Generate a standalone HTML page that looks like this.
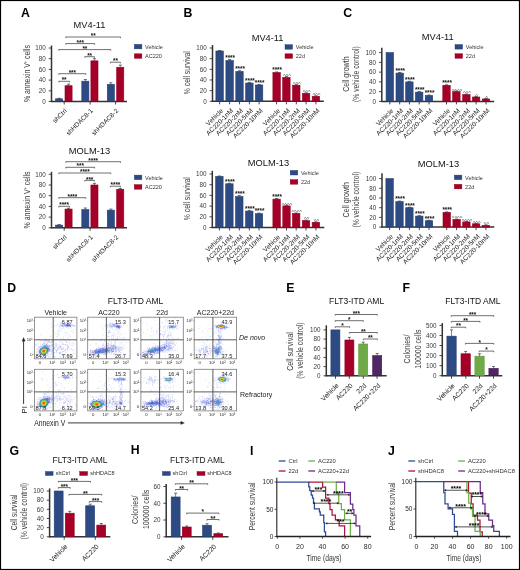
<!DOCTYPE html>
<html><head><meta charset="utf-8"><style>
html,body{margin:0;padding:0;background:#fff;}
svg{display:block;will-change:transform;font-family:"Liberation Sans",sans-serif;}
</style></head><body>
<svg width="520" height="570" viewBox="0 0 520 570">
<rect x="0" y="0" width="520" height="570" fill="#fff"/>
<text x="21" y="16.8" font-size="12.3" font-weight="bold" fill="#000">A</text>
<text x="183.6" y="17" font-size="12.3" font-weight="bold" fill="#000">B</text>
<text x="343.2" y="16.8" font-size="12.3" font-weight="bold" fill="#000">C</text>
<text x="89.5" y="27.7" font-size="9.3" text-anchor="middle" fill="#111">MV4-11</text>
<line x1="51.5" y1="45.5" x2="51.5" y2="102" stroke="#333" stroke-width="1.5"/>
<line x1="48.7" y1="101.5" x2="51.5" y2="101.5" stroke="#333" stroke-width="0.9"/>
<text x="45.7" y="103.77" font-size="6.3" text-anchor="end" fill="#3a3a3a">0</text>
<line x1="48.7" y1="90.8" x2="51.5" y2="90.8" stroke="#333" stroke-width="0.9"/>
<text x="45.7" y="93.07" font-size="6.3" text-anchor="end" fill="#3a3a3a">20</text>
<line x1="48.7" y1="80.1" x2="51.5" y2="80.1" stroke="#333" stroke-width="0.9"/>
<text x="45.7" y="82.37" font-size="6.3" text-anchor="end" fill="#3a3a3a">40</text>
<line x1="48.7" y1="69.4" x2="51.5" y2="69.4" stroke="#333" stroke-width="0.9"/>
<text x="45.7" y="71.67" font-size="6.3" text-anchor="end" fill="#3a3a3a">60</text>
<line x1="48.7" y1="58.7" x2="51.5" y2="58.7" stroke="#333" stroke-width="0.9"/>
<text x="45.7" y="60.97" font-size="6.3" text-anchor="end" fill="#3a3a3a">80</text>
<line x1="48.7" y1="48" x2="51.5" y2="48" stroke="#333" stroke-width="0.9"/>
<text x="45.7" y="50.27" font-size="6.3" text-anchor="end" fill="#3a3a3a">100</text>
<line x1="50.8" y1="101.5" x2="127" y2="101.5" stroke="#333" stroke-width="1.5"/>
<line x1="64.2" y1="101.5" x2="64.2" y2="104.5" stroke="#333" stroke-width="0.9"/>
<line x1="90.1" y1="101.5" x2="90.1" y2="104.5" stroke="#333" stroke-width="0.9"/>
<line x1="115.6" y1="101.5" x2="115.6" y2="104.5" stroke="#333" stroke-width="0.9"/>
<rect x="55.6" y="98.83" width="7.1" height="2.67" fill="#2d4b82" stroke="#213d73" stroke-width="0.6"/>
<line x1="59.15" y1="98.83" x2="59.15" y2="98.29" stroke="#333" stroke-width="0.6"/>
<line x1="57.55" y1="98.29" x2="60.75" y2="98.29" stroke="#333" stroke-width="0.7"/>
<rect x="65" y="85.72" width="7.1" height="15.78" fill="#a60029" stroke="#8e0020" stroke-width="0.6"/>
<line x1="68.55" y1="85.72" x2="68.55" y2="84.11" stroke="#333" stroke-width="0.6"/>
<line x1="66.95" y1="84.11" x2="70.15" y2="84.11" stroke="#333" stroke-width="0.7"/>
<rect x="81.8" y="81.17" width="7.1" height="20.33" fill="#2d4b82" stroke="#213d73" stroke-width="0.6"/>
<line x1="85.35" y1="81.17" x2="85.35" y2="79.56" stroke="#333" stroke-width="0.6"/>
<line x1="83.75" y1="79.56" x2="86.95" y2="79.56" stroke="#333" stroke-width="0.7"/>
<rect x="90.9" y="60.84" width="7.1" height="40.66" fill="#a60029" stroke="#8e0020" stroke-width="0.6"/>
<line x1="94.45" y1="60.84" x2="94.45" y2="58.7" stroke="#333" stroke-width="0.6"/>
<line x1="92.85" y1="58.7" x2="96.05" y2="58.7" stroke="#333" stroke-width="0.7"/>
<rect x="107.3" y="84.38" width="7.1" height="17.12" fill="#2d4b82" stroke="#213d73" stroke-width="0.6"/>
<line x1="110.85" y1="84.38" x2="110.85" y2="82.77" stroke="#333" stroke-width="0.6"/>
<line x1="109.25" y1="82.77" x2="112.45" y2="82.77" stroke="#333" stroke-width="0.7"/>
<rect x="116.7" y="67.26" width="7.1" height="34.24" fill="#a60029" stroke="#8e0020" stroke-width="0.6"/>
<line x1="120.25" y1="67.26" x2="120.25" y2="65.12" stroke="#333" stroke-width="0.6"/>
<line x1="118.65" y1="65.12" x2="121.85" y2="65.12" stroke="#333" stroke-width="0.7"/>
<line x1="65.8" y1="37" x2="120.5" y2="37" stroke="#333" stroke-width="0.7"/>
<line x1="65.8" y1="36.8" x2="65.8" y2="38.2" stroke="#333" stroke-width="0.6"/>
<line x1="120.5" y1="36.8" x2="120.5" y2="38.2" stroke="#333" stroke-width="0.6"/>
<text x="93.15" y="38.1" font-size="6.4" text-anchor="middle" font-weight="bold" fill="#111" letter-spacing="-0.1">**</text>
<line x1="65.8" y1="43.6" x2="94.6" y2="43.6" stroke="#333" stroke-width="0.7"/>
<line x1="65.8" y1="43.4" x2="65.8" y2="44.8" stroke="#333" stroke-width="0.6"/>
<line x1="94.6" y1="43.4" x2="94.6" y2="44.8" stroke="#333" stroke-width="0.6"/>
<text x="80.2" y="44.7" font-size="6.4" text-anchor="middle" font-weight="bold" fill="#111" letter-spacing="-0.1">***</text>
<line x1="58.8" y1="49.6" x2="110.8" y2="49.6" stroke="#333" stroke-width="0.7"/>
<line x1="58.8" y1="49.4" x2="58.8" y2="50.8" stroke="#333" stroke-width="0.6"/>
<line x1="110.8" y1="49.4" x2="110.8" y2="50.8" stroke="#333" stroke-width="0.6"/>
<text x="84.8" y="50.7" font-size="6.4" text-anchor="middle" font-weight="bold" fill="#111" letter-spacing="-0.1">**</text>
<line x1="84.8" y1="56.7" x2="94.4" y2="56.7" stroke="#333" stroke-width="0.7"/>
<line x1="84.8" y1="56.5" x2="84.8" y2="57.9" stroke="#333" stroke-width="0.6"/>
<line x1="94.4" y1="56.5" x2="94.4" y2="57.9" stroke="#333" stroke-width="0.6"/>
<text x="89.6" y="57.8" font-size="6.4" text-anchor="middle" font-weight="bold" fill="#111" letter-spacing="-0.1">**</text>
<line x1="110.4" y1="62.2" x2="120.4" y2="62.2" stroke="#333" stroke-width="0.7"/>
<line x1="110.4" y1="62" x2="110.4" y2="63.4" stroke="#333" stroke-width="0.6"/>
<line x1="120.4" y1="62" x2="120.4" y2="63.4" stroke="#333" stroke-width="0.6"/>
<text x="115.4" y="63.3" font-size="6.4" text-anchor="middle" font-weight="bold" fill="#111" letter-spacing="-0.1">**</text>
<line x1="58.8" y1="73.7" x2="85.8" y2="73.7" stroke="#333" stroke-width="0.7"/>
<line x1="58.8" y1="73.5" x2="58.8" y2="74.9" stroke="#333" stroke-width="0.6"/>
<line x1="85.8" y1="73.5" x2="85.8" y2="74.9" stroke="#333" stroke-width="0.6"/>
<text x="72.3" y="74.8" font-size="6.4" text-anchor="middle" font-weight="bold" fill="#111" letter-spacing="-0.1">***</text>
<line x1="58.8" y1="81.3" x2="69.4" y2="81.3" stroke="#333" stroke-width="0.7"/>
<line x1="58.8" y1="81.1" x2="58.8" y2="82.5" stroke="#333" stroke-width="0.6"/>
<line x1="69.4" y1="81.1" x2="69.4" y2="82.5" stroke="#333" stroke-width="0.6"/>
<text x="64.1" y="82.4" font-size="6.4" text-anchor="middle" font-weight="bold" fill="#111" letter-spacing="-0.1">**</text>
<text transform="translate(67.2 111.3) rotate(-45)" font-size="6.5" text-anchor="end" fill="#222">shCtrl</text>
<text transform="translate(93.2 111.3) rotate(-45)" font-size="6.5" text-anchor="end" fill="#222">shHDAC8-1</text>
<text transform="translate(118.7 111.3) rotate(-45)" font-size="6.5" text-anchor="end" fill="#222">shHDAC8-2</text>
<rect x="134.3" y="44.3" width="7.6" height="4.6" fill="#2d4b82" stroke="#213d73" stroke-width="0.4"/>
<text x="145.1" y="48.7" font-size="5.5" fill="#333">Vehicle</text>
<rect x="134.3" y="53.8" width="7.6" height="4.6" fill="#a60029" stroke="#8e0020" stroke-width="0.4"/>
<text x="145.1" y="58.2" font-size="5.5" fill="#333">AC220</text>
<text x="89.5" y="154" font-size="9.3" text-anchor="middle" fill="#111">MOLM-13</text>
<line x1="51.5" y1="171.8" x2="51.5" y2="228.3" stroke="#333" stroke-width="1.5"/>
<line x1="48.7" y1="227.8" x2="51.5" y2="227.8" stroke="#333" stroke-width="0.9"/>
<text x="45.7" y="230.07" font-size="6.3" text-anchor="end" fill="#3a3a3a">0</text>
<line x1="48.7" y1="217.1" x2="51.5" y2="217.1" stroke="#333" stroke-width="0.9"/>
<text x="45.7" y="219.37" font-size="6.3" text-anchor="end" fill="#3a3a3a">20</text>
<line x1="48.7" y1="206.4" x2="51.5" y2="206.4" stroke="#333" stroke-width="0.9"/>
<text x="45.7" y="208.67" font-size="6.3" text-anchor="end" fill="#3a3a3a">40</text>
<line x1="48.7" y1="195.7" x2="51.5" y2="195.7" stroke="#333" stroke-width="0.9"/>
<text x="45.7" y="197.97" font-size="6.3" text-anchor="end" fill="#3a3a3a">60</text>
<line x1="48.7" y1="185" x2="51.5" y2="185" stroke="#333" stroke-width="0.9"/>
<text x="45.7" y="187.27" font-size="6.3" text-anchor="end" fill="#3a3a3a">80</text>
<line x1="48.7" y1="174.3" x2="51.5" y2="174.3" stroke="#333" stroke-width="0.9"/>
<text x="45.7" y="176.57" font-size="6.3" text-anchor="end" fill="#3a3a3a">100</text>
<line x1="50.8" y1="227.8" x2="127" y2="227.8" stroke="#333" stroke-width="1.5"/>
<line x1="64.2" y1="227.8" x2="64.2" y2="230.8" stroke="#333" stroke-width="0.9"/>
<line x1="90.1" y1="227.8" x2="90.1" y2="230.8" stroke="#333" stroke-width="0.9"/>
<line x1="115.6" y1="227.8" x2="115.6" y2="230.8" stroke="#333" stroke-width="0.9"/>
<rect x="55.6" y="225.12" width="7.1" height="2.68" fill="#2d4b82" stroke="#213d73" stroke-width="0.6"/>
<line x1="59.15" y1="225.12" x2="59.15" y2="224.59" stroke="#333" stroke-width="0.6"/>
<line x1="57.55" y1="224.59" x2="60.75" y2="224.59" stroke="#333" stroke-width="0.7"/>
<rect x="65" y="209.08" width="7.1" height="18.72" fill="#a60029" stroke="#8e0020" stroke-width="0.6"/>
<line x1="68.55" y1="209.08" x2="68.55" y2="208.27" stroke="#333" stroke-width="0.6"/>
<line x1="66.95" y1="208.27" x2="70.15" y2="208.27" stroke="#333" stroke-width="0.7"/>
<rect x="81.8" y="209.61" width="7.1" height="18.19" fill="#2d4b82" stroke="#213d73" stroke-width="0.6"/>
<line x1="85.35" y1="209.61" x2="85.35" y2="208.01" stroke="#333" stroke-width="0.6"/>
<line x1="83.75" y1="208.01" x2="86.95" y2="208.01" stroke="#333" stroke-width="0.7"/>
<rect x="90.9" y="185" width="7.1" height="42.8" fill="#a60029" stroke="#8e0020" stroke-width="0.6"/>
<line x1="94.45" y1="185" x2="94.45" y2="183.4" stroke="#333" stroke-width="0.6"/>
<line x1="92.85" y1="183.4" x2="96.05" y2="183.4" stroke="#333" stroke-width="0.7"/>
<rect x="107.3" y="210.15" width="7.1" height="17.66" fill="#2d4b82" stroke="#213d73" stroke-width="0.6"/>
<line x1="110.85" y1="210.15" x2="110.85" y2="209.08" stroke="#333" stroke-width="0.6"/>
<line x1="109.25" y1="209.08" x2="112.45" y2="209.08" stroke="#333" stroke-width="0.7"/>
<rect x="116.7" y="189.28" width="7.1" height="38.52" fill="#a60029" stroke="#8e0020" stroke-width="0.6"/>
<line x1="120.25" y1="189.28" x2="120.25" y2="188.48" stroke="#333" stroke-width="0.6"/>
<line x1="118.65" y1="188.48" x2="121.85" y2="188.48" stroke="#333" stroke-width="0.7"/>
<line x1="65.8" y1="161.7" x2="120.5" y2="161.7" stroke="#333" stroke-width="0.7"/>
<line x1="65.8" y1="161.5" x2="65.8" y2="162.9" stroke="#333" stroke-width="0.6"/>
<line x1="120.5" y1="161.5" x2="120.5" y2="162.9" stroke="#333" stroke-width="0.6"/>
<text x="93.15" y="162.8" font-size="6.4" text-anchor="middle" font-weight="bold" fill="#111" letter-spacing="-0.1">****</text>
<line x1="65.8" y1="167.3" x2="94.6" y2="167.3" stroke="#333" stroke-width="0.7"/>
<line x1="65.8" y1="167.1" x2="65.8" y2="168.5" stroke="#333" stroke-width="0.6"/>
<line x1="94.6" y1="167.1" x2="94.6" y2="168.5" stroke="#333" stroke-width="0.6"/>
<text x="80.2" y="168.4" font-size="6.4" text-anchor="middle" font-weight="bold" fill="#111" letter-spacing="-0.1">***</text>
<line x1="58.8" y1="173" x2="110.8" y2="173" stroke="#333" stroke-width="0.7"/>
<line x1="58.8" y1="172.8" x2="58.8" y2="174.2" stroke="#333" stroke-width="0.6"/>
<line x1="110.8" y1="172.8" x2="110.8" y2="174.2" stroke="#333" stroke-width="0.6"/>
<text x="84.8" y="174.1" font-size="6.4" text-anchor="middle" font-weight="bold" fill="#111" letter-spacing="-0.1">****</text>
<line x1="84.8" y1="180.4" x2="94.4" y2="180.4" stroke="#333" stroke-width="0.7"/>
<line x1="84.8" y1="180.2" x2="84.8" y2="181.6" stroke="#333" stroke-width="0.6"/>
<line x1="94.4" y1="180.2" x2="94.4" y2="181.6" stroke="#333" stroke-width="0.6"/>
<text x="89.6" y="181.5" font-size="6.4" text-anchor="middle" font-weight="bold" fill="#111" letter-spacing="-0.1">***</text>
<line x1="110.4" y1="186.2" x2="120.4" y2="186.2" stroke="#333" stroke-width="0.7"/>
<line x1="110.4" y1="186" x2="110.4" y2="187.4" stroke="#333" stroke-width="0.6"/>
<line x1="120.4" y1="186" x2="120.4" y2="187.4" stroke="#333" stroke-width="0.6"/>
<text x="115.4" y="187.3" font-size="6.4" text-anchor="middle" font-weight="bold" fill="#111" letter-spacing="-0.1">****</text>
<line x1="58.8" y1="197.7" x2="85.8" y2="197.7" stroke="#333" stroke-width="0.7"/>
<line x1="58.8" y1="197.5" x2="58.8" y2="198.9" stroke="#333" stroke-width="0.6"/>
<line x1="85.8" y1="197.5" x2="85.8" y2="198.9" stroke="#333" stroke-width="0.6"/>
<text x="72.3" y="198.8" font-size="6.4" text-anchor="middle" font-weight="bold" fill="#111" letter-spacing="-0.1">****</text>
<line x1="58.8" y1="206.3" x2="69.4" y2="206.3" stroke="#333" stroke-width="0.7"/>
<line x1="58.8" y1="206.1" x2="58.8" y2="207.5" stroke="#333" stroke-width="0.6"/>
<line x1="69.4" y1="206.1" x2="69.4" y2="207.5" stroke="#333" stroke-width="0.6"/>
<text x="64.1" y="207.4" font-size="6.4" text-anchor="middle" font-weight="bold" fill="#111" letter-spacing="-0.1">****</text>
<text transform="translate(67.2 237.6) rotate(-45)" font-size="6.5" text-anchor="end" fill="#222">shCtrl</text>
<text transform="translate(93.2 237.6) rotate(-45)" font-size="6.5" text-anchor="end" fill="#222">shHDAC8-1</text>
<text transform="translate(118.7 237.6) rotate(-45)" font-size="6.5" text-anchor="end" fill="#222">shHDAC8-2</text>
<rect x="134.3" y="175.1" width="7.6" height="4.6" fill="#2d4b82" stroke="#213d73" stroke-width="0.4"/>
<text x="145.1" y="179.5" font-size="5.5" fill="#333">Vehicle</text>
<rect x="134.3" y="184.6" width="7.6" height="4.6" fill="#a60029" stroke="#8e0020" stroke-width="0.4"/>
<text x="145.1" y="189" font-size="5.5" fill="#333">AC220</text>
<text transform="translate(29.8 73.6) rotate(-90)" font-size="8.3" text-anchor="middle" fill="#333" textLength="57" lengthAdjust="spacingAndGlyphs">% annexin V<tspan font-size="4.5" dy="-2.5">+</tspan><tspan dy="2.5"> cells</tspan></text>
<text transform="translate(29.8 199.9) rotate(-90)" font-size="8.3" text-anchor="middle" fill="#333" textLength="57" lengthAdjust="spacingAndGlyphs">% annexin V<tspan font-size="4.5" dy="-2.5">+</tspan><tspan dy="2.5"> cells</tspan></text>
<text x="267.6" y="40.5" font-size="9.3" text-anchor="middle" fill="#111">MV4-11</text>
<line x1="212.5" y1="45" x2="212.5" y2="101.8" stroke="#333" stroke-width="1.5"/>
<line x1="209.7" y1="101.3" x2="212.5" y2="101.3" stroke="#333" stroke-width="0.9"/>
<text x="206.7" y="103.57" font-size="6.3" text-anchor="end" fill="#3a3a3a">0</text>
<line x1="209.7" y1="90.64" x2="212.5" y2="90.64" stroke="#333" stroke-width="0.9"/>
<text x="206.7" y="92.91" font-size="6.3" text-anchor="end" fill="#3a3a3a">20</text>
<line x1="209.7" y1="79.98" x2="212.5" y2="79.98" stroke="#333" stroke-width="0.9"/>
<text x="206.7" y="82.25" font-size="6.3" text-anchor="end" fill="#3a3a3a">40</text>
<line x1="209.7" y1="69.32" x2="212.5" y2="69.32" stroke="#333" stroke-width="0.9"/>
<text x="206.7" y="71.59" font-size="6.3" text-anchor="end" fill="#3a3a3a">60</text>
<line x1="209.7" y1="58.66" x2="212.5" y2="58.66" stroke="#333" stroke-width="0.9"/>
<text x="206.7" y="60.93" font-size="6.3" text-anchor="end" fill="#3a3a3a">80</text>
<line x1="209.7" y1="48" x2="212.5" y2="48" stroke="#333" stroke-width="0.9"/>
<text x="206.7" y="50.27" font-size="6.3" text-anchor="end" fill="#3a3a3a">100</text>
<line x1="211.8" y1="101.3" x2="323.8" y2="101.3" stroke="#333" stroke-width="1.5"/>
<line x1="219.6" y1="101.3" x2="219.6" y2="104.3" stroke="#333" stroke-width="0.9"/>
<line x1="229.6" y1="101.3" x2="229.6" y2="104.3" stroke="#333" stroke-width="0.9"/>
<line x1="239.5" y1="101.3" x2="239.5" y2="104.3" stroke="#333" stroke-width="0.9"/>
<line x1="249.4" y1="101.3" x2="249.4" y2="104.3" stroke="#333" stroke-width="0.9"/>
<line x1="259.1" y1="101.3" x2="259.1" y2="104.3" stroke="#333" stroke-width="0.9"/>
<line x1="276.6" y1="101.3" x2="276.6" y2="104.3" stroke="#333" stroke-width="0.9"/>
<line x1="286.4" y1="101.3" x2="286.4" y2="104.3" stroke="#333" stroke-width="0.9"/>
<line x1="296.3" y1="101.3" x2="296.3" y2="104.3" stroke="#333" stroke-width="0.9"/>
<line x1="306.1" y1="101.3" x2="306.1" y2="104.3" stroke="#333" stroke-width="0.9"/>
<line x1="315.9" y1="101.3" x2="315.9" y2="104.3" stroke="#333" stroke-width="0.9"/>
<rect x="215.9" y="50.98" width="7.4" height="50.32" fill="#2d4b82" stroke="#213d73" stroke-width="0.6"/>
<line x1="219.6" y1="50.98" x2="219.6" y2="50.56" stroke="#333" stroke-width="0.6"/>
<line x1="218" y1="50.56" x2="221.2" y2="50.56" stroke="#333" stroke-width="0.7"/>
<rect x="225.9" y="60.53" width="7.4" height="40.77" fill="#2d4b82" stroke="#213d73" stroke-width="0.6"/>
<line x1="229.6" y1="60.53" x2="229.6" y2="59.46" stroke="#333" stroke-width="0.6"/>
<line x1="228" y1="59.46" x2="231.2" y2="59.46" stroke="#333" stroke-width="0.7"/>
<rect x="235.8" y="71.51" width="7.4" height="29.79" fill="#2d4b82" stroke="#213d73" stroke-width="0.6"/>
<line x1="239.5" y1="71.51" x2="239.5" y2="70.71" stroke="#333" stroke-width="0.6"/>
<line x1="237.9" y1="70.71" x2="241.1" y2="70.71" stroke="#333" stroke-width="0.7"/>
<rect x="245.7" y="83.02" width="7.4" height="18.28" fill="#2d4b82" stroke="#213d73" stroke-width="0.6"/>
<line x1="249.4" y1="83.02" x2="249.4" y2="82.38" stroke="#333" stroke-width="0.6"/>
<line x1="247.8" y1="82.38" x2="251" y2="82.38" stroke="#333" stroke-width="0.7"/>
<rect x="255.4" y="84.99" width="7.4" height="16.31" fill="#2d4b82" stroke="#213d73" stroke-width="0.6"/>
<line x1="259.1" y1="84.99" x2="259.1" y2="84.46" stroke="#333" stroke-width="0.6"/>
<line x1="257.5" y1="84.46" x2="260.7" y2="84.46" stroke="#333" stroke-width="0.7"/>
<rect x="272.9" y="72.52" width="7.4" height="28.78" fill="#a60029" stroke="#8e0020" stroke-width="0.6"/>
<line x1="276.6" y1="72.52" x2="276.6" y2="71.98" stroke="#333" stroke-width="0.6"/>
<line x1="275" y1="71.98" x2="278.2" y2="71.98" stroke="#333" stroke-width="0.7"/>
<rect x="282.7" y="77.42" width="7.4" height="23.88" fill="#a60029" stroke="#8e0020" stroke-width="0.6"/>
<line x1="286.4" y1="77.42" x2="286.4" y2="76.62" stroke="#333" stroke-width="0.6"/>
<line x1="284.8" y1="76.62" x2="288" y2="76.62" stroke="#333" stroke-width="0.7"/>
<rect x="292.6" y="85.2" width="7.4" height="16.1" fill="#a60029" stroke="#8e0020" stroke-width="0.6"/>
<line x1="296.3" y1="85.2" x2="296.3" y2="84.67" stroke="#333" stroke-width="0.6"/>
<line x1="294.7" y1="84.67" x2="297.9" y2="84.67" stroke="#333" stroke-width="0.7"/>
<rect x="302.4" y="93.41" width="7.4" height="7.89" fill="#a60029" stroke="#8e0020" stroke-width="0.6"/>
<line x1="306.1" y1="93.41" x2="306.1" y2="92.77" stroke="#333" stroke-width="0.6"/>
<line x1="304.5" y1="92.77" x2="307.7" y2="92.77" stroke="#333" stroke-width="0.7"/>
<rect x="312.2" y="96.29" width="7.4" height="5.01" fill="#a60029" stroke="#8e0020" stroke-width="0.6"/>
<line x1="315.9" y1="96.29" x2="315.9" y2="95.76" stroke="#333" stroke-width="0.6"/>
<line x1="314.3" y1="95.76" x2="317.5" y2="95.76" stroke="#333" stroke-width="0.7"/>
<text x="230.1" y="59.76" font-size="6.4" text-anchor="middle" font-weight="bold" fill="#111" letter-spacing="-0.1">****</text>
<text x="240" y="71.01" font-size="6.4" text-anchor="middle" font-weight="bold" fill="#111" letter-spacing="-0.1">****</text>
<text x="249.9" y="82.68" font-size="6.4" text-anchor="middle" font-weight="bold" fill="#111" letter-spacing="-0.1">****</text>
<text x="259.6" y="84.76" font-size="6.4" text-anchor="middle" font-weight="bold" fill="#111" letter-spacing="-0.1">****</text>
<text x="277.1" y="72.28" font-size="6.4" text-anchor="middle" font-weight="bold" fill="#111" letter-spacing="-0.1">****</text>
<text x="286.9" y="78.02" font-size="5.8" text-anchor="middle" fill="#555" letter-spacing="-0.1">^^^</text>
<text x="296.8" y="86.07" font-size="5.8" text-anchor="middle" fill="#555" letter-spacing="-0.1">^^^</text>
<text x="306.6" y="94.17" font-size="5.8" text-anchor="middle" fill="#555" letter-spacing="-0.1">^^^</text>
<text x="316.4" y="97.16" font-size="5.8" text-anchor="middle" fill="#555" letter-spacing="-0.1">^^^</text>
<rect x="285" y="44.6" width="7.6" height="4.6" fill="#2d4b82" stroke="#213d73" stroke-width="0.4"/>
<text x="295.8" y="49" font-size="5.5" fill="#333">Vehicle</text>
<rect x="285" y="53.8" width="7.6" height="4.6" fill="#a60029" stroke="#8e0020" stroke-width="0.4"/>
<text x="295.8" y="58.2" font-size="5.5" fill="#333">22d</text>
<text transform="translate(223.6 111.1) rotate(-45)" font-size="6.6" text-anchor="end" fill="#222">Vehicle</text>
<text transform="translate(233.6 111.1) rotate(-45)" font-size="6.6" text-anchor="end" fill="#222">AC220-1nM</text>
<text transform="translate(243.5 111.1) rotate(-45)" font-size="6.6" text-anchor="end" fill="#222">AC220-2nM</text>
<text transform="translate(253.4 111.1) rotate(-45)" font-size="6.6" text-anchor="end" fill="#222">AC220-5nM</text>
<text transform="translate(263.1 111.1) rotate(-45)" font-size="6.6" text-anchor="end" fill="#222">AC220-10nM</text>
<text transform="translate(280.6 111.1) rotate(-45)" font-size="6.6" text-anchor="end" fill="#222">Vehicle</text>
<text transform="translate(290.4 111.1) rotate(-45)" font-size="6.6" text-anchor="end" fill="#222">AC220-1nM</text>
<text transform="translate(300.3 111.1) rotate(-45)" font-size="6.6" text-anchor="end" fill="#222">AC220-2nM</text>
<text transform="translate(310.1 111.1) rotate(-45)" font-size="6.6" text-anchor="end" fill="#222">AC220-5nM</text>
<text transform="translate(319.9 111.1) rotate(-45)" font-size="6.6" text-anchor="end" fill="#222">AC220-10nM</text>
<text transform="translate(190.3 72.65) rotate(-90)" font-size="8.3" text-anchor="middle" fill="#3c3c3c" textLength="43" lengthAdjust="spacingAndGlyphs">% cell survival</text>
<text x="268.4" y="165.9" font-size="9.3" text-anchor="middle" fill="#111">MOLM-13</text>
<line x1="212.3" y1="170.8" x2="212.3" y2="228" stroke="#333" stroke-width="1.5"/>
<line x1="209.5" y1="227.5" x2="212.3" y2="227.5" stroke="#333" stroke-width="0.9"/>
<text x="206.5" y="229.77" font-size="6.3" text-anchor="end" fill="#3a3a3a">0</text>
<line x1="209.5" y1="216.8" x2="212.3" y2="216.8" stroke="#333" stroke-width="0.9"/>
<text x="206.5" y="219.07" font-size="6.3" text-anchor="end" fill="#3a3a3a">20</text>
<line x1="209.5" y1="206.1" x2="212.3" y2="206.1" stroke="#333" stroke-width="0.9"/>
<text x="206.5" y="208.37" font-size="6.3" text-anchor="end" fill="#3a3a3a">40</text>
<line x1="209.5" y1="195.4" x2="212.3" y2="195.4" stroke="#333" stroke-width="0.9"/>
<text x="206.5" y="197.67" font-size="6.3" text-anchor="end" fill="#3a3a3a">60</text>
<line x1="209.5" y1="184.7" x2="212.3" y2="184.7" stroke="#333" stroke-width="0.9"/>
<text x="206.5" y="186.97" font-size="6.3" text-anchor="end" fill="#3a3a3a">80</text>
<line x1="209.5" y1="174" x2="212.3" y2="174" stroke="#333" stroke-width="0.9"/>
<text x="206.5" y="176.27" font-size="6.3" text-anchor="end" fill="#3a3a3a">100</text>
<line x1="211.6" y1="227.5" x2="324.3" y2="227.5" stroke="#333" stroke-width="1.5"/>
<line x1="219.4" y1="227.5" x2="219.4" y2="230.5" stroke="#333" stroke-width="0.9"/>
<line x1="229.4" y1="227.5" x2="229.4" y2="230.5" stroke="#333" stroke-width="0.9"/>
<line x1="239.3" y1="227.5" x2="239.3" y2="230.5" stroke="#333" stroke-width="0.9"/>
<line x1="249.3" y1="227.5" x2="249.3" y2="230.5" stroke="#333" stroke-width="0.9"/>
<line x1="259" y1="227.5" x2="259" y2="230.5" stroke="#333" stroke-width="0.9"/>
<line x1="276.6" y1="227.5" x2="276.6" y2="230.5" stroke="#333" stroke-width="0.9"/>
<line x1="286.5" y1="227.5" x2="286.5" y2="230.5" stroke="#333" stroke-width="0.9"/>
<line x1="296.2" y1="227.5" x2="296.2" y2="230.5" stroke="#333" stroke-width="0.9"/>
<line x1="306" y1="227.5" x2="306" y2="230.5" stroke="#333" stroke-width="0.9"/>
<line x1="315.9" y1="227.5" x2="315.9" y2="230.5" stroke="#333" stroke-width="0.9"/>
<rect x="215.7" y="176.41" width="7.4" height="51.09" fill="#2d4b82" stroke="#213d73" stroke-width="0.6"/>
<line x1="219.4" y1="176.41" x2="219.4" y2="175.98" stroke="#333" stroke-width="0.6"/>
<line x1="217.8" y1="175.98" x2="221" y2="175.98" stroke="#333" stroke-width="0.7"/>
<rect x="225.7" y="183.79" width="7.4" height="43.71" fill="#2d4b82" stroke="#213d73" stroke-width="0.6"/>
<line x1="229.4" y1="183.79" x2="229.4" y2="183.26" stroke="#333" stroke-width="0.6"/>
<line x1="227.8" y1="183.26" x2="231" y2="183.26" stroke="#333" stroke-width="0.7"/>
<rect x="235.6" y="196.58" width="7.4" height="30.92" fill="#2d4b82" stroke="#213d73" stroke-width="0.6"/>
<line x1="239.3" y1="196.58" x2="239.3" y2="195.51" stroke="#333" stroke-width="0.6"/>
<line x1="237.7" y1="195.51" x2="240.9" y2="195.51" stroke="#333" stroke-width="0.7"/>
<rect x="245.6" y="211.08" width="7.4" height="16.42" fill="#2d4b82" stroke="#213d73" stroke-width="0.6"/>
<line x1="249.3" y1="211.08" x2="249.3" y2="210.43" stroke="#333" stroke-width="0.6"/>
<line x1="247.7" y1="210.43" x2="250.9" y2="210.43" stroke="#333" stroke-width="0.7"/>
<rect x="255.3" y="213.7" width="7.4" height="13.8" fill="#2d4b82" stroke="#213d73" stroke-width="0.6"/>
<line x1="259" y1="213.7" x2="259" y2="213.16" stroke="#333" stroke-width="0.6"/>
<line x1="257.4" y1="213.16" x2="260.6" y2="213.16" stroke="#333" stroke-width="0.7"/>
<rect x="272.9" y="199.15" width="7.4" height="28.35" fill="#a60029" stroke="#8e0020" stroke-width="0.6"/>
<line x1="276.6" y1="199.15" x2="276.6" y2="198.5" stroke="#333" stroke-width="0.6"/>
<line x1="275" y1="198.5" x2="278.2" y2="198.5" stroke="#333" stroke-width="0.7"/>
<rect x="282.8" y="205.89" width="7.4" height="21.61" fill="#a60029" stroke="#8e0020" stroke-width="0.6"/>
<line x1="286.5" y1="205.89" x2="286.5" y2="205.35" stroke="#333" stroke-width="0.6"/>
<line x1="284.9" y1="205.35" x2="288.1" y2="205.35" stroke="#333" stroke-width="0.7"/>
<rect x="292.5" y="213.48" width="7.4" height="14.02" fill="#a60029" stroke="#8e0020" stroke-width="0.6"/>
<line x1="296.2" y1="213.48" x2="296.2" y2="212.95" stroke="#333" stroke-width="0.6"/>
<line x1="294.6" y1="212.95" x2="297.8" y2="212.95" stroke="#333" stroke-width="0.7"/>
<rect x="302.3" y="220.6" width="7.4" height="6.9" fill="#a60029" stroke="#8e0020" stroke-width="0.6"/>
<line x1="306" y1="220.6" x2="306" y2="220.06" stroke="#333" stroke-width="0.6"/>
<line x1="304.4" y1="220.06" x2="307.6" y2="220.06" stroke="#333" stroke-width="0.7"/>
<rect x="312.2" y="222.31" width="7.4" height="5.19" fill="#a60029" stroke="#8e0020" stroke-width="0.6"/>
<line x1="315.9" y1="222.31" x2="315.9" y2="221.78" stroke="#333" stroke-width="0.6"/>
<line x1="314.3" y1="221.78" x2="317.5" y2="221.78" stroke="#333" stroke-width="0.7"/>
<text x="229.9" y="183.56" font-size="6.4" text-anchor="middle" font-weight="bold" fill="#111" letter-spacing="-0.1">****</text>
<text x="239.8" y="195.81" font-size="6.4" text-anchor="middle" font-weight="bold" fill="#111" letter-spacing="-0.1">****</text>
<text x="249.8" y="210.73" font-size="6.4" text-anchor="middle" font-weight="bold" fill="#111" letter-spacing="-0.1">****</text>
<text x="259.5" y="213.46" font-size="6.4" text-anchor="middle" font-weight="bold" fill="#111" letter-spacing="-0.1">****</text>
<text x="277.1" y="198.8" font-size="6.4" text-anchor="middle" font-weight="bold" fill="#111" letter-spacing="-0.1">****</text>
<text x="287" y="206.75" font-size="5.8" text-anchor="middle" fill="#555" letter-spacing="-0.1">^^^^</text>
<text x="296.7" y="214.35" font-size="5.8" text-anchor="middle" fill="#555" letter-spacing="-0.1">^^^^</text>
<text x="306.5" y="221.46" font-size="5.8" text-anchor="middle" fill="#555" letter-spacing="-0.1">^^</text>
<text x="316.4" y="223.18" font-size="5.8" text-anchor="middle" fill="#555" letter-spacing="-0.1">^^</text>
<rect x="290.2" y="170.4" width="7.6" height="4.6" fill="#2d4b82" stroke="#213d73" stroke-width="0.4"/>
<text x="301" y="174.8" font-size="5.5" fill="#333">Vehicle</text>
<rect x="290.2" y="179.6" width="7.6" height="4.6" fill="#a60029" stroke="#8e0020" stroke-width="0.4"/>
<text x="301" y="184" font-size="5.5" fill="#333">22d</text>
<text transform="translate(223.4 237.3) rotate(-45)" font-size="6.6" text-anchor="end" fill="#222">Vehicle</text>
<text transform="translate(233.4 237.3) rotate(-45)" font-size="6.6" text-anchor="end" fill="#222">AC220-1nM</text>
<text transform="translate(243.3 237.3) rotate(-45)" font-size="6.6" text-anchor="end" fill="#222">AC220-2nM</text>
<text transform="translate(253.3 237.3) rotate(-45)" font-size="6.6" text-anchor="end" fill="#222">AC220-5nM</text>
<text transform="translate(263 237.3) rotate(-45)" font-size="6.6" text-anchor="end" fill="#222">AC220-10nM</text>
<text transform="translate(280.6 237.3) rotate(-45)" font-size="6.6" text-anchor="end" fill="#222">Vehicle</text>
<text transform="translate(290.5 237.3) rotate(-45)" font-size="6.6" text-anchor="end" fill="#222">AC220-1nM</text>
<text transform="translate(300.2 237.3) rotate(-45)" font-size="6.6" text-anchor="end" fill="#222">AC220-2nM</text>
<text transform="translate(310 237.3) rotate(-45)" font-size="6.6" text-anchor="end" fill="#222">AC220-5nM</text>
<text transform="translate(319.9 237.3) rotate(-45)" font-size="6.6" text-anchor="end" fill="#222">AC220-10nM</text>
<text transform="translate(190.1 198.65) rotate(-90)" font-size="8.3" text-anchor="middle" fill="#3c3c3c" textLength="43" lengthAdjust="spacingAndGlyphs">% cell survival</text>
<text x="437.8" y="40.2" font-size="9.3" text-anchor="middle" fill="#111">MV4-11</text>
<line x1="381.8" y1="47.8" x2="381.8" y2="101.9" stroke="#333" stroke-width="1.5"/>
<line x1="379" y1="101.4" x2="381.8" y2="101.4" stroke="#333" stroke-width="0.9"/>
<text x="376" y="103.67" font-size="6.3" text-anchor="end" fill="#3a3a3a">0</text>
<line x1="379" y1="91.64" x2="381.8" y2="91.64" stroke="#333" stroke-width="0.9"/>
<text x="376" y="93.91" font-size="6.3" text-anchor="end" fill="#3a3a3a">20</text>
<line x1="379" y1="81.88" x2="381.8" y2="81.88" stroke="#333" stroke-width="0.9"/>
<text x="376" y="84.15" font-size="6.3" text-anchor="end" fill="#3a3a3a">40</text>
<line x1="379" y1="72.12" x2="381.8" y2="72.12" stroke="#333" stroke-width="0.9"/>
<text x="376" y="74.39" font-size="6.3" text-anchor="end" fill="#3a3a3a">60</text>
<line x1="379" y1="62.36" x2="381.8" y2="62.36" stroke="#333" stroke-width="0.9"/>
<text x="376" y="64.63" font-size="6.3" text-anchor="end" fill="#3a3a3a">80</text>
<line x1="379" y1="52.6" x2="381.8" y2="52.6" stroke="#333" stroke-width="0.9"/>
<text x="376" y="54.87" font-size="6.3" text-anchor="end" fill="#3a3a3a">100</text>
<line x1="381.1" y1="101.4" x2="494.2" y2="101.4" stroke="#333" stroke-width="1.5"/>
<line x1="389.8" y1="101.4" x2="389.8" y2="104.4" stroke="#333" stroke-width="0.9"/>
<line x1="399.7" y1="101.4" x2="399.7" y2="104.4" stroke="#333" stroke-width="0.9"/>
<line x1="409.4" y1="101.4" x2="409.4" y2="104.4" stroke="#333" stroke-width="0.9"/>
<line x1="419.2" y1="101.4" x2="419.2" y2="104.4" stroke="#333" stroke-width="0.9"/>
<line x1="429" y1="101.4" x2="429" y2="104.4" stroke="#333" stroke-width="0.9"/>
<line x1="446.5" y1="101.4" x2="446.5" y2="104.4" stroke="#333" stroke-width="0.9"/>
<line x1="456.4" y1="101.4" x2="456.4" y2="104.4" stroke="#333" stroke-width="0.9"/>
<line x1="466.4" y1="101.4" x2="466.4" y2="104.4" stroke="#333" stroke-width="0.9"/>
<line x1="476.1" y1="101.4" x2="476.1" y2="104.4" stroke="#333" stroke-width="0.9"/>
<line x1="486" y1="101.4" x2="486" y2="104.4" stroke="#333" stroke-width="0.9"/>
<rect x="386.1" y="52.6" width="7.4" height="48.8" fill="#2d4b82" stroke="#213d73" stroke-width="0.6"/>
<rect x="396" y="73.1" width="7.4" height="28.3" fill="#2d4b82" stroke="#213d73" stroke-width="0.6"/>
<line x1="399.7" y1="73.1" x2="399.7" y2="72.51" stroke="#333" stroke-width="0.6"/>
<line x1="398.1" y1="72.51" x2="401.3" y2="72.51" stroke="#333" stroke-width="0.7"/>
<rect x="405.7" y="81.88" width="7.4" height="19.52" fill="#2d4b82" stroke="#213d73" stroke-width="0.6"/>
<line x1="409.4" y1="81.88" x2="409.4" y2="81.29" stroke="#333" stroke-width="0.6"/>
<line x1="407.8" y1="81.29" x2="411" y2="81.29" stroke="#333" stroke-width="0.7"/>
<rect x="415.5" y="92.13" width="7.4" height="9.27" fill="#2d4b82" stroke="#213d73" stroke-width="0.6"/>
<line x1="419.2" y1="92.13" x2="419.2" y2="91.54" stroke="#333" stroke-width="0.6"/>
<line x1="417.6" y1="91.54" x2="420.8" y2="91.54" stroke="#333" stroke-width="0.7"/>
<rect x="425.3" y="95.54" width="7.4" height="5.86" fill="#2d4b82" stroke="#213d73" stroke-width="0.6"/>
<line x1="429" y1="95.54" x2="429" y2="94.96" stroke="#333" stroke-width="0.6"/>
<line x1="427.4" y1="94.96" x2="430.6" y2="94.96" stroke="#333" stroke-width="0.7"/>
<rect x="442.8" y="85.3" width="7.4" height="16.1" fill="#a60029" stroke="#8e0020" stroke-width="0.6"/>
<line x1="446.5" y1="85.3" x2="446.5" y2="84.81" stroke="#333" stroke-width="0.6"/>
<line x1="444.9" y1="84.81" x2="448.1" y2="84.81" stroke="#333" stroke-width="0.7"/>
<rect x="452.7" y="91.64" width="7.4" height="9.76" fill="#a60029" stroke="#8e0020" stroke-width="0.6"/>
<line x1="456.4" y1="91.64" x2="456.4" y2="91.15" stroke="#333" stroke-width="0.6"/>
<line x1="454.8" y1="91.15" x2="458" y2="91.15" stroke="#333" stroke-width="0.7"/>
<rect x="462.7" y="94.57" width="7.4" height="6.83" fill="#a60029" stroke="#8e0020" stroke-width="0.6"/>
<line x1="466.4" y1="94.57" x2="466.4" y2="93.98" stroke="#333" stroke-width="0.6"/>
<line x1="464.8" y1="93.98" x2="468" y2="93.98" stroke="#333" stroke-width="0.7"/>
<rect x="472.4" y="97.01" width="7.4" height="4.39" fill="#a60029" stroke="#8e0020" stroke-width="0.6"/>
<line x1="476.1" y1="97.01" x2="476.1" y2="96.52" stroke="#333" stroke-width="0.6"/>
<line x1="474.5" y1="96.52" x2="477.7" y2="96.52" stroke="#333" stroke-width="0.7"/>
<rect x="482.3" y="98.96" width="7.4" height="2.44" fill="#a60029" stroke="#8e0020" stroke-width="0.6"/>
<line x1="486" y1="98.96" x2="486" y2="98.47" stroke="#333" stroke-width="0.6"/>
<line x1="484.4" y1="98.47" x2="487.6" y2="98.47" stroke="#333" stroke-width="0.7"/>
<text x="400.2" y="72.81" font-size="6.4" text-anchor="middle" font-weight="bold" fill="#111" letter-spacing="-0.1">****</text>
<text x="409.9" y="81.59" font-size="6.4" text-anchor="middle" font-weight="bold" fill="#111" letter-spacing="-0.1">****</text>
<text x="419.7" y="91.84" font-size="6.4" text-anchor="middle" font-weight="bold" fill="#111" letter-spacing="-0.1">****</text>
<text x="429.5" y="95.26" font-size="6.4" text-anchor="middle" font-weight="bold" fill="#111" letter-spacing="-0.1">****</text>
<text x="447" y="85.11" font-size="6.4" text-anchor="middle" font-weight="bold" fill="#111" letter-spacing="-0.1">****</text>
<text x="456.9" y="92.55" font-size="5.8" text-anchor="middle" fill="#555" letter-spacing="-0.1">^^^^</text>
<text x="466.9" y="95.38" font-size="5.8" text-anchor="middle" fill="#555" letter-spacing="-0.1">^^^</text>
<text x="476.6" y="97.92" font-size="5.8" text-anchor="middle" fill="#555" letter-spacing="-0.1">^</text>
<text x="486.5" y="99.87" font-size="5.8" text-anchor="middle" fill="#555" letter-spacing="-0.1">^</text>
<rect x="455" y="44.5" width="7.6" height="4.6" fill="#2d4b82" stroke="#213d73" stroke-width="0.4"/>
<text x="465.8" y="48.9" font-size="5.5" fill="#333">Vehicle</text>
<rect x="455" y="53.7" width="7.6" height="4.6" fill="#a60029" stroke="#8e0020" stroke-width="0.4"/>
<text x="465.8" y="58.1" font-size="5.5" fill="#333">22d</text>
<text transform="translate(393.8 111.2) rotate(-45)" font-size="6.6" text-anchor="end" fill="#222">Vehicle</text>
<text transform="translate(403.7 111.2) rotate(-45)" font-size="6.6" text-anchor="end" fill="#222">AC220-1nM</text>
<text transform="translate(413.4 111.2) rotate(-45)" font-size="6.6" text-anchor="end" fill="#222">AC220-2nM</text>
<text transform="translate(423.2 111.2) rotate(-45)" font-size="6.6" text-anchor="end" fill="#222">AC220-5nM</text>
<text transform="translate(433 111.2) rotate(-45)" font-size="6.6" text-anchor="end" fill="#222">AC220-10nM</text>
<text transform="translate(450.5 111.2) rotate(-45)" font-size="6.6" text-anchor="end" fill="#222">Vehicle</text>
<text transform="translate(460.4 111.2) rotate(-45)" font-size="6.6" text-anchor="end" fill="#222">AC220-1nM</text>
<text transform="translate(470.4 111.2) rotate(-45)" font-size="6.6" text-anchor="end" fill="#222">AC220-2nM</text>
<text transform="translate(480.1 111.2) rotate(-45)" font-size="6.6" text-anchor="end" fill="#222">AC220-5nM</text>
<text transform="translate(490 111.2) rotate(-45)" font-size="6.6" text-anchor="end" fill="#222">AC220-10nM</text>
<text transform="translate(348.8 74.1) rotate(-90)" font-size="8.3" text-anchor="middle" fill="#3c3c3c" textLength="35.4" lengthAdjust="spacingAndGlyphs">Cell growth</text>
<text transform="translate(358.5 74.1) rotate(-90)" font-size="8.3" text-anchor="middle" fill="#3c3c3c" textLength="55.8" lengthAdjust="spacingAndGlyphs">(% vehicle control)</text>
<text x="438.5" y="167" font-size="9.3" text-anchor="middle" fill="#111">MOLM-13</text>
<line x1="382" y1="173.3" x2="382" y2="227.6" stroke="#333" stroke-width="1.5"/>
<line x1="379.2" y1="227.1" x2="382" y2="227.1" stroke="#333" stroke-width="0.9"/>
<text x="376.2" y="229.37" font-size="6.3" text-anchor="end" fill="#3a3a3a">0</text>
<line x1="379.2" y1="217.4" x2="382" y2="217.4" stroke="#333" stroke-width="0.9"/>
<text x="376.2" y="219.67" font-size="6.3" text-anchor="end" fill="#3a3a3a">20</text>
<line x1="379.2" y1="207.7" x2="382" y2="207.7" stroke="#333" stroke-width="0.9"/>
<text x="376.2" y="209.97" font-size="6.3" text-anchor="end" fill="#3a3a3a">40</text>
<line x1="379.2" y1="198" x2="382" y2="198" stroke="#333" stroke-width="0.9"/>
<text x="376.2" y="200.27" font-size="6.3" text-anchor="end" fill="#3a3a3a">60</text>
<line x1="379.2" y1="188.3" x2="382" y2="188.3" stroke="#333" stroke-width="0.9"/>
<text x="376.2" y="190.57" font-size="6.3" text-anchor="end" fill="#3a3a3a">80</text>
<line x1="379.2" y1="178.6" x2="382" y2="178.6" stroke="#333" stroke-width="0.9"/>
<text x="376.2" y="180.87" font-size="6.3" text-anchor="end" fill="#3a3a3a">100</text>
<line x1="381.3" y1="227.1" x2="494.3" y2="227.1" stroke="#333" stroke-width="1.5"/>
<line x1="389.6" y1="227.1" x2="389.6" y2="230.1" stroke="#333" stroke-width="0.9"/>
<line x1="399.5" y1="227.1" x2="399.5" y2="230.1" stroke="#333" stroke-width="0.9"/>
<line x1="409.4" y1="227.1" x2="409.4" y2="230.1" stroke="#333" stroke-width="0.9"/>
<line x1="419.3" y1="227.1" x2="419.3" y2="230.1" stroke="#333" stroke-width="0.9"/>
<line x1="429" y1="227.1" x2="429" y2="230.1" stroke="#333" stroke-width="0.9"/>
<line x1="446.7" y1="227.1" x2="446.7" y2="230.1" stroke="#333" stroke-width="0.9"/>
<line x1="456.6" y1="227.1" x2="456.6" y2="230.1" stroke="#333" stroke-width="0.9"/>
<line x1="466.4" y1="227.1" x2="466.4" y2="230.1" stroke="#333" stroke-width="0.9"/>
<line x1="476.1" y1="227.1" x2="476.1" y2="230.1" stroke="#333" stroke-width="0.9"/>
<line x1="485.9" y1="227.1" x2="485.9" y2="230.1" stroke="#333" stroke-width="0.9"/>
<rect x="385.9" y="178.6" width="7.4" height="48.5" fill="#2d4b82" stroke="#213d73" stroke-width="0.6"/>
<rect x="395.8" y="201.64" width="7.4" height="25.46" fill="#2d4b82" stroke="#213d73" stroke-width="0.6"/>
<line x1="399.5" y1="201.64" x2="399.5" y2="201.06" stroke="#333" stroke-width="0.6"/>
<line x1="397.9" y1="201.06" x2="401.1" y2="201.06" stroke="#333" stroke-width="0.7"/>
<rect x="405.7" y="207.7" width="7.4" height="19.4" fill="#2d4b82" stroke="#213d73" stroke-width="0.6"/>
<line x1="409.4" y1="207.7" x2="409.4" y2="207.21" stroke="#333" stroke-width="0.6"/>
<line x1="407.8" y1="207.21" x2="411" y2="207.21" stroke="#333" stroke-width="0.7"/>
<rect x="415.6" y="216.09" width="7.4" height="11.01" fill="#2d4b82" stroke="#213d73" stroke-width="0.6"/>
<line x1="419.3" y1="216.09" x2="419.3" y2="215.61" stroke="#333" stroke-width="0.6"/>
<line x1="417.7" y1="215.61" x2="420.9" y2="215.61" stroke="#333" stroke-width="0.7"/>
<rect x="425.3" y="220.7" width="7.4" height="6.4" fill="#2d4b82" stroke="#213d73" stroke-width="0.6"/>
<line x1="429" y1="220.7" x2="429" y2="220.21" stroke="#333" stroke-width="0.6"/>
<line x1="427.4" y1="220.21" x2="430.6" y2="220.21" stroke="#333" stroke-width="0.7"/>
<rect x="443" y="212.36" width="7.4" height="14.74" fill="#a60029" stroke="#8e0020" stroke-width="0.6"/>
<line x1="446.7" y1="212.36" x2="446.7" y2="211.87" stroke="#333" stroke-width="0.6"/>
<line x1="445.1" y1="211.87" x2="448.3" y2="211.87" stroke="#333" stroke-width="0.7"/>
<rect x="452.9" y="219.49" width="7.4" height="7.61" fill="#a60029" stroke="#8e0020" stroke-width="0.6"/>
<line x1="456.6" y1="219.49" x2="456.6" y2="219" stroke="#333" stroke-width="0.6"/>
<line x1="455" y1="219" x2="458.2" y2="219" stroke="#333" stroke-width="0.7"/>
<rect x="462.7" y="221.91" width="7.4" height="5.19" fill="#a60029" stroke="#8e0020" stroke-width="0.6"/>
<line x1="466.4" y1="221.91" x2="466.4" y2="221.43" stroke="#333" stroke-width="0.6"/>
<line x1="464.8" y1="221.43" x2="468" y2="221.43" stroke="#333" stroke-width="0.7"/>
<rect x="472.4" y="223.8" width="7.4" height="3.3" fill="#a60029" stroke="#8e0020" stroke-width="0.6"/>
<line x1="476.1" y1="223.8" x2="476.1" y2="223.32" stroke="#333" stroke-width="0.6"/>
<line x1="474.5" y1="223.32" x2="477.7" y2="223.32" stroke="#333" stroke-width="0.7"/>
<rect x="482.2" y="225.31" width="7.4" height="1.79" fill="#a60029" stroke="#8e0020" stroke-width="0.6"/>
<line x1="485.9" y1="225.31" x2="485.9" y2="224.82" stroke="#333" stroke-width="0.6"/>
<line x1="484.3" y1="224.82" x2="487.5" y2="224.82" stroke="#333" stroke-width="0.7"/>
<text x="400" y="201.36" font-size="6.4" text-anchor="middle" font-weight="bold" fill="#111" letter-spacing="-0.1">****</text>
<text x="409.9" y="207.51" font-size="6.4" text-anchor="middle" font-weight="bold" fill="#111" letter-spacing="-0.1">****</text>
<text x="419.8" y="215.91" font-size="6.4" text-anchor="middle" font-weight="bold" fill="#111" letter-spacing="-0.1">****</text>
<text x="429.5" y="220.51" font-size="6.4" text-anchor="middle" font-weight="bold" fill="#111" letter-spacing="-0.1">****</text>
<text x="447.2" y="212.17" font-size="6.4" text-anchor="middle" font-weight="bold" fill="#111" letter-spacing="-0.1">****</text>
<text x="457.1" y="220.4" font-size="5.8" text-anchor="middle" fill="#555" letter-spacing="-0.1">^^^^</text>
<text x="466.9" y="222.83" font-size="5.8" text-anchor="middle" fill="#555" letter-spacing="-0.1">^^^^</text>
<text x="476.6" y="224.72" font-size="5.8" text-anchor="middle" fill="#555" letter-spacing="-0.1">^^^</text>
<text x="486.4" y="226.22" font-size="5.8" text-anchor="middle" fill="#555" letter-spacing="-0.1">^^</text>
<rect x="454.3" y="175.1" width="7.6" height="4.6" fill="#2d4b82" stroke="#213d73" stroke-width="0.4"/>
<text x="465.1" y="179.5" font-size="5.5" fill="#333">Vehicle</text>
<rect x="454.3" y="184.3" width="7.6" height="4.6" fill="#a60029" stroke="#8e0020" stroke-width="0.4"/>
<text x="465.1" y="188.7" font-size="5.5" fill="#333">22d</text>
<text transform="translate(393.6 236.9) rotate(-45)" font-size="6.6" text-anchor="end" fill="#222">Vehicle</text>
<text transform="translate(403.5 236.9) rotate(-45)" font-size="6.6" text-anchor="end" fill="#222">AC220-1nM</text>
<text transform="translate(413.4 236.9) rotate(-45)" font-size="6.6" text-anchor="end" fill="#222">AC220-2nM</text>
<text transform="translate(423.3 236.9) rotate(-45)" font-size="6.6" text-anchor="end" fill="#222">AC220-5nM</text>
<text transform="translate(433 236.9) rotate(-45)" font-size="6.6" text-anchor="end" fill="#222">AC220-10nM</text>
<text transform="translate(450.7 236.9) rotate(-45)" font-size="6.6" text-anchor="end" fill="#222">Vehicle</text>
<text transform="translate(460.6 236.9) rotate(-45)" font-size="6.6" text-anchor="end" fill="#222">AC220-1nM</text>
<text transform="translate(470.4 236.9) rotate(-45)" font-size="6.6" text-anchor="end" fill="#222">AC220-2nM</text>
<text transform="translate(480.1 236.9) rotate(-45)" font-size="6.6" text-anchor="end" fill="#222">AC220-5nM</text>
<text transform="translate(489.9 236.9) rotate(-45)" font-size="6.6" text-anchor="end" fill="#222">AC220-10nM</text>
<text transform="translate(349 199.7) rotate(-90)" font-size="8.3" text-anchor="middle" fill="#3c3c3c" textLength="35.4" lengthAdjust="spacingAndGlyphs">Cell growth</text>
<text transform="translate(358.7 199.7) rotate(-90)" font-size="8.3" text-anchor="middle" fill="#3c3c3c" textLength="55.8" lengthAdjust="spacingAndGlyphs">(% vehicle control)</text>
<text x="7.2" y="291.8" font-size="12.3" font-weight="bold" fill="#000">D</text>
<text x="135.6" y="303.6" font-size="9.3" text-anchor="middle" fill="#111" textLength="55.5" lengthAdjust="spacingAndGlyphs">FLT3-ITD AML</text>
<text x="55.7" y="314.5" font-size="7" text-anchor="middle" fill="#222">Vehicle</text>
<text x="108.9" y="314.5" font-size="7" text-anchor="middle" fill="#222">AC220</text>
<text x="162.1" y="314.5" font-size="7" text-anchor="middle" fill="#222">22d</text>
<text x="215.4" y="314.5" font-size="7" text-anchor="middle" fill="#222">AC220+22d</text>
<path d="M44.1 351.5h0.8M46.6 348.3h0.8M45.4 348.3h0.8M47.3 353.5h0.8M45.0 349.9h0.8M44.5 349.9h0.8M47.2 349.8h0.8M46.2 349.4h0.8M48.7 349.8h0.8M44.0 348.0h0.8M46.7 350.1h0.8M40.1 352.0h0.8M41.3 352.1h0.8M40.8 350.4h0.8M44.4 351.6h0.8M45.6 351.6h0.8M41.2 352.9h0.8M41.1 355.9h0.8M44.7 349.6h0.8M46.9 352.8h0.8M46.2 350.9h0.8M39.8 351.3h0.8M42.9 351.1h0.8M42.4 353.4h0.8M42.2 354.4h0.8M43.8 351.9h0.8M37.5 354.3h0.8M45.5 349.3h0.8M46.2 350.9h0.8M39.6 350.0h0.8M43.2 351.3h0.8M41.5 349.9h0.8M46.4 349.3h0.8M44.6 348.4h0.8M43.7 348.8h0.8M45.1 349.6h0.8M46.3 348.1h0.8M44.7 352.2h0.8M48.9 347.3h0.8M45.1 350.2h0.8M46.3 350.3h0.8M42.3 349.8h0.8M41.9 350.2h0.8M45.2 349.4h0.8M41.7 351.1h0.8M44.9 349.6h0.8M43.0 351.2h0.8M44.6 350.7h0.8M39.4 352.0h0.8M44.0 346.2h0.8M42.0 351.8h0.8M42.3 349.1h0.8M40.8 350.2h0.8M44.5 345.7h0.8M46.4 349.6h0.8M47.5 354.8h0.8M41.1 346.5h0.8M43.7 346.9h0.8M38.4 346.5h0.8M44.8 346.9h0.8M40.2 357.9h0.8M45.1 345.4h0.8M46.3 347.7h0.8M47.8 349.4h0.8M52.7 341.5h0.8M41.9 350.2h0.8M40.0 348.0h0.8M43.6 354.2h0.8M44.4 346.4h0.8M45.6 346.5h0.8M45.6 347.4h0.8M47.3 352.1h0.8M43.9 345.7h0.8M49.2 345.5h0.8M43.0 342.4h0.8M51.6 346.7h0.8M43.4 343.8h0.8M42.1 354.9h0.8M40.4 341.4h0.8M46.2 344.7h0.8M47.2 345.8h0.8M39.7 355.3h0.8M53.9 349.2h0.8M53.7 348.4h0.8M44.2 346.5h0.8M37.7 351.0h0.8M44.7 340.6h0.8M76.0 355.7h0.8M53.8 356.5h0.8M61.5 344.4h0.8M53.7 355.8h0.8M68.1 356.6h0.8M61.5 349.9h0.8M65.1 348.6h0.8M43.9 349.2h0.8M62.9 348.6h0.8M65.2 355.5h0.8M50.7 347.4h0.8M46.6 344.9h0.8M55.9 350.6h0.8M67.1 350.1h0.8M60.9 351.2h0.8M52.2 340.5h0.8M66.6 352.0h0.8M71.2 348.7h0.8M63.1 337.3h0.8M70.3 326.8h0.8M62.9 326.0h0.8M70.1 326.0h0.8M60.2 324.5h0.8M63.7 326.2h0.8M63.2 324.9h0.8M60.8 325.7h0.8M67.5 325.7h0.8M74.1 325.6h0.8M63.7 324.3h0.8M68.0 324.8h0.8M69.6 325.4h0.8M67.0 324.9h0.8M68.1 325.2h0.8M65.1 325.4h0.8M68.6 325.7h0.8M67.0 325.6h0.8M70.0 336.7h0.8M50.3 324.4h0.8M55.9 339.5h0.8M59.5 329.4h0.8M50.2 336.4h0.8M74.8 329.5h0.8M58.8 327.4h0.8" stroke="#3a52d8" stroke-width="0.8" stroke-opacity="0.28" fill="none"/>
<path d="M43.6 349.1h0.8M47.1 346.1h0.8M40.4 351.1h0.8M40.8 350.0h0.8M42.8 354.2h0.8M42.8 351.3h0.8M45.8 345.2h0.8M42.7 349.3h0.8M46.6 351.1h0.8M40.6 352.5h0.8M39.0 350.5h0.8M43.1 351.4h0.8M43.3 353.1h0.8M44.7 352.4h0.8M45.5 348.5h0.8M44.1 351.0h0.8M43.6 351.0h0.8M45.7 351.6h0.8M49.7 351.1h0.8M42.6 351.8h0.8M39.8 352.6h0.8M42.7 355.1h0.8M43.6 351.8h0.8M42.5 347.9h0.8M40.7 351.7h0.8M45.7 352.2h0.8M39.3 352.1h0.8M45.0 347.4h0.8M44.8 351.8h0.8M45.7 348.2h0.8M43.5 351.3h0.8M40.2 350.6h0.8M45.2 353.1h0.8M43.8 349.7h0.8M43.9 349.7h0.8M42.7 352.6h0.8M40.4 352.2h0.8M43.5 353.6h0.8M42.0 352.9h0.8M43.6 355.6h0.8M43.9 347.5h0.8M43.3 350.5h0.8M46.3 346.3h0.8M45.0 351.9h0.8M40.9 356.6h0.8M50.6 349.8h0.8M44.5 350.4h0.8M44.8 350.2h0.8M43.1 350.2h0.8M43.2 347.9h0.8M43.0 351.7h0.8M47.6 348.1h0.8M44.9 350.3h0.8M42.0 348.1h0.8M39.6 349.5h0.8M49.3 346.5h0.8M43.1 345.6h0.8M45.4 351.6h0.8M39.5 349.0h0.8M47.7 348.0h0.8M52.3 341.7h0.8M42.5 346.5h0.8M43.8 345.9h0.8M45.3 349.0h0.8M37.2 348.4h0.8M49.8 350.2h0.8M47.2 344.1h0.8M45.3 349.7h0.8M45.6 346.5h0.8M40.6 346.7h0.8M40.7 345.6h0.8M45.9 348.9h0.8M46.1 350.4h0.8M44.8 345.6h0.8M47.2 346.5h0.8M47.0 342.3h0.8M40.7 353.5h0.8M47.7 345.9h0.8M45.9 351.6h0.8M44.2 351.6h0.8M45.6 347.8h0.8M49.0 349.5h0.8M49.1 342.0h0.8M48.4 342.1h0.8M47.8 350.6h0.8M36.4 349.3h0.8M62.2 355.2h0.8M63.2 351.5h0.8M55.3 350.0h0.8M55.9 351.9h0.8M62.3 348.3h0.8M60.8 352.8h0.8M65.7 341.9h0.8M72.3 343.1h0.8M54.8 346.9h0.8M67.2 349.3h0.8M62.2 349.7h0.8M55.3 343.6h0.8M68.7 345.0h0.8M53.6 344.5h0.8M53.5 347.2h0.8M55.5 345.2h0.8M72.6 350.0h0.8M67.2 345.9h0.8M62.7 324.0h0.8M72.7 325.8h0.8M59.2 325.7h0.8M64.1 325.7h0.8M62.5 326.3h0.8M66.2 325.4h0.8M61.6 325.5h0.8M66.4 325.6h0.8M69.2 324.6h0.8M71.4 325.6h0.8M66.7 325.4h0.8M70.6 324.8h0.8M66.9 324.9h0.8M65.2 325.8h0.8M65.6 324.6h0.8M70.2 326.4h0.8M67.3 324.8h0.8M61.4 322.4h0.8M62.3 327.9h0.8M66.4 335.2h0.8M53.6 325.3h0.8M73.3 326.5h0.8M59.4 334.2h0.8M57.7 333.6h0.8" stroke="#3a52d8" stroke-width="0.8" stroke-opacity="0.28" fill="none"/>
<path d="M43.9 348.7h0.8M48.0 348.0h0.8M44.8 352.4h0.8M44.2 352.1h0.8M46.2 347.8h0.8M43.2 348.8h0.8M43.6 349.1h0.8M42.3 349.9h0.8M42.0 348.6h0.8M41.5 352.4h0.8M43.7 349.6h0.8M44.4 349.5h0.8M42.7 353.7h0.8M45.7 345.1h0.8M45.3 348.1h0.8M45.6 352.5h0.8M44.5 352.4h0.8M40.3 347.1h0.8M42.4 353.9h0.8M43.5 348.6h0.8M45.4 350.5h0.8M43.7 352.3h0.8M44.5 350.5h0.8M44.0 349.3h0.8M42.4 351.5h0.8M42.1 349.2h0.8M41.8 348.4h0.8M44.8 352.4h0.8M42.8 349.1h0.8M46.9 350.0h0.8M38.2 351.9h0.8M43.0 348.1h0.8M39.2 353.4h0.8M43.2 351.3h0.8M42.4 349.1h0.8M41.8 348.7h0.8M44.9 354.3h0.8M42.5 351.0h0.8M45.2 350.1h0.8M44.1 350.7h0.8M41.8 353.3h0.8M41.0 351.2h0.8M41.4 350.7h0.8M46.6 347.0h0.8M43.1 353.0h0.8M44.3 353.2h0.8M44.5 349.2h0.8M46.0 348.8h0.8M38.3 349.8h0.8M45.7 350.7h0.8M42.3 352.0h0.8M43.3 349.7h0.8M45.2 348.0h0.8M49.3 343.8h0.8M52.5 344.4h0.8M44.7 352.0h0.8M46.1 350.4h0.8M52.1 350.6h0.8M44.5 346.9h0.8M43.9 352.6h0.8M47.0 341.8h0.8M40.5 349.4h0.8M44.0 342.3h0.8M40.7 345.5h0.8M48.1 351.0h0.8M41.3 349.2h0.8M43.6 343.3h0.8M48.4 344.8h0.8M41.7 348.9h0.8M39.9 351.4h0.8M51.4 353.0h0.8M47.6 346.7h0.8M48.2 348.4h0.8M51.5 342.4h0.8M52.5 350.6h0.8M51.8 345.3h0.8M50.0 347.4h0.8M48.7 348.5h0.8M40.2 352.8h0.8M45.4 349.4h0.8M40.8 340.6h0.8M41.0 352.9h0.8M44.8 341.7h0.8M44.5 350.4h0.8M35.5 344.7h0.8M41.7 356.8h0.8M57.0 347.5h0.8M57.5 352.7h0.8M52.6 345.1h0.8M61.0 349.7h0.8M62.1 344.0h0.8M56.5 344.7h0.8M63.7 356.7h0.8M73.6 343.5h0.8M62.6 343.4h0.8M54.3 352.5h0.8M56.4 344.9h0.8M61.0 354.9h0.8M72.6 350.6h0.8M64.5 349.9h0.8M60.2 346.6h0.8M56.1 351.4h0.8M63.1 344.6h0.8M68.6 340.0h0.8M70.2 326.3h0.8M60.6 325.7h0.8M69.1 325.8h0.8M56.3 326.0h0.8M62.4 325.1h0.8M61.6 325.9h0.8M69.7 326.2h0.8M69.5 325.0h0.8M66.9 325.9h0.8M69.6 326.5h0.8M66.7 325.3h0.8M68.5 324.7h0.8M68.3 326.5h0.8M67.9 325.3h0.8M68.9 324.9h0.8M66.7 325.3h0.8M68.7 325.0h0.8M51.1 336.1h0.8M40.5 335.2h0.8M63.7 333.6h0.8M60.0 322.5h0.8M57.1 336.5h0.8M72.2 330.9h0.8M65.4 332.6h0.8" stroke="#3a52d8" stroke-width="0.8" stroke-opacity="0.28" fill="none"/>
<path d="M45.0 353.3h0.8M47.1 349.7h0.8M45.1 350.0h0.8M44.9 351.9h0.8M40.3 348.5h0.8M43.4 350.2h0.8M45.6 355.0h0.8M41.7 352.7h0.8M42.2 355.2h0.8M45.1 349.5h0.8M48.8 349.8h0.8M42.0 351.4h0.8M46.4 352.9h0.8M43.2 351.4h0.8M42.6 350.0h0.8M41.7 347.3h0.8M42.7 352.1h0.8M43.1 351.2h0.8M42.3 352.1h0.8M44.8 352.4h0.8M42.8 349.3h0.8M38.9 353.4h0.8M43.2 351.1h0.8M44.5 355.7h0.8M44.4 349.9h0.8M46.8 351.0h0.8M45.7 352.1h0.8M47.5 348.8h0.8M44.1 350.9h0.8M45.0 348.6h0.8M46.5 347.1h0.8M47.5 352.0h0.8M45.6 349.8h0.8M47.1 349.2h0.8M43.4 351.6h0.8M43.7 353.7h0.8M39.9 353.1h0.8M41.9 349.8h0.8M39.2 347.4h0.8M44.7 353.5h0.8M42.1 350.9h0.8M46.1 352.4h0.8M44.4 351.2h0.8M47.2 354.7h0.8M49.3 349.2h0.8M39.1 353.8h0.8M47.8 348.6h0.8M38.2 354.1h0.8M44.9 349.2h0.8M44.6 354.1h0.8M41.2 353.5h0.8M42.9 350.0h0.8M42.9 346.8h0.8M39.7 352.3h0.8M45.6 349.1h0.8M47.8 348.8h0.8M36.6 352.0h0.8M44.5 340.7h0.8M44.0 344.3h0.8M49.0 351.5h0.8M42.3 349.9h0.8M46.4 350.3h0.8M42.3 346.9h0.8M43.1 341.0h0.8M43.8 348.2h0.8M45.8 345.4h0.8M47.9 341.5h0.8M35.6 343.8h0.8M42.7 351.4h0.8M45.6 343.9h0.8M47.9 345.6h0.8M44.2 349.3h0.8M45.8 347.9h0.8M51.5 341.4h0.8M44.1 352.9h0.8M46.9 351.6h0.8M42.3 344.2h0.8M43.6 348.1h0.8M39.7 349.5h0.8M50.1 357.7h0.8M43.3 355.7h0.8M47.7 347.6h0.8M49.0 347.9h0.8M51.7 351.1h0.8M48.8 340.7h0.8M49.8 342.8h0.8M38.9 351.7h0.8M68.9 343.0h0.8M60.2 353.2h0.8M55.9 352.9h0.8M52.1 345.8h0.8M60.1 346.6h0.8M55.5 347.2h0.8M70.7 357.7h0.8M67.7 347.4h0.8M61.1 347.1h0.8M54.9 356.6h0.8M59.1 352.9h0.8M59.9 353.0h0.8M53.8 348.0h0.8M64.7 344.6h0.8M58.9 350.2h0.8M66.7 342.0h0.8M59.9 346.3h0.8M63.2 338.5h0.8M48.2 355.4h0.8M60.5 353.1h0.8M67.3 348.0h0.8M68.8 326.3h0.8M71.0 325.0h0.8M69.6 325.0h0.8M60.8 324.5h0.8M73.1 325.7h0.8M57.3 325.1h0.8M71.7 325.2h0.8M72.4 325.3h0.8M72.7 324.8h0.8M63.4 326.0h0.8M66.6 326.8h0.8M70.2 325.2h0.8M64.6 325.3h0.8M69.0 326.3h0.8M67.4 325.8h0.8M65.6 325.6h0.8M66.8 324.4h0.8M73.2 332.7h0.8M60.7 328.8h0.8M71.2 331.1h0.8M60.4 331.3h0.8M62.2 341.2h0.8M67.8 333.8h0.8M67.4 328.4h0.8" stroke="#3a52d8" stroke-width="0.8" stroke-opacity="0.28" fill="none"/>
<path d="M44.4 349.3h0.8M43.2 350.9h0.8M43.6 351.3h0.8M44.6 352.0h0.8M44.8 350.2h0.8M41.6 353.7h0.8M45.2 348.8h0.8M43.0 350.1h0.8M43.7 350.4h0.8M45.2 350.2h0.8M43.9 351.1h0.8M44.2 350.8h0.8M47.7 350.7h0.8M44.4 350.7h0.8M43.3 352.1h0.8M43.5 346.7h0.8M46.8 350.4h0.8M42.5 349.3h0.8M43.0 350.9h0.8M44.5 350.1h0.8M44.7 355.1h0.8M43.9 347.9h0.8M44.4 354.9h0.8M42.5 350.0h0.8M45.5 346.7h0.8M40.8 348.4h0.8M47.9 351.0h0.8M44.4 348.4h0.8M40.6 350.8h0.8M41.6 350.5h0.8M47.7 350.4h0.8M41.4 351.5h0.8M44.5 348.9h0.8M46.4 348.1h0.8M43.7 350.1h0.8M41.6 352.8h0.8M43.1 348.5h0.8M48.3 349.7h0.8M44.6 351.7h0.8M45.3 353.4h0.8M41.1 352.0h0.8M40.4 357.5h0.8M42.0 351.3h0.8M41.4 352.2h0.8M44.7 351.5h0.8M47.2 346.9h0.8M41.3 356.9h0.8M44.9 351.6h0.8M42.8 353.0h0.8M42.8 348.1h0.8M43.3 352.2h0.8M41.8 350.6h0.8M51.0 344.5h0.8M39.9 349.4h0.8M40.4 352.3h0.8M46.9 348.5h0.8M42.5 350.5h0.8M42.7 352.7h0.8M48.4 351.0h0.8M45.9 352.0h0.8M44.6 351.7h0.8M40.9 350.2h0.8M44.6 350.7h0.8M42.8 347.1h0.8M46.6 350.4h0.8M44.5 343.7h0.8M45.1 340.1h0.8M49.8 345.7h0.8M51.5 354.0h0.8M44.4 345.7h0.8M48.6 347.9h0.8M45.2 353.0h0.8M35.3 344.8h0.8M49.0 350.7h0.8M41.2 350.4h0.8M44.6 354.1h0.8M41.1 349.3h0.8M53.4 353.1h0.8M50.6 351.8h0.8M42.6 344.2h0.8M36.1 346.3h0.8M39.3 352.7h0.8M50.4 345.6h0.8M45.3 350.4h0.8M44.1 351.6h0.8M43.3 354.6h0.8M54.1 348.3h0.8M60.5 342.6h0.8M64.5 350.6h0.8M74.4 353.5h0.8M65.8 350.3h0.8M59.1 353.0h0.8M59.5 352.9h0.8M65.4 353.0h0.8M61.9 352.0h0.8M63.3 346.9h0.8M63.3 357.1h0.8M67.1 348.5h0.8M65.4 344.8h0.8M71.9 345.6h0.8M63.4 351.3h0.8M55.2 345.0h0.8M61.6 348.9h0.8M56.7 348.9h0.8M66.0 342.1h0.8M59.1 345.3h0.8M53.3 352.4h0.8M68.7 324.7h0.8M62.0 325.3h0.8M62.4 326.2h0.8M61.7 326.1h0.8M68.2 325.3h0.8M65.9 327.2h0.8M63.9 325.2h0.8M61.2 326.2h0.8M69.4 325.3h0.8M67.9 325.6h0.8M64.5 325.3h0.8M69.5 325.7h0.8M67.4 326.0h0.8M66.9 325.7h0.8M65.9 324.9h0.8M68.7 325.2h0.8M67.7 327.3h0.8M66.3 325.9h0.8M69.5 328.2h0.8M74.3 326.4h0.8M54.2 326.1h0.8M54.9 333.9h0.8M57.1 331.6h0.8M61.4 323.4h0.8" stroke="#3a52d8" stroke-width="0.8" stroke-opacity="0.28" fill="none"/>
<path d="M43.0 352.3h0.8M49.3 346.5h0.8M46.8 349.4h0.8M39.7 351.9h0.8M41.5 353.9h0.8M44.5 352.1h0.8M43.8 352.1h0.8M42.1 347.5h0.8M43.2 349.1h0.8M44.4 350.0h0.8M46.1 350.7h0.8M41.6 353.8h0.8M43.5 353.2h0.8M44.4 347.2h0.8M37.6 351.5h0.8M51.1 345.5h0.8M46.5 351.9h0.8M44.3 350.3h0.8M44.3 350.8h0.8M44.4 350.9h0.8M44.2 350.3h0.8M45.2 353.6h0.8M42.4 351.9h0.8M46.6 349.3h0.8M41.7 351.8h0.8M41.2 353.9h0.8M42.0 349.7h0.8M41.2 351.3h0.8M42.2 348.0h0.8M41.8 350.0h0.8M40.9 350.5h0.8M44.0 346.6h0.8M42.9 349.2h0.8M42.5 347.1h0.8M40.8 349.0h0.8M48.5 350.4h0.8M45.9 350.7h0.8M44.2 351.4h0.8M43.8 354.8h0.8M45.9 349.3h0.8M40.3 351.0h0.8M43.9 351.5h0.8M41.7 350.2h0.8M44.1 355.5h0.8M41.8 351.4h0.8M46.2 348.5h0.8M41.3 354.1h0.8M41.0 350.1h0.8M38.9 350.3h0.8M44.7 348.4h0.8M47.1 348.7h0.8M44.9 352.6h0.8M44.6 348.4h0.8M40.6 348.6h0.8M40.4 346.7h0.8M44.3 344.7h0.8M47.4 353.9h0.8M45.0 349.2h0.8M39.8 349.6h0.8M41.3 353.0h0.8M47.4 351.9h0.8M41.1 350.8h0.8M50.3 354.5h0.8M48.2 346.6h0.8M38.3 352.8h0.8M48.7 356.9h0.8M41.4 348.1h0.8M46.7 348.8h0.8M47.8 351.7h0.8M50.3 351.0h0.8M40.2 351.7h0.8M46.3 345.1h0.8M47.3 348.8h0.8M42.2 354.7h0.8M45.1 345.6h0.8M46.0 345.8h0.8M51.6 351.6h0.8M45.6 343.8h0.8M45.5 348.2h0.8M48.3 341.7h0.8M43.0 346.3h0.8M42.3 344.6h0.8M45.6 352.1h0.8M49.2 349.5h0.8M41.6 351.1h0.8M47.1 340.7h0.8M63.3 357.4h0.8M66.8 346.3h0.8M60.1 356.5h0.8M70.9 349.6h0.8M67.1 346.3h0.8M59.7 348.2h0.8M71.5 345.8h0.8M65.5 340.6h0.8M73.6 344.5h0.8M64.8 344.7h0.8M57.7 349.3h0.8M63.0 348.4h0.8M58.8 354.7h0.8M57.3 349.9h0.8M60.8 338.4h0.8M70.8 343.9h0.8M57.9 347.1h0.8M64.9 354.4h0.8M64.9 350.6h0.8M63.0 327.2h0.8M60.0 324.3h0.8M66.1 324.5h0.8M61.2 323.7h0.8M59.4 326.9h0.8M66.9 324.7h0.8M66.7 324.4h0.8M66.7 326.3h0.8M64.5 327.0h0.8M61.4 325.4h0.8M65.2 325.4h0.8M67.4 326.9h0.8M69.4 324.6h0.8M66.1 325.3h0.8M69.8 326.4h0.8M67.6 324.8h0.8M67.6 323.9h0.8M65.1 325.4h0.8M58.0 331.2h0.8M53.5 331.7h0.8M57.5 324.3h0.8M48.4 340.6h0.8M49.5 341.7h0.8M59.7 326.6h0.8M65.6 332.0h0.8" stroke="#3a52d8" stroke-width="0.8" stroke-opacity="0.28" fill="none"/>
<path d="M42.6 349.6h0.8M44.0 351.1h0.8M39.0 350.3h0.8M42.9 350.5h0.8M44.2 349.9h0.8M45.7 352.3h0.8M44.0 350.4h0.8M46.9 350.0h0.8M40.6 351.6h0.8M46.3 347.7h0.8M45.0 350.0h0.8M42.3 350.6h0.8M40.8 356.2h0.8M43.2 349.1h0.8M41.6 352.1h0.8M40.6 353.0h0.8M46.7 349.0h0.8M41.3 353.2h0.8M40.7 354.1h0.8M47.4 348.4h0.8M46.6 350.1h0.8M40.6 350.8h0.8M48.2 349.3h0.8M43.1 348.8h0.8M44.3 353.0h0.8M40.2 352.2h0.8M44.6 349.5h0.8M39.4 351.8h0.8M41.2 350.1h0.8M44.9 346.2h0.8M46.8 348.4h0.8M44.7 350.4h0.8M42.2 351.7h0.8M43.7 351.4h0.8M42.9 352.1h0.8M41.6 346.5h0.8M43.0 351.7h0.8M47.5 348.0h0.8M41.4 353.1h0.8M45.1 352.0h0.8M46.1 350.1h0.8M40.0 353.0h0.8M43.7 348.8h0.8M44.0 350.1h0.8M48.2 349.2h0.8M41.6 347.7h0.8M46.9 352.5h0.8M45.2 352.3h0.8M41.7 351.6h0.8M47.2 350.0h0.8M44.6 351.0h0.8M36.6 352.9h0.8M52.3 343.7h0.8M49.9 356.5h0.8M45.0 357.2h0.8M46.9 351.5h0.8M52.7 349.5h0.8M40.4 349.2h0.8M44.9 351.8h0.8M56.0 346.3h0.8M46.8 350.4h0.8M46.6 355.2h0.8M42.2 344.6h0.8M43.5 345.8h0.8M39.0 347.3h0.8M46.3 355.7h0.8M44.0 348.5h0.8M48.0 357.5h0.8M44.7 351.1h0.8M45.4 339.8h0.8M44.9 351.4h0.8M51.1 342.5h0.8M45.9 345.3h0.8M39.4 351.0h0.8M43.4 348.7h0.8M47.4 349.0h0.8M43.0 350.7h0.8M45.1 350.6h0.8M43.8 353.0h0.8M37.5 349.1h0.8M46.0 351.8h0.8M42.2 357.4h0.8M44.3 350.8h0.8M49.8 350.3h0.8M40.4 344.0h0.8M51.4 348.5h0.8M63.1 344.2h0.8M57.2 350.3h0.8M59.7 340.6h0.8M51.9 356.7h0.8M56.2 350.6h0.8M54.0 357.4h0.8M65.4 344.8h0.8M68.8 342.8h0.8M62.0 355.5h0.8M50.5 342.5h0.8M48.3 348.3h0.8M59.7 347.7h0.8M74.2 350.9h0.8M59.6 346.6h0.8M68.7 347.3h0.8M73.2 353.4h0.8M54.4 342.3h0.8M64.9 354.5h0.8M47.1 348.7h0.8M62.2 324.8h0.8M69.4 324.9h0.8M64.0 324.8h0.8M69.6 324.8h0.8M62.1 325.6h0.8M68.4 324.5h0.8M67.9 325.3h0.8M65.5 326.4h0.8M64.3 324.4h0.8M64.4 323.5h0.8M70.0 325.5h0.8M68.0 325.3h0.8M67.0 324.4h0.8M65.9 325.9h0.8M66.4 324.6h0.8M70.1 325.9h0.8M66.5 325.5h0.8M68.6 325.1h0.8M62.9 323.6h0.8M51.2 327.4h0.8M56.7 333.8h0.8M48.8 339.0h0.8M53.7 320.2h0.8M69.2 324.3h0.8M56.2 337.0h0.8" stroke="#3a52d8" stroke-width="0.8" stroke-opacity="0.28" fill="none"/>
<path d="M44.6 352.1h0.8M47.0 348.0h0.8M41.9 352.4h0.8M42.3 349.2h0.8M45.9 353.2h0.8M44.4 352.0h0.8M42.6 352.9h0.8M49.8 349.4h0.8M43.1 349.6h0.8M39.2 352.2h0.8M45.3 347.4h0.8M48.1 350.7h0.8M44.9 346.5h0.8M48.3 349.5h0.8M42.4 348.5h0.8M45.7 347.8h0.8M42.5 348.8h0.8M45.3 353.6h0.8M43.4 349.9h0.8M46.7 351.3h0.8M45.7 347.4h0.8M45.4 348.9h0.8M47.1 345.9h0.8M42.4 349.2h0.8M47.2 347.2h0.8M43.4 348.7h0.8M43.4 350.0h0.8M42.6 351.2h0.8M48.1 348.4h0.8M39.0 353.1h0.8M37.7 348.2h0.8M43.9 350.7h0.8M43.0 351.0h0.8M43.8 350.1h0.8M43.5 352.0h0.8M41.4 349.0h0.8M40.6 351.1h0.8M44.4 348.7h0.8M43.9 352.8h0.8M39.8 349.9h0.8M46.2 351.2h0.8M46.3 349.8h0.8M41.1 352.5h0.8M41.4 353.5h0.8M45.3 349.4h0.8M41.5 348.9h0.8M43.9 350.8h0.8M43.3 351.6h0.8M45.9 351.0h0.8M43.4 346.8h0.8M48.7 351.8h0.8M44.1 348.9h0.8M43.0 352.1h0.8M41.5 348.6h0.8M42.6 351.0h0.8M49.2 346.0h0.8M47.8 353.2h0.8M48.2 346.7h0.8M48.8 348.6h0.8M41.6 349.3h0.8M51.3 349.8h0.8M40.5 349.7h0.8M40.4 348.4h0.8M51.3 341.8h0.8M42.7 349.0h0.8M48.6 345.7h0.8M38.8 347.3h0.8M37.5 344.0h0.8M42.5 351.0h0.8M44.1 349.6h0.8M45.6 340.7h0.8M46.5 344.1h0.8M43.3 349.9h0.8M45.8 348.6h0.8M47.5 351.0h0.8M45.6 355.6h0.8M44.6 353.8h0.8M43.2 354.0h0.8M49.7 349.9h0.8M40.6 352.3h0.8M41.2 353.0h0.8M46.9 351.1h0.8M45.0 348.0h0.8M46.8 343.0h0.8M45.9 347.2h0.8M47.4 349.4h0.8M44.7 339.1h0.8M61.3 348.7h0.8M56.2 343.5h0.8M59.4 342.1h0.8M57.9 335.3h0.8M64.3 339.6h0.8M61.8 354.3h0.8M57.7 346.0h0.8M49.2 354.3h0.8M67.3 348.7h0.8M69.3 349.2h0.8M68.2 346.7h0.8M60.5 346.9h0.8M64.1 354.6h0.8M57.9 348.9h0.8M58.6 348.4h0.8M59.4 347.9h0.8M59.3 353.1h0.8M55.5 349.1h0.8M63.4 355.3h0.8M67.0 345.4h0.8M64.4 324.6h0.8M74.6 325.5h0.8M66.7 325.5h0.8M64.3 324.3h0.8M66.3 326.5h0.8M70.0 326.4h0.8M62.9 324.3h0.8M68.9 326.0h0.8M62.6 325.1h0.8M67.9 325.8h0.8M64.9 325.2h0.8M68.0 325.6h0.8M67.7 325.3h0.8M67.6 325.3h0.8M66.5 325.1h0.8M65.8 325.4h0.8M65.6 324.8h0.8M67.9 324.6h0.8M67.0 337.8h0.8M62.6 328.4h0.8M71.1 327.9h0.8M64.3 329.4h0.8M58.5 330.5h0.8M68.9 336.0h0.8" stroke="#3a52d8" stroke-width="0.8" stroke-opacity="0.28" fill="none"/>
<defs><radialGradient id="g0"><stop offset="0" stop-color="#e0301e" stop-opacity="1"/><stop offset="0.25" stop-color="#f08a1c" stop-opacity="1"/><stop offset="0.45" stop-color="#e6e02a" stop-opacity="0.95"/><stop offset="0.65" stop-color="#3cc06a" stop-opacity="0.85"/><stop offset="0.85" stop-color="#2f7fd0" stop-opacity="0.6"/><stop offset="1" stop-color="#3050d0" stop-opacity="0"/></radialGradient></defs>
<ellipse cx="43.8" cy="351" rx="5" ry="4.2" fill="url(#g0)" transform="rotate(-30 43.8 351)"/>
<rect x="34.5" y="317.2" width="42.4" height="41.6" fill="none" stroke="#7a7a7a" stroke-width="0.8"/>
<line x1="53.2" y1="317.2" x2="53.2" y2="358.8" stroke="#333" stroke-width="0.8"/>
<line x1="34.5" y1="339.8" x2="76.9" y2="339.8" stroke="#333" stroke-width="0.8"/>
<text x="32.7" y="322.2" font-size="4.2" text-anchor="end" fill="#222">10³</text>
<line x1="33.5" y1="320.8" x2="34.5" y2="320.8" stroke="#666" stroke-width="0.5"/>
<text x="32.7" y="331.6" font-size="4.2" text-anchor="end" fill="#222">10²</text>
<line x1="33.5" y1="330.2" x2="34.5" y2="330.2" stroke="#666" stroke-width="0.5"/>
<text x="32.7" y="341.2" font-size="4.2" text-anchor="end" fill="#222">10¹</text>
<line x1="33.5" y1="339.8" x2="34.5" y2="339.8" stroke="#666" stroke-width="0.5"/>
<text x="32.7" y="355.8" font-size="4.2" text-anchor="end" fill="#222">0</text>
<line x1="33.5" y1="354.4" x2="34.5" y2="354.4" stroke="#666" stroke-width="0.5"/>
<text x="40" y="363.7" font-size="4.2" text-anchor="middle" fill="#222">0</text>
<text x="52.4" y="363.7" font-size="4.2" text-anchor="middle" fill="#222">10¹</text>
<text x="62.8" y="363.7" font-size="4.2" text-anchor="middle" fill="#222">10²</text>
<text x="72.5" y="363.7" font-size="4.2" text-anchor="middle" fill="#222">10³</text>
<text x="72.7" y="323.8" font-size="5.6" text-anchor="end" fill="#222">6.87</text>
<text x="35.5" y="358.3" font-size="5.6" fill="#222">84.6</text>
<text x="72.7" y="358.3" font-size="5.6" text-anchor="end" fill="#222">7.69</text>
<path d="M100.1 348.9h0.8M105.7 349.3h0.8M93.6 351.8h0.8M100.6 350.9h0.8M100.5 353.5h0.8M102.2 350.6h0.8M95.5 353.6h0.8M106.3 349.1h0.8M94.1 351.5h0.8M106.2 350.6h0.8M109.9 349.2h0.8M105.0 350.0h0.8M103.6 349.8h0.8M102.6 353.3h0.8M102.2 348.6h0.8M92.5 350.6h0.8M102.3 350.8h0.8M107.4 351.5h0.8M98.3 355.6h0.8M102.1 352.3h0.8M103.9 347.4h0.8M103.8 349.4h0.8M100.6 351.2h0.8M112.4 351.7h0.8M102.5 347.4h0.8M89.5 352.2h0.8M95.0 352.8h0.8M104.7 349.9h0.8M101.7 346.1h0.8M105.3 351.3h0.8M95.4 353.8h0.8M101.1 351.9h0.8M96.9 352.7h0.8M98.9 353.2h0.8M97.6 351.2h0.8M98.2 351.7h0.8M103.6 352.4h0.8M96.7 349.7h0.8M106.8 349.5h0.8M99.3 349.7h0.8M90.2 351.6h0.8M96.5 353.0h0.8M95.5 353.6h0.8M104.6 350.9h0.8M107.8 348.2h0.8M102.6 349.8h0.8M106.4 349.3h0.8M99.8 350.6h0.8M94.4 352.7h0.8M97.7 353.2h0.8M102.8 350.4h0.8M101.3 354.5h0.8M99.0 349.1h0.8M103.7 350.6h0.8M101.5 352.3h0.8M114.8 350.6h0.8M104.3 350.4h0.8M101.5 348.4h0.8M119.5 350.7h0.8M115.2 346.7h0.8M117.4 350.3h0.8M123.5 348.9h0.8M117.1 347.5h0.8M111.1 344.0h0.8M110.3 354.1h0.8M112.5 353.2h0.8M113.0 349.1h0.8M114.3 353.5h0.8M106.6 345.0h0.8M105.4 346.3h0.8M112.3 347.0h0.8M119.3 348.0h0.8M115.1 347.0h0.8M121.4 342.9h0.8M112.4 345.2h0.8M123.7 345.0h0.8M118.4 351.2h0.8M114.9 348.4h0.8M113.1 351.0h0.8M111.8 351.0h0.8M122.5 341.1h0.8M118.3 348.1h0.8M110.4 349.2h0.8M117.2 326.3h0.8M110.0 323.5h0.8M120.6 325.3h0.8M113.9 326.3h0.8M110.2 324.3h0.8M113.5 325.8h0.8M115.0 326.6h0.8M123.2 325.3h0.8M114.3 324.0h0.8M103.6 325.3h0.8M115.0 324.2h0.8M117.8 326.8h0.8M119.6 326.8h0.8M117.9 327.0h0.8M116.7 326.6h0.8M118.5 328.1h0.8M118.7 325.9h0.8M120.5 325.9h0.8M118.0 326.0h0.8M114.4 326.6h0.8M113.8 335.1h0.8M115.6 335.9h0.8M113.0 337.3h0.8M124.3 339.2h0.8M113.0 339.0h0.8M116.3 339.5h0.8M107.6 332.5h0.8M100.5 340.3h0.8M116.7 339.5h0.8M111.7 339.5h0.8M110.1 348.0h0.8M108.9 340.0h0.8" stroke="#3a52d8" stroke-width="0.8" stroke-opacity="0.28" fill="none"/>
<path d="M95.4 356.1h0.8M103.2 350.8h0.8M102.0 349.4h0.8M108.4 349.7h0.8M104.4 350.1h0.8M104.9 353.8h0.8M108.4 349.9h0.8M94.6 355.5h0.8M104.9 350.8h0.8M102.2 349.2h0.8M103.0 351.2h0.8M105.0 350.9h0.8M106.1 352.4h0.8M94.8 352.9h0.8M96.0 353.8h0.8M102.9 348.6h0.8M103.3 352.2h0.8M102.1 351.6h0.8M102.4 351.5h0.8M90.0 353.9h0.8M100.3 351.3h0.8M104.8 350.4h0.8M96.7 351.0h0.8M99.8 349.4h0.8M98.7 354.2h0.8M104.1 351.3h0.8M100.3 349.0h0.8M101.9 353.5h0.8M95.4 353.3h0.8M102.6 348.3h0.8M98.5 350.5h0.8M99.4 353.2h0.8M90.8 353.1h0.8M98.1 352.8h0.8M97.0 356.9h0.8M95.3 353.7h0.8M106.5 350.8h0.8M94.0 350.8h0.8M92.0 351.9h0.8M112.4 348.7h0.8M94.6 354.3h0.8M94.4 350.3h0.8M105.0 350.5h0.8M106.0 350.4h0.8M101.0 350.8h0.8M95.4 352.5h0.8M113.4 351.4h0.8M101.2 351.0h0.8M93.2 354.9h0.8M109.0 349.9h0.8M89.4 355.0h0.8M102.8 347.7h0.8M97.9 352.6h0.8M98.7 350.9h0.8M101.8 348.6h0.8M97.3 351.7h0.8M101.2 349.2h0.8M114.9 345.0h0.8M107.7 346.3h0.8M98.6 347.7h0.8M115.7 351.2h0.8M109.7 344.3h0.8M105.8 345.4h0.8M107.7 350.5h0.8M111.2 347.6h0.8M116.4 350.7h0.8M121.9 355.7h0.8M115.3 347.9h0.8M112.6 351.2h0.8M118.5 351.3h0.8M119.9 346.9h0.8M117.9 346.3h0.8M102.6 345.9h0.8M112.6 348.3h0.8M108.6 345.0h0.8M112.2 350.7h0.8M114.7 349.1h0.8M111.6 348.6h0.8M102.6 349.2h0.8M110.9 348.2h0.8M114.5 350.3h0.8M110.8 346.8h0.8M108.6 347.3h0.8M113.3 323.9h0.8M115.4 325.8h0.8M112.3 323.0h0.8M113.1 324.3h0.8M114.0 325.8h0.8M109.8 325.0h0.8M116.5 325.7h0.8M109.2 325.7h0.8M115.8 325.3h0.8M107.1 325.2h0.8M116.8 325.7h0.8M116.0 326.6h0.8M119.5 326.7h0.8M120.8 327.5h0.8M117.8 327.6h0.8M119.4 328.6h0.8M117.2 327.8h0.8M118.6 327.7h0.8M119.8 327.8h0.8M111.4 338.0h0.8M118.9 338.4h0.8M102.2 338.6h0.8M117.9 329.5h0.8M115.8 333.5h0.8M119.3 330.7h0.8M109.3 331.7h0.8M124.4 337.6h0.8M99.4 346.1h0.8M121.6 347.5h0.8M118.2 333.8h0.8M115.5 341.2h0.8M122.7 346.5h0.8" stroke="#3a52d8" stroke-width="0.8" stroke-opacity="0.28" fill="none"/>
<path d="M103.6 350.9h0.8M94.1 350.0h0.8M110.9 349.1h0.8M105.6 350.8h0.8M105.3 352.0h0.8M111.3 350.3h0.8M105.0 349.6h0.8M98.7 350.3h0.8M101.6 349.4h0.8M98.5 351.1h0.8M103.1 350.0h0.8M99.7 351.4h0.8M101.0 352.7h0.8M103.4 354.7h0.8M92.1 354.6h0.8M102.3 351.5h0.8M103.1 351.4h0.8M98.0 347.3h0.8M99.5 353.3h0.8M110.1 351.0h0.8M108.4 348.4h0.8M94.6 352.8h0.8M101.6 349.6h0.8M111.5 351.6h0.8M109.0 347.8h0.8M99.9 350.1h0.8M92.4 352.0h0.8M96.5 353.4h0.8M107.2 353.2h0.8M98.5 351.7h0.8M106.9 347.8h0.8M93.8 350.5h0.8M107.2 351.1h0.8M96.6 353.0h0.8M102.7 352.0h0.8M103.2 349.4h0.8M100.1 351.9h0.8M104.2 352.9h0.8M105.8 349.4h0.8M92.3 351.1h0.8M94.9 352.8h0.8M94.9 351.0h0.8M104.8 355.0h0.8M94.3 351.1h0.8M101.9 350.5h0.8M111.3 350.8h0.8M99.7 352.0h0.8M95.6 351.6h0.8M104.8 349.5h0.8M99.3 351.1h0.8M95.7 349.9h0.8M99.9 351.0h0.8M110.3 346.0h0.8M103.8 354.1h0.8M95.6 352.1h0.8M101.0 352.4h0.8M92.0 352.2h0.8M105.8 354.7h0.8M114.4 346.3h0.8M113.6 354.0h0.8M118.2 348.1h0.8M109.1 350.4h0.8M113.2 349.2h0.8M114.9 353.0h0.8M111.5 346.1h0.8M113.9 348.8h0.8M108.3 351.4h0.8M108.4 347.2h0.8M118.5 348.8h0.8M110.4 351.8h0.8M109.1 351.9h0.8M105.7 344.9h0.8M107.1 349.3h0.8M112.3 347.6h0.8M113.7 346.1h0.8M107.4 347.9h0.8M107.2 347.8h0.8M107.7 350.2h0.8M105.2 351.8h0.8M110.8 349.2h0.8M107.1 346.3h0.8M120.1 352.5h0.8M112.0 352.1h0.8M106.4 326.1h0.8M117.4 326.1h0.8M113.2 325.2h0.8M113.6 326.2h0.8M110.3 325.9h0.8M114.4 324.5h0.8M112.9 325.8h0.8M118.9 325.5h0.8M112.6 323.9h0.8M117.1 324.9h0.8M115.6 324.9h0.8M118.5 328.0h0.8M115.8 327.4h0.8M117.1 327.4h0.8M116.7 326.2h0.8M118.1 327.1h0.8M116.7 327.0h0.8M115.3 325.8h0.8M118.7 326.2h0.8M109.9 331.9h0.8M108.2 332.4h0.8M108.5 330.9h0.8M113.1 336.0h0.8M108.1 332.4h0.8M119.7 335.1h0.8M113.6 331.7h0.8M122.8 338.2h0.8M107.6 344.5h0.8M105.9 341.3h0.8M109.9 351.0h0.8M90.1 345.1h0.8M108.9 336.6h0.8" stroke="#3a52d8" stroke-width="0.8" stroke-opacity="0.28" fill="none"/>
<path d="M102.2 351.6h0.8M98.3 352.6h0.8M104.6 351.5h0.8M90.6 353.7h0.8M106.1 348.6h0.8M98.7 350.5h0.8M95.2 350.7h0.8M103.3 352.6h0.8M109.3 348.4h0.8M95.1 352.0h0.8M96.4 352.1h0.8M102.9 344.8h0.8M102.1 351.1h0.8M98.7 352.4h0.8M103.8 349.3h0.8M96.3 349.9h0.8M102.5 348.5h0.8M104.8 350.6h0.8M99.9 350.2h0.8M95.5 354.7h0.8M96.0 352.0h0.8M97.5 351.5h0.8M99.9 351.4h0.8M89.3 353.7h0.8M104.4 354.6h0.8M103.3 350.0h0.8M96.8 351.6h0.8M91.8 352.4h0.8M91.4 352.5h0.8M109.1 350.4h0.8M95.8 349.8h0.8M99.5 352.1h0.8M108.7 352.4h0.8M88.6 352.1h0.8M105.5 349.5h0.8M109.1 353.8h0.8M97.9 350.0h0.8M97.0 348.8h0.8M98.2 351.6h0.8M101.9 349.0h0.8M89.7 353.0h0.8M90.7 350.6h0.8M105.0 351.9h0.8M96.0 350.5h0.8M94.9 352.5h0.8M97.7 352.2h0.8M105.0 349.0h0.8M103.3 349.6h0.8M98.5 350.0h0.8M100.1 350.1h0.8M98.6 351.5h0.8M103.7 349.5h0.8M95.6 353.7h0.8M109.6 350.4h0.8M106.1 347.6h0.8M95.5 349.6h0.8M90.4 350.7h0.8M108.6 351.9h0.8M110.8 354.4h0.8M110.8 345.3h0.8M105.8 353.9h0.8M105.9 344.0h0.8M116.5 347.5h0.8M112.2 351.2h0.8M113.0 350.8h0.8M114.8 348.3h0.8M116.0 351.0h0.8M115.8 349.4h0.8M107.5 348.5h0.8M106.7 346.2h0.8M111.1 352.7h0.8M119.8 349.2h0.8M109.7 345.1h0.8M113.2 345.8h0.8M111.0 351.2h0.8M107.4 348.9h0.8M114.6 355.4h0.8M113.8 347.0h0.8M109.1 349.8h0.8M102.8 345.2h0.8M122.2 349.3h0.8M114.9 353.1h0.8M102.0 345.4h0.8M114.6 347.9h0.8M116.8 326.7h0.8M111.2 326.1h0.8M105.1 326.0h0.8M109.6 326.1h0.8M116.3 326.0h0.8M108.7 325.3h0.8M116.4 326.2h0.8M116.2 325.8h0.8M111.4 324.8h0.8M114.3 324.7h0.8M118.3 326.5h0.8M117.0 326.4h0.8M118.8 328.5h0.8M116.2 326.6h0.8M119.1 326.3h0.8M118.9 327.0h0.8M117.1 325.4h0.8M118.4 326.7h0.8M117.2 326.6h0.8M107.7 336.5h0.8M104.0 341.6h0.8M122.1 337.8h0.8M108.6 332.5h0.8M115.4 329.3h0.8M111.7 335.4h0.8M108.7 341.5h0.8M107.8 345.5h0.8M104.2 340.2h0.8M103.0 343.0h0.8M106.6 342.3h0.8M115.7 338.5h0.8" stroke="#3a52d8" stroke-width="0.8" stroke-opacity="0.28" fill="none"/>
<path d="M97.5 353.8h0.8M97.7 352.4h0.8M109.1 352.4h0.8M102.0 348.3h0.8M108.0 347.8h0.8M100.1 352.7h0.8M101.0 348.0h0.8M106.0 352.8h0.8M93.2 355.5h0.8M102.4 351.2h0.8M107.4 352.4h0.8M99.7 348.2h0.8M101.7 351.8h0.8M101.3 348.8h0.8M119.5 347.5h0.8M99.7 351.0h0.8M95.5 350.2h0.8M97.5 351.7h0.8M93.0 351.9h0.8M94.7 351.9h0.8M92.0 355.5h0.8M98.2 348.4h0.8M98.1 353.3h0.8M109.4 350.8h0.8M98.3 351.2h0.8M100.6 353.1h0.8M105.4 352.1h0.8M98.8 352.9h0.8M95.4 350.7h0.8M97.5 352.7h0.8M100.0 351.0h0.8M89.2 353.9h0.8M92.7 353.2h0.8M101.6 352.5h0.8M106.4 349.5h0.8M94.1 351.8h0.8M90.1 351.8h0.8M91.9 353.4h0.8M103.7 348.2h0.8M106.8 350.2h0.8M102.0 350.6h0.8M99.4 350.9h0.8M91.8 350.6h0.8M106.1 349.7h0.8M100.3 347.9h0.8M105.7 353.3h0.8M101.8 351.5h0.8M96.2 349.0h0.8M96.0 350.0h0.8M95.2 350.8h0.8M92.9 353.9h0.8M96.7 351.7h0.8M108.1 351.9h0.8M100.9 350.8h0.8M99.3 352.4h0.8M109.5 351.2h0.8M100.2 351.0h0.8M104.9 351.4h0.8M115.4 348.4h0.8M111.4 349.5h0.8M111.4 350.4h0.8M119.4 350.3h0.8M113.0 347.3h0.8M117.7 349.2h0.8M119.3 351.2h0.8M121.0 350.0h0.8M109.1 349.7h0.8M115.1 348.1h0.8M114.0 342.1h0.8M108.2 347.7h0.8M115.1 346.8h0.8M104.0 346.4h0.8M118.7 352.2h0.8M110.8 352.9h0.8M110.4 347.8h0.8M115.3 342.9h0.8M108.2 348.1h0.8M113.2 345.7h0.8M113.3 351.5h0.8M104.3 353.1h0.8M113.7 346.3h0.8M108.1 343.5h0.8M121.6 347.1h0.8M115.4 349.4h0.8M108.6 326.9h0.8M112.1 326.4h0.8M116.1 324.8h0.8M118.7 327.0h0.8M109.5 323.2h0.8M118.5 325.9h0.8M115.7 325.9h0.8M112.2 329.5h0.8M113.6 324.0h0.8M121.5 326.8h0.8M118.8 327.8h0.8M119.4 326.4h0.8M119.8 327.5h0.8M115.5 328.0h0.8M119.0 327.2h0.8M117.6 326.3h0.8M118.1 327.3h0.8M118.2 327.8h0.8M117.2 326.2h0.8M109.0 330.2h0.8M114.3 340.2h0.8M109.7 323.9h0.8M124.4 334.2h0.8M117.3 328.3h0.8M103.1 329.3h0.8M110.5 328.4h0.8M114.7 343.3h0.8M120.0 338.3h0.8M118.9 336.4h0.8M115.1 339.0h0.8M93.7 337.6h0.8" stroke="#3a52d8" stroke-width="0.8" stroke-opacity="0.28" fill="none"/>
<path d="M106.5 353.0h0.8M92.5 353.2h0.8M99.1 351.0h0.8M108.1 347.4h0.8M98.7 355.7h0.8M100.0 352.0h0.8M101.6 351.2h0.8M92.9 352.4h0.8M97.4 353.6h0.8M101.5 350.0h0.8M95.1 351.1h0.8M99.6 353.2h0.8M96.2 352.2h0.8M108.1 350.8h0.8M101.9 352.6h0.8M100.2 351.0h0.8M97.1 352.4h0.8M103.0 349.1h0.8M104.9 350.2h0.8M99.3 351.7h0.8M107.6 351.9h0.8M104.9 349.7h0.8M95.6 352.6h0.8M103.3 354.0h0.8M94.7 352.9h0.8M103.4 351.6h0.8M96.6 350.8h0.8M99.7 355.3h0.8M102.9 352.6h0.8M107.4 349.7h0.8M106.8 350.7h0.8M105.7 351.8h0.8M99.5 351.6h0.8M95.6 353.0h0.8M106.5 349.3h0.8M107.2 350.9h0.8M89.5 351.0h0.8M102.8 349.2h0.8M107.0 349.5h0.8M99.9 350.2h0.8M97.4 351.8h0.8M109.3 348.8h0.8M114.6 346.8h0.8M109.6 348.7h0.8M108.0 351.4h0.8M99.3 351.4h0.8M97.7 354.5h0.8M104.5 353.2h0.8M102.4 352.6h0.8M95.3 351.9h0.8M105.1 349.4h0.8M100.2 348.5h0.8M98.1 353.2h0.8M99.3 352.4h0.8M97.9 349.8h0.8M108.3 349.6h0.8M97.7 351.9h0.8M112.6 349.0h0.8M115.1 350.1h0.8M117.7 348.2h0.8M100.0 348.6h0.8M113.2 346.9h0.8M107.2 352.1h0.8M112.8 347.4h0.8M109.7 347.6h0.8M115.4 347.5h0.8M125.8 347.9h0.8M120.7 350.0h0.8M112.8 350.2h0.8M103.8 348.5h0.8M116.7 345.9h0.8M115.8 348.3h0.8M114.1 345.1h0.8M107.9 345.4h0.8M112.7 348.5h0.8M121.1 348.3h0.8M116.0 348.4h0.8M120.4 354.7h0.8M112.6 351.3h0.8M106.3 348.5h0.8M108.9 352.6h0.8M117.6 352.8h0.8M105.9 348.2h0.8M118.1 349.7h0.8M111.6 326.2h0.8M115.0 324.5h0.8M112.2 324.5h0.8M107.4 324.5h0.8M112.7 325.9h0.8M119.5 325.5h0.8M110.6 325.4h0.8M114.0 325.1h0.8M113.9 325.8h0.8M118.2 324.1h0.8M118.8 327.4h0.8M120.2 327.0h0.8M117.4 326.6h0.8M118.4 326.2h0.8M118.8 328.2h0.8M118.9 326.2h0.8M116.4 327.4h0.8M117.3 326.3h0.8M118.2 327.2h0.8M107.2 336.0h0.8M109.8 323.0h0.8M112.7 335.9h0.8M117.0 331.0h0.8M101.0 328.1h0.8M111.1 336.2h0.8M114.6 342.4h0.8M96.5 343.6h0.8M95.3 343.8h0.8M117.0 336.9h0.8M109.9 346.0h0.8M117.1 337.9h0.8" stroke="#3a52d8" stroke-width="0.8" stroke-opacity="0.28" fill="none"/>
<path d="M105.9 350.9h0.8M96.1 352.8h0.8M104.4 349.4h0.8M96.5 350.5h0.8M106.4 352.0h0.8M96.4 348.5h0.8M104.4 349.5h0.8M97.3 352.9h0.8M103.5 350.7h0.8M103.1 352.1h0.8M96.0 350.7h0.8M99.1 350.8h0.8M104.2 349.4h0.8M98.5 351.1h0.8M97.5 352.6h0.8M97.8 351.0h0.8M109.6 348.4h0.8M99.9 351.9h0.8M99.7 350.4h0.8M99.1 351.8h0.8M98.4 352.2h0.8M100.4 350.3h0.8M95.9 352.1h0.8M106.0 346.7h0.8M104.1 351.9h0.8M97.1 349.9h0.8M94.2 351.6h0.8M99.1 349.5h0.8M98.2 349.4h0.8M100.1 352.6h0.8M100.4 350.6h0.8M105.0 348.1h0.8M104.8 353.1h0.8M109.7 350.7h0.8M101.6 349.4h0.8M110.8 348.5h0.8M97.1 349.7h0.8M109.7 347.7h0.8M102.0 351.6h0.8M97.9 351.2h0.8M102.0 353.1h0.8M94.4 351.3h0.8M106.2 350.2h0.8M105.0 352.0h0.8M93.1 352.6h0.8M92.8 354.0h0.8M98.9 352.9h0.8M115.4 347.9h0.8M106.7 349.7h0.8M95.9 351.0h0.8M93.3 352.8h0.8M100.8 348.7h0.8M97.8 349.6h0.8M112.2 349.1h0.8M95.0 350.7h0.8M101.1 350.3h0.8M97.0 351.0h0.8M113.6 346.5h0.8M118.6 349.5h0.8M123.1 348.0h0.8M111.0 350.2h0.8M112.9 348.3h0.8M114.6 355.6h0.8M115.5 351.0h0.8M113.3 345.2h0.8M105.6 347.9h0.8M111.4 346.1h0.8M114.4 351.9h0.8M113.5 345.3h0.8M115.9 347.8h0.8M108.0 343.8h0.8M120.5 344.1h0.8M112.1 346.1h0.8M111.6 346.1h0.8M111.8 351.2h0.8M112.2 351.4h0.8M106.7 349.4h0.8M110.8 349.4h0.8M108.1 350.0h0.8M110.0 342.8h0.8M107.1 345.5h0.8M111.0 341.6h0.8M112.2 347.9h0.8M121.7 352.2h0.8M115.4 324.7h0.8M113.7 325.8h0.8M116.8 323.9h0.8M107.2 327.0h0.8M112.7 325.2h0.8M112.5 324.0h0.8M109.9 326.9h0.8M111.7 326.2h0.8M109.2 325.0h0.8M109.3 327.0h0.8M118.5 325.1h0.8M116.6 327.7h0.8M117.3 326.4h0.8M117.6 327.7h0.8M118.5 327.5h0.8M118.3 326.0h0.8M116.7 326.3h0.8M114.4 327.1h0.8M118.1 326.6h0.8M108.5 324.8h0.8M120.9 333.7h0.8M111.2 327.0h0.8M112.0 324.6h0.8M101.7 326.3h0.8M109.5 332.6h0.8M112.2 339.4h0.8M101.5 352.5h0.8M100.6 340.4h0.8M102.8 335.0h0.8M111.3 343.7h0.8M106.0 343.1h0.8" stroke="#3a52d8" stroke-width="0.8" stroke-opacity="0.28" fill="none"/>
<path d="M94.5 353.3h0.8M90.4 349.5h0.8M106.8 349.4h0.8M100.2 350.2h0.8M99.1 349.6h0.8M93.1 356.1h0.8M90.1 350.7h0.8M91.9 350.7h0.8M98.9 349.7h0.8M97.4 353.8h0.8M94.5 351.7h0.8M101.7 350.8h0.8M91.5 352.1h0.8M106.8 347.9h0.8M99.7 352.4h0.8M96.1 352.3h0.8M103.3 349.5h0.8M101.9 349.8h0.8M100.7 349.0h0.8M104.5 347.2h0.8M95.4 350.8h0.8M95.6 351.8h0.8M93.8 352.1h0.8M100.3 350.7h0.8M103.1 347.9h0.8M99.2 349.9h0.8M102.4 351.2h0.8M93.4 351.6h0.8M98.7 351.2h0.8M104.0 348.8h0.8M98.2 349.2h0.8M97.2 352.5h0.8M107.0 348.9h0.8M108.2 347.9h0.8M96.6 351.9h0.8M108.1 350.4h0.8M97.6 351.1h0.8M97.7 352.0h0.8M106.3 350.5h0.8M104.4 348.9h0.8M104.9 352.0h0.8M97.3 351.4h0.8M102.9 349.6h0.8M96.4 351.1h0.8M101.3 352.0h0.8M104.2 351.9h0.8M96.5 349.1h0.8M99.5 349.2h0.8M103.2 348.9h0.8M102.2 352.9h0.8M99.1 352.0h0.8M107.6 353.2h0.8M105.0 348.6h0.8M106.8 349.3h0.8M103.5 353.1h0.8M100.3 350.2h0.8M112.9 354.3h0.8M113.4 348.7h0.8M128.7 351.2h0.8M113.2 344.8h0.8M111.0 346.1h0.8M108.9 347.8h0.8M113.0 349.5h0.8M115.1 351.3h0.8M108.4 351.1h0.8M105.5 351.8h0.8M117.2 349.6h0.8M119.1 346.1h0.8M115.0 345.4h0.8M114.0 348.0h0.8M116.1 346.3h0.8M120.0 349.1h0.8M110.6 349.8h0.8M112.7 348.7h0.8M113.0 346.4h0.8M113.2 349.5h0.8M111.5 352.0h0.8M111.6 348.8h0.8M111.0 350.2h0.8M112.2 346.9h0.8M120.0 347.6h0.8M110.3 347.3h0.8M113.5 325.2h0.8M111.3 323.2h0.8M112.5 326.8h0.8M112.4 328.0h0.8M116.1 326.5h0.8M110.9 326.6h0.8M111.4 327.4h0.8M105.3 325.4h0.8M115.3 326.6h0.8M110.3 326.8h0.8M112.9 325.4h0.8M118.7 326.8h0.8M119.7 326.0h0.8M117.4 325.2h0.8M118.3 327.3h0.8M116.6 326.5h0.8M119.0 326.3h0.8M117.7 326.5h0.8M116.6 327.2h0.8M119.2 327.1h0.8M115.4 329.7h0.8M112.5 333.5h0.8M107.0 326.9h0.8M111.5 339.2h0.8M118.5 332.2h0.8M117.5 340.3h0.8M109.1 330.7h0.8M108.0 343.0h0.8M117.0 338.9h0.8M126.5 342.4h0.8M106.9 343.5h0.8M119.5 342.1h0.8" stroke="#3a52d8" stroke-width="0.8" stroke-opacity="0.28" fill="none"/>
<defs><radialGradient id="g1"><stop offset="0" stop-color="#30b890" stop-opacity="0.85"/><stop offset="0.45" stop-color="#3a8ad0" stop-opacity="0.7"/><stop offset="1" stop-color="#3a50d0" stop-opacity="0"/></radialGradient></defs>
<ellipse cx="102.7" cy="351.6" rx="7" ry="1.6" fill="url(#g1)" transform="rotate(-10 102.7 351.6)"/>
<rect x="87.7" y="317.2" width="42.4" height="41.6" fill="none" stroke="#7a7a7a" stroke-width="0.8"/>
<line x1="106.4" y1="317.2" x2="106.4" y2="358.8" stroke="#333" stroke-width="0.8"/>
<line x1="87.7" y1="339.8" x2="130.1" y2="339.8" stroke="#333" stroke-width="0.8"/>
<text x="85.9" y="322.2" font-size="4.2" text-anchor="end" fill="#222">10³</text>
<line x1="86.7" y1="320.8" x2="87.7" y2="320.8" stroke="#666" stroke-width="0.5"/>
<text x="85.9" y="331.6" font-size="4.2" text-anchor="end" fill="#222">10²</text>
<line x1="86.7" y1="330.2" x2="87.7" y2="330.2" stroke="#666" stroke-width="0.5"/>
<text x="85.9" y="341.2" font-size="4.2" text-anchor="end" fill="#222">10¹</text>
<line x1="86.7" y1="339.8" x2="87.7" y2="339.8" stroke="#666" stroke-width="0.5"/>
<text x="85.9" y="355.8" font-size="4.2" text-anchor="end" fill="#222">0</text>
<line x1="86.7" y1="354.4" x2="87.7" y2="354.4" stroke="#666" stroke-width="0.5"/>
<text x="93.2" y="363.7" font-size="4.2" text-anchor="middle" fill="#222">0</text>
<text x="105.6" y="363.7" font-size="4.2" text-anchor="middle" fill="#222">10¹</text>
<text x="116" y="363.7" font-size="4.2" text-anchor="middle" fill="#222">10²</text>
<text x="125.7" y="363.7" font-size="4.2" text-anchor="middle" fill="#222">10³</text>
<text x="125.9" y="323.8" font-size="5.6" text-anchor="end" fill="#222">15.3</text>
<text x="88.7" y="358.3" font-size="5.6" fill="#222">57.4</text>
<text x="125.9" y="358.3" font-size="5.6" text-anchor="end" fill="#222">26.7</text>
<path d="M160.7 349.8h0.8M164.4 348.8h0.8M155.4 347.2h0.8M157.2 350.5h0.8M153.0 351.3h0.8M150.8 352.5h0.8M152.5 348.9h0.8M151.0 352.3h0.8M158.0 352.8h0.8M150.4 349.6h0.8M148.7 351.3h0.8M153.9 347.7h0.8M164.6 351.9h0.8M165.2 348.3h0.8M158.3 350.1h0.8M161.5 350.5h0.8M146.9 351.8h0.8M164.4 345.5h0.8M159.0 349.2h0.8M156.3 348.5h0.8M166.7 346.1h0.8M149.0 350.9h0.8M151.3 351.2h0.8M153.0 349.1h0.8M147.1 352.8h0.8M161.9 348.0h0.8M164.7 347.3h0.8M153.7 352.7h0.8M155.9 352.9h0.8M147.8 355.7h0.8M154.5 348.1h0.8M149.8 351.0h0.8M148.4 348.1h0.8M163.5 349.3h0.8M159.0 353.6h0.8M143.1 352.7h0.8M142.0 352.6h0.8M150.6 351.6h0.8M151.6 352.2h0.8M158.9 348.0h0.8M154.7 349.2h0.8M164.5 347.3h0.8M148.0 349.6h0.8M166.4 345.5h0.8M165.5 347.4h0.8M152.1 350.6h0.8M163.4 349.5h0.8M151.4 348.7h0.8M151.6 351.4h0.8M146.5 351.5h0.8M156.0 348.9h0.8M150.0 351.7h0.8M172.2 343.9h0.8M149.4 348.2h0.8M156.7 350.2h0.8M155.9 349.2h0.8M149.7 351.5h0.8M150.5 351.1h0.8M151.9 351.2h0.8M161.0 350.5h0.8M148.4 350.2h0.8M148.8 351.1h0.8M148.5 351.4h0.8M147.5 351.6h0.8M160.3 348.4h0.8M144.1 353.5h0.8M171.6 349.6h0.8M169.2 340.8h0.8M166.7 350.4h0.8M165.4 347.9h0.8M169.0 347.7h0.8M164.6 347.9h0.8M162.0 344.1h0.8M174.9 345.0h0.8M171.9 350.0h0.8M167.6 349.2h0.8M172.9 351.1h0.8M174.7 349.9h0.8M164.4 346.5h0.8M166.4 346.0h0.8M173.7 325.7h0.8M172.3 327.5h0.8M171.8 328.5h0.8M172.1 326.5h0.8M165.6 324.5h0.8M169.6 327.0h0.8M171.9 326.2h0.8M174.9 326.7h0.8M170.4 327.4h0.8M167.4 328.6h0.8M142.9 332.5h0.8M155.8 332.6h0.8M160.2 333.6h0.8M178.1 329.3h0.8M156.6 330.9h0.8M160.4 347.7h0.8M153.0 331.1h0.8M160.4 334.1h0.8M165.2 320.2h0.8M169.2 331.8h0.8M170.7 341.3h0.8M168.0 334.7h0.8M166.1 340.5h0.8M167.8 335.4h0.8" stroke="#3a52d8" stroke-width="0.8" stroke-opacity="0.28" fill="none"/>
<path d="M160.4 350.5h0.8M148.5 354.7h0.8M155.0 350.7h0.8M152.8 352.5h0.8M158.2 347.3h0.8M154.6 352.2h0.8M149.6 350.5h0.8M154.4 348.0h0.8M144.7 354.4h0.8M148.6 352.6h0.8M155.8 350.0h0.8M153.2 352.3h0.8M171.2 345.6h0.8M142.8 354.7h0.8M162.2 347.6h0.8M150.9 351.2h0.8M160.5 342.6h0.8M148.1 349.3h0.8M145.2 351.4h0.8M157.4 346.0h0.8M158.9 350.2h0.8M164.1 347.6h0.8M153.4 349.5h0.8M164.4 344.8h0.8M152.9 350.5h0.8M153.6 352.6h0.8M163.5 348.1h0.8M164.5 348.6h0.8M148.4 353.4h0.8M162.0 348.8h0.8M170.5 348.1h0.8M155.0 349.9h0.8M152.3 348.9h0.8M148.2 350.4h0.8M153.1 350.9h0.8M159.3 348.0h0.8M149.3 348.5h0.8M158.2 353.0h0.8M163.4 349.7h0.8M150.7 353.1h0.8M158.0 347.1h0.8M147.9 351.2h0.8M152.1 348.4h0.8M145.5 355.2h0.8M158.1 351.4h0.8M168.4 342.7h0.8M162.5 347.0h0.8M147.8 353.6h0.8M156.7 349.2h0.8M155.3 352.0h0.8M157.0 351.7h0.8M142.0 352.8h0.8M151.9 350.2h0.8M157.3 349.0h0.8M153.6 343.5h0.8M153.8 349.4h0.8M156.7 350.6h0.8M155.6 353.5h0.8M152.9 351.2h0.8M160.2 350.9h0.8M143.4 352.0h0.8M157.3 352.7h0.8M150.1 349.6h0.8M147.4 353.4h0.8M156.6 349.3h0.8M149.5 353.9h0.8M170.3 349.9h0.8M171.1 347.3h0.8M174.4 344.6h0.8M162.4 348.1h0.8M162.2 350.3h0.8M164.3 347.1h0.8M164.1 341.9h0.8M167.5 349.8h0.8M172.0 349.0h0.8M166.4 342.9h0.8M169.6 343.9h0.8M168.1 348.9h0.8M173.4 341.1h0.8M163.7 347.8h0.8M172.4 326.9h0.8M175.1 326.5h0.8M169.2 327.5h0.8M167.8 326.2h0.8M168.8 327.7h0.8M171.1 326.5h0.8M176.0 325.2h0.8M175.7 327.0h0.8M173.3 324.8h0.8M174.6 327.2h0.8M150.1 335.7h0.8M166.5 318.9h0.8M157.4 337.9h0.8M153.1 334.8h0.8M165.5 339.0h0.8M159.2 323.4h0.8M176.8 338.6h0.8M146.7 324.5h0.8M172.8 330.0h0.8M164.0 331.7h0.8M159.7 334.6h0.8M167.1 326.8h0.8M171.3 335.2h0.8M163.4 338.4h0.8" stroke="#3a52d8" stroke-width="0.8" stroke-opacity="0.28" fill="none"/>
<path d="M152.5 351.4h0.8M155.0 352.2h0.8M156.6 350.8h0.8M146.1 353.5h0.8M151.7 351.9h0.8M155.8 349.1h0.8M148.9 354.5h0.8M151.4 351.9h0.8M157.9 350.6h0.8M148.1 351.7h0.8M153.3 353.9h0.8M159.3 351.3h0.8M145.0 353.8h0.8M154.5 355.1h0.8M147.6 351.8h0.8M154.4 351.8h0.8M157.9 345.5h0.8M162.5 346.3h0.8M160.4 346.6h0.8M155.0 348.9h0.8M153.8 350.1h0.8M156.6 351.9h0.8M155.2 349.7h0.8M161.9 351.1h0.8M152.3 348.6h0.8M150.2 353.7h0.8M160.6 351.3h0.8M159.9 349.2h0.8M167.7 346.6h0.8M158.0 350.3h0.8M160.5 347.6h0.8M158.6 346.1h0.8M163.9 347.7h0.8M157.3 350.0h0.8M168.6 349.5h0.8M172.6 343.9h0.8M169.2 347.6h0.8M150.7 347.5h0.8M154.8 350.7h0.8M158.2 349.7h0.8M156.1 353.5h0.8M157.3 347.5h0.8M150.1 352.6h0.8M144.9 354.9h0.8M158.3 348.6h0.8M149.9 349.3h0.8M150.4 352.6h0.8M150.8 348.9h0.8M159.2 348.8h0.8M142.4 355.2h0.8M166.4 349.7h0.8M163.8 347.4h0.8M171.7 345.1h0.8M149.8 351.3h0.8M161.0 348.9h0.8M164.7 347.7h0.8M147.8 353.6h0.8M149.4 353.1h0.8M159.3 349.6h0.8M157.0 348.7h0.8M167.8 344.7h0.8M168.1 342.0h0.8M157.3 351.9h0.8M154.4 351.2h0.8M151.8 350.5h0.8M161.2 349.9h0.8M162.4 351.6h0.8M173.9 342.6h0.8M170.3 343.3h0.8M166.9 346.5h0.8M173.0 343.7h0.8M168.2 347.4h0.8M164.1 352.9h0.8M168.4 347.9h0.8M164.7 347.4h0.8M164.3 347.5h0.8M169.3 340.0h0.8M165.0 345.6h0.8M167.4 343.7h0.8M168.7 346.0h0.8M166.0 342.1h0.8M170.7 327.3h0.8M172.4 326.6h0.8M172.6 326.5h0.8M173.2 325.5h0.8M171.5 325.0h0.8M174.2 327.2h0.8M167.3 326.4h0.8M169.3 326.1h0.8M173.8 326.8h0.8M172.4 326.3h0.8M148.5 318.0h0.8M151.6 326.9h0.8M142.5 323.1h0.8M167.5 336.5h0.8M146.8 329.5h0.8M162.8 327.3h0.8M160.4 334.6h0.8M172.5 339.8h0.8M151.6 337.3h0.8M163.0 335.0h0.8M171.7 347.9h0.8M163.0 336.6h0.8M170.9 343.0h0.8M169.1 327.3h0.8" stroke="#3a52d8" stroke-width="0.8" stroke-opacity="0.28" fill="none"/>
<path d="M150.6 352.3h0.8M162.2 348.6h0.8M157.1 349.6h0.8M154.5 348.3h0.8M156.2 349.0h0.8M154.6 352.1h0.8M169.2 347.0h0.8M151.0 356.3h0.8M148.7 349.7h0.8M165.9 350.8h0.8M167.9 346.9h0.8M168.5 343.0h0.8M160.7 348.7h0.8M162.6 350.0h0.8M150.8 352.3h0.8M157.2 350.4h0.8M168.0 348.4h0.8M153.4 349.9h0.8M152.5 351.8h0.8M151.3 349.0h0.8M149.4 351.9h0.8M157.8 348.9h0.8M153.7 353.2h0.8M165.2 349.9h0.8M152.5 351.1h0.8M150.9 350.2h0.8M151.2 349.4h0.8M152.8 352.0h0.8M152.1 351.6h0.8M154.0 354.2h0.8M157.4 347.5h0.8M150.6 348.5h0.8M158.3 350.4h0.8M167.3 346.1h0.8M157.7 349.0h0.8M148.4 352.3h0.8M155.0 350.5h0.8M158.9 347.7h0.8M161.1 345.2h0.8M170.0 348.5h0.8M165.9 346.8h0.8M154.8 350.1h0.8M157.3 350.1h0.8M158.9 348.0h0.8M146.4 355.9h0.8M153.0 347.9h0.8M148.3 351.4h0.8M155.3 345.7h0.8M154.9 347.4h0.8M161.5 347.7h0.8M158.5 352.2h0.8M153.3 351.3h0.8M159.3 353.3h0.8M159.3 347.4h0.8M150.3 350.3h0.8M146.7 353.5h0.8M157.2 350.5h0.8M144.1 353.7h0.8M154.3 348.5h0.8M147.9 351.7h0.8M144.1 352.8h0.8M154.6 348.8h0.8M160.2 348.0h0.8M158.3 348.8h0.8M152.1 347.7h0.8M150.4 353.3h0.8M166.0 343.4h0.8M164.9 344.5h0.8M164.5 343.3h0.8M168.8 342.9h0.8M164.4 346.5h0.8M170.2 352.1h0.8M162.7 344.6h0.8M168.1 344.1h0.8M165.8 342.7h0.8M168.5 349.7h0.8M173.5 347.2h0.8M166.8 343.5h0.8M160.3 348.1h0.8M164.6 345.0h0.8M174.5 327.8h0.8M170.9 326.7h0.8M169.7 327.1h0.8M169.6 328.3h0.8M173.1 327.4h0.8M174.1 325.1h0.8M171.9 326.8h0.8M168.1 325.0h0.8M170.9 326.3h0.8M170.9 327.3h0.8M163.4 331.8h0.8M156.2 331.0h0.8M164.8 320.1h0.8M175.2 323.6h0.8M167.8 321.3h0.8M158.4 328.7h0.8M155.5 320.5h0.8M162.9 328.6h0.8M170.1 325.3h0.8M162.6 345.1h0.8M169.3 338.5h0.8M169.5 328.6h0.8M169.7 342.4h0.8M168.9 329.2h0.8" stroke="#3a52d8" stroke-width="0.8" stroke-opacity="0.28" fill="none"/>
<path d="M160.7 348.0h0.8M159.7 349.3h0.8M165.0 347.7h0.8M161.3 347.6h0.8M152.9 352.1h0.8M159.1 346.3h0.8M150.0 352.3h0.8M152.8 352.1h0.8M156.8 352.4h0.8M160.5 351.1h0.8M164.4 346.8h0.8M149.5 354.0h0.8M158.9 349.3h0.8M156.6 346.7h0.8M152.9 346.4h0.8M149.0 347.9h0.8M148.5 350.5h0.8M156.1 350.0h0.8M157.7 347.5h0.8M151.8 352.4h0.8M149.8 350.5h0.8M151.9 347.6h0.8M145.9 352.1h0.8M162.3 352.4h0.8M147.2 351.1h0.8M154.8 347.7h0.8M159.4 349.3h0.8M152.3 350.3h0.8M151.2 351.0h0.8M162.9 348.3h0.8M163.4 347.3h0.8M146.5 347.7h0.8M145.0 357.0h0.8M171.1 347.7h0.8M161.1 349.2h0.8M159.2 348.4h0.8M155.6 350.6h0.8M159.5 348.3h0.8M152.7 351.8h0.8M143.0 352.4h0.8M149.8 350.5h0.8M162.6 347.9h0.8M163.8 345.0h0.8M165.5 346.5h0.8M159.9 346.2h0.8M163.8 346.8h0.8M164.2 348.5h0.8M162.5 350.1h0.8M160.1 348.8h0.8M152.9 353.1h0.8M162.0 351.1h0.8M154.2 348.7h0.8M156.5 349.4h0.8M142.8 354.8h0.8M147.6 354.6h0.8M160.4 348.5h0.8M149.4 353.2h0.8M169.4 347.2h0.8M164.3 350.3h0.8M159.8 349.7h0.8M159.1 347.6h0.8M151.1 350.0h0.8M159.0 350.6h0.8M154.7 351.3h0.8M154.2 348.2h0.8M164.5 348.7h0.8M168.4 350.6h0.8M169.0 346.5h0.8M166.4 348.8h0.8M170.0 346.5h0.8M169.2 345.3h0.8M163.9 348.2h0.8M168.0 345.5h0.8M167.0 341.5h0.8M163.4 347.5h0.8M169.1 348.5h0.8M167.7 343.9h0.8M169.9 346.2h0.8M168.0 344.7h0.8M174.0 327.2h0.8M171.4 326.9h0.8M169.1 327.4h0.8M170.7 327.7h0.8M175.2 325.1h0.8M171.3 326.4h0.8M173.3 326.1h0.8M173.8 328.8h0.8M172.6 327.6h0.8M176.3 328.2h0.8M170.1 327.9h0.8M161.8 321.9h0.8M145.4 333.5h0.8M166.8 321.9h0.8M169.4 336.0h0.8M160.6 340.5h0.8M167.1 330.6h0.8M165.3 330.7h0.8M150.8 331.4h0.8M178.5 323.2h0.8M166.6 333.4h0.8M163.9 334.6h0.8M169.9 333.2h0.8M171.4 341.1h0.8M172.5 337.9h0.8" stroke="#3a52d8" stroke-width="0.8" stroke-opacity="0.28" fill="none"/>
<path d="M150.2 353.6h0.8M160.6 347.8h0.8M153.1 351.1h0.8M156.5 350.3h0.8M169.6 348.7h0.8M159.1 348.7h0.8M143.3 350.6h0.8M154.1 353.5h0.8M152.2 352.2h0.8M158.1 350.3h0.8M154.7 350.1h0.8M161.5 350.0h0.8M155.0 353.2h0.8M148.1 352.3h0.8M158.2 352.0h0.8M149.2 352.6h0.8M163.7 346.9h0.8M146.5 354.1h0.8M162.9 349.4h0.8M155.5 349.4h0.8M157.1 352.9h0.8M161.2 345.3h0.8M155.3 348.8h0.8M161.6 346.6h0.8M160.3 351.7h0.8M155.2 351.1h0.8M162.7 345.2h0.8M143.7 355.9h0.8M147.3 351.5h0.8M160.3 349.2h0.8M156.7 353.5h0.8M156.9 353.2h0.8M148.1 350.7h0.8M169.2 345.8h0.8M150.4 354.7h0.8M161.3 351.9h0.8M158.8 350.6h0.8M146.5 351.9h0.8M167.1 349.7h0.8M163.9 345.1h0.8M152.4 352.0h0.8M154.1 352.7h0.8M164.2 346.3h0.8M150.8 349.6h0.8M148.3 349.5h0.8M166.8 349.0h0.8M154.8 354.7h0.8M151.7 353.1h0.8M147.2 353.7h0.8M144.3 351.6h0.8M162.3 346.8h0.8M146.7 352.4h0.8M158.5 352.1h0.8M148.6 351.0h0.8M176.0 342.9h0.8M157.6 349.3h0.8M156.6 349.7h0.8M162.2 348.4h0.8M163.2 350.7h0.8M146.8 354.2h0.8M160.1 349.7h0.8M151.8 350.4h0.8M142.7 352.5h0.8M169.6 344.6h0.8M170.6 343.1h0.8M168.5 351.6h0.8M166.2 345.6h0.8M168.8 350.4h0.8M168.3 339.9h0.8M164.1 348.0h0.8M165.2 348.7h0.8M165.8 340.2h0.8M172.1 342.1h0.8M169.9 348.4h0.8M171.4 347.1h0.8M170.2 348.7h0.8M165.0 355.8h0.8M171.1 326.7h0.8M177.8 325.6h0.8M176.2 328.4h0.8M175.0 325.3h0.8M168.5 327.1h0.8M173.0 327.9h0.8M169.9 325.8h0.8M171.0 326.2h0.8M176.8 326.6h0.8M176.5 325.6h0.8M170.7 325.8h0.8M168.0 320.4h0.8M166.9 328.2h0.8M161.6 323.7h0.8M160.9 330.7h0.8M171.4 332.4h0.8M151.3 328.4h0.8M165.0 329.1h0.8M167.1 320.3h0.8M163.4 336.3h0.8M171.1 337.2h0.8M167.0 335.5h0.8M170.4 335.1h0.8M168.2 339.2h0.8M169.4 345.6h0.8" stroke="#3a52d8" stroke-width="0.8" stroke-opacity="0.28" fill="none"/>
<path d="M158.7 351.3h0.8M162.4 350.7h0.8M155.6 350.4h0.8M154.8 349.9h0.8M163.0 348.3h0.8M146.9 349.3h0.8M162.7 347.4h0.8M146.0 350.9h0.8M142.3 354.2h0.8M158.0 350.7h0.8M155.7 351.4h0.8M153.7 352.7h0.8M161.2 347.5h0.8M147.1 348.3h0.8M157.6 349.2h0.8M160.7 350.1h0.8M154.2 348.5h0.8M164.8 347.6h0.8M158.6 350.1h0.8M152.7 349.9h0.8M145.1 353.9h0.8M161.0 349.6h0.8M155.7 351.2h0.8M152.4 346.9h0.8M149.9 351.8h0.8M152.5 346.9h0.8M151.4 350.9h0.8M155.5 348.0h0.8M158.9 353.5h0.8M149.3 348.6h0.8M148.3 352.3h0.8M149.9 354.2h0.8M158.6 347.5h0.8M154.8 350.9h0.8M151.9 352.2h0.8M156.0 346.6h0.8M162.5 347.2h0.8M171.4 343.6h0.8M156.7 351.0h0.8M150.8 348.8h0.8M157.7 352.4h0.8M150.3 351.5h0.8M152.9 351.2h0.8M161.4 349.7h0.8M162.3 349.2h0.8M159.4 346.2h0.8M161.0 350.1h0.8M153.1 350.3h0.8M168.5 348.6h0.8M154.3 348.6h0.8M152.6 351.2h0.8M150.0 350.9h0.8M150.8 352.3h0.8M148.6 353.4h0.8M142.9 354.2h0.8M160.2 348.4h0.8M147.8 353.0h0.8M155.9 350.0h0.8M170.2 345.3h0.8M156.4 353.4h0.8M154.8 351.4h0.8M144.4 353.7h0.8M154.6 351.1h0.8M157.6 349.7h0.8M177.1 348.0h0.8M166.8 349.3h0.8M173.2 344.1h0.8M166.1 342.2h0.8M169.9 350.3h0.8M173.4 342.9h0.8M170.7 341.5h0.8M171.3 348.3h0.8M177.1 350.7h0.8M174.9 350.6h0.8M168.5 343.7h0.8M167.7 346.5h0.8M155.4 347.1h0.8M166.3 340.8h0.8M172.4 328.7h0.8M172.5 327.6h0.8M175.1 325.7h0.8M170.6 326.4h0.8M168.9 326.4h0.8M172.3 327.2h0.8M174.9 327.5h0.8M167.5 326.9h0.8M171.3 325.6h0.8M170.3 327.6h0.8M175.1 326.6h0.8M157.2 324.5h0.8M149.8 329.2h0.8M157.4 330.2h0.8M164.7 326.4h0.8M163.5 326.1h0.8M165.4 332.1h0.8M171.9 325.8h0.8M166.7 341.3h0.8M162.1 334.1h0.8M161.9 335.5h0.8M177.5 337.9h0.8M163.2 334.4h0.8" stroke="#3a52d8" stroke-width="0.8" stroke-opacity="0.28" fill="none"/>
<path d="M155.6 348.4h0.8M157.7 347.4h0.8M165.6 344.3h0.8M150.6 351.7h0.8M142.8 355.2h0.8M156.7 348.0h0.8M148.5 355.9h0.8M159.8 350.3h0.8M153.6 348.9h0.8M144.4 350.0h0.8M147.6 351.3h0.8M157.6 347.0h0.8M145.0 352.1h0.8M166.3 348.2h0.8M165.4 343.2h0.8M158.9 348.2h0.8M165.7 345.0h0.8M153.9 354.1h0.8M154.6 351.6h0.8M163.0 348.2h0.8M153.0 352.8h0.8M152.9 348.7h0.8M152.1 349.6h0.8M155.6 351.9h0.8M160.0 345.7h0.8M150.4 353.0h0.8M157.8 350.3h0.8M166.2 345.5h0.8M160.8 347.6h0.8M154.9 347.7h0.8M153.9 350.4h0.8M153.9 347.5h0.8M171.4 347.7h0.8M148.6 351.9h0.8M161.1 350.3h0.8M146.6 353.4h0.8M153.0 348.1h0.8M168.6 349.2h0.8M152.1 350.3h0.8M149.3 349.5h0.8M149.0 350.4h0.8M162.8 350.1h0.8M159.3 349.7h0.8M158.5 353.9h0.8M149.5 351.0h0.8M163.8 349.5h0.8M157.7 348.3h0.8M151.6 351.9h0.8M151.8 349.5h0.8M150.8 352.6h0.8M160.9 347.5h0.8M164.1 350.5h0.8M154.7 348.8h0.8M147.7 356.8h0.8M162.5 351.1h0.8M159.6 351.3h0.8M154.1 352.2h0.8M157.2 351.4h0.8M154.8 350.4h0.8M159.7 350.0h0.8M155.2 345.5h0.8M150.8 350.7h0.8M166.2 347.5h0.8M165.8 345.9h0.8M156.2 349.8h0.8M167.0 346.8h0.8M165.9 346.0h0.8M165.4 351.4h0.8M173.9 339.2h0.8M170.5 342.7h0.8M159.2 343.4h0.8M163.4 342.8h0.8M167.1 352.2h0.8M172.9 347.1h0.8M166.4 344.8h0.8M167.0 346.0h0.8M174.6 345.7h0.8M160.7 346.7h0.8M164.2 345.1h0.8M170.4 327.2h0.8M172.3 327.4h0.8M175.7 326.0h0.8M168.9 325.6h0.8M170.8 327.3h0.8M171.8 326.3h0.8M170.1 325.6h0.8M174.0 326.4h0.8M174.4 327.1h0.8M168.9 326.0h0.8M173.3 326.3h0.8M157.9 334.3h0.8M156.6 332.6h0.8M160.1 326.9h0.8M175.2 318.5h0.8M164.0 327.3h0.8M170.1 333.9h0.8M164.7 334.2h0.8M164.4 322.4h0.8M167.8 336.9h0.8M168.0 335.3h0.8M170.2 335.6h0.8M166.6 336.8h0.8M167.0 337.3h0.8M168.1 333.2h0.8" stroke="#3a52d8" stroke-width="0.8" stroke-opacity="0.28" fill="none"/>
<defs><radialGradient id="g2"><stop offset="0" stop-color="#30b890" stop-opacity="0.85"/><stop offset="0.45" stop-color="#3a8ad0" stop-opacity="0.7"/><stop offset="1" stop-color="#3a50d0" stop-opacity="0"/></radialGradient></defs>
<ellipse cx="153.9" cy="350.2" rx="7.5" ry="1.8" fill="url(#g2)" transform="rotate(-13 153.9 350.2)"/>
<defs><radialGradient id="g3"><stop offset="0" stop-color="#30b890" stop-opacity="0.85"/><stop offset="0.45" stop-color="#3a8ad0" stop-opacity="0.7"/><stop offset="1" stop-color="#3a50d0" stop-opacity="0"/></radialGradient></defs>
<ellipse cx="172.1" cy="326.8" rx="2.4" ry="1" fill="url(#g3)" transform="rotate(0 172.1 326.8)"/>
<rect x="140.9" y="317.2" width="42.4" height="41.6" fill="none" stroke="#7a7a7a" stroke-width="0.8"/>
<line x1="159.6" y1="317.2" x2="159.6" y2="358.8" stroke="#333" stroke-width="0.8"/>
<line x1="140.9" y1="339.8" x2="183.3" y2="339.8" stroke="#333" stroke-width="0.8"/>
<text x="139.1" y="322.2" font-size="4.2" text-anchor="end" fill="#222">10³</text>
<line x1="139.9" y1="320.8" x2="140.9" y2="320.8" stroke="#666" stroke-width="0.5"/>
<text x="139.1" y="331.6" font-size="4.2" text-anchor="end" fill="#222">10²</text>
<line x1="139.9" y1="330.2" x2="140.9" y2="330.2" stroke="#666" stroke-width="0.5"/>
<text x="139.1" y="341.2" font-size="4.2" text-anchor="end" fill="#222">10¹</text>
<line x1="139.9" y1="339.8" x2="140.9" y2="339.8" stroke="#666" stroke-width="0.5"/>
<text x="139.1" y="355.8" font-size="4.2" text-anchor="end" fill="#222">0</text>
<line x1="139.9" y1="354.4" x2="140.9" y2="354.4" stroke="#666" stroke-width="0.5"/>
<text x="146.4" y="363.7" font-size="4.2" text-anchor="middle" fill="#222">0</text>
<text x="158.8" y="363.7" font-size="4.2" text-anchor="middle" fill="#222">10¹</text>
<text x="169.2" y="363.7" font-size="4.2" text-anchor="middle" fill="#222">10²</text>
<text x="178.9" y="363.7" font-size="4.2" text-anchor="middle" fill="#222">10³</text>
<text x="179.1" y="323.8" font-size="5.6" text-anchor="end" fill="#222">15.7</text>
<text x="141.9" y="358.3" font-size="5.6" fill="#222">48.3</text>
<text x="179.1" y="358.3" font-size="5.6" text-anchor="end" fill="#222">35.0</text>
<path d="M215.0 326.8h0.8M223.6 326.8h0.8M221.2 328.1h0.8M226.2 327.4h0.8M221.6 324.9h0.8M224.6 327.1h0.8M224.8 327.9h0.8M223.4 326.0h0.8M219.0 327.3h0.8M227.5 328.0h0.8M224.9 329.1h0.8M219.9 326.0h0.8M224.8 324.2h0.8M221.5 326.6h0.8M222.7 328.1h0.8M228.9 325.3h0.8M226.0 327.3h0.8M216.2 328.3h0.8M220.1 326.9h0.8M219.4 325.5h0.8M223.5 322.8h0.8M217.9 336.9h0.8M218.8 336.9h0.8M218.4 348.3h0.8M218.8 336.2h0.8M217.0 339.1h0.8M216.1 345.3h0.8M218.6 333.6h0.8M218.7 342.4h0.8M218.2 330.8h0.8M219.1 339.2h0.8M221.0 336.2h0.8M217.1 354.3h0.8M217.9 348.6h0.8M222.3 353.5h0.8M217.6 347.0h0.8M216.4 354.5h0.8M221.6 348.0h0.8M216.8 353.6h0.8M219.0 351.2h0.8M213.7 352.3h0.8M221.0 347.4h0.8M215.2 347.2h0.8M220.2 354.1h0.8M220.6 348.3h0.8M212.8 348.5h0.8M218.4 347.9h0.8M217.5 346.2h0.8M217.8 353.0h0.8M213.5 348.9h0.8M215.3 351.3h0.8M220.5 349.9h0.8M214.2 348.8h0.8M219.5 346.3h0.8M222.9 350.0h0.8M216.2 351.7h0.8M215.8 345.3h0.8M213.0 354.0h0.8M206.0 347.8h0.8M214.8 350.6h0.8M201.1 348.7h0.8M210.2 353.2h0.8M206.7 353.0h0.8M201.0 350.3h0.8M225.0 351.0h0.8M205.5 349.8h0.8M206.4 357.0h0.8M203.1 351.4h0.8M195.2 355.2h0.8M202.7 348.1h0.8M198.6 350.3h0.8M204.6 333.6h0.8M206.9 340.6h0.8M218.1 337.8h0.8M202.3 342.1h0.8M202.8 330.7h0.8" stroke="#3a52d8" stroke-width="0.8" stroke-opacity="0.28" fill="none"/>
<path d="M221.2 327.5h0.8M218.3 327.9h0.8M216.1 326.9h0.8M220.1 328.1h0.8M223.1 327.8h0.8M222.4 326.9h0.8M224.6 328.3h0.8M220.9 324.8h0.8M219.9 325.1h0.8M226.7 327.3h0.8M219.0 326.3h0.8M218.1 324.6h0.8M220.9 326.2h0.8M227.7 327.3h0.8M211.9 327.1h0.8M221.1 325.0h0.8M221.5 326.1h0.8M217.5 327.8h0.8M226.7 327.2h0.8M222.6 324.9h0.8M218.4 326.4h0.8M217.9 343.8h0.8M220.6 335.9h0.8M219.9 343.5h0.8M220.7 336.9h0.8M218.8 335.2h0.8M219.7 336.7h0.8M219.8 332.1h0.8M220.2 336.7h0.8M218.2 341.5h0.8M220.3 339.0h0.8M217.8 344.0h0.8M217.9 351.6h0.8M210.6 346.1h0.8M218.5 351.7h0.8M216.3 349.3h0.8M213.6 351.0h0.8M214.4 345.3h0.8M216.5 349.6h0.8M220.2 348.0h0.8M219.8 346.0h0.8M222.2 344.4h0.8M219.6 353.1h0.8M215.4 348.7h0.8M215.9 353.3h0.8M218.4 346.9h0.8M215.8 353.9h0.8M221.3 348.5h0.8M217.6 352.9h0.8M220.1 349.9h0.8M218.7 348.2h0.8M215.1 353.4h0.8M218.3 354.3h0.8M217.3 355.6h0.8M218.7 348.1h0.8M218.4 349.3h0.8M217.0 353.8h0.8M214.4 352.2h0.8M205.4 348.8h0.8M199.1 353.5h0.8M208.5 345.4h0.8M208.1 353.5h0.8M210.2 351.3h0.8M205.4 349.1h0.8M215.0 353.4h0.8M209.6 350.4h0.8M195.6 350.1h0.8M204.2 350.4h0.8M205.0 347.1h0.8M211.0 351.7h0.8M205.6 347.5h0.8M214.6 351.7h0.8M206.0 328.1h0.8M213.2 339.6h0.8M216.6 332.4h0.8M212.1 334.8h0.8" stroke="#3a52d8" stroke-width="0.8" stroke-opacity="0.28" fill="none"/>
<path d="M220.2 326.8h0.8M221.2 326.9h0.8M214.6 325.4h0.8M221.7 327.5h0.8M223.8 328.6h0.8M225.3 327.4h0.8M220.1 327.5h0.8M214.5 324.4h0.8M217.4 329.5h0.8M221.0 325.1h0.8M220.8 326.3h0.8M226.5 327.0h0.8M220.4 324.4h0.8M217.6 326.0h0.8M224.5 329.1h0.8M225.3 327.3h0.8M216.8 326.0h0.8M221.4 328.1h0.8M221.1 328.2h0.8M214.7 326.2h0.8M222.0 324.8h0.8M220.4 346.3h0.8M218.0 340.5h0.8M218.6 338.4h0.8M221.0 343.2h0.8M218.2 340.2h0.8M217.9 343.2h0.8M219.0 345.0h0.8M219.6 338.2h0.8M218.8 339.3h0.8M218.6 341.5h0.8M218.1 350.9h0.8M217.7 351.3h0.8M213.7 350.7h0.8M218.0 350.4h0.8M215.1 353.1h0.8M215.5 342.9h0.8M215.7 350.2h0.8M214.8 348.3h0.8M217.9 347.8h0.8M216.0 346.8h0.8M221.5 348.3h0.8M214.2 347.6h0.8M216.7 356.1h0.8M219.5 346.8h0.8M214.2 347.0h0.8M215.9 352.2h0.8M218.8 345.9h0.8M216.6 351.4h0.8M215.1 348.1h0.8M216.5 349.5h0.8M221.0 354.5h0.8M218.2 349.6h0.8M218.0 352.2h0.8M212.4 353.1h0.8M219.6 348.7h0.8M218.5 348.6h0.8M217.4 347.8h0.8M203.7 352.5h0.8M205.8 352.5h0.8M204.5 342.8h0.8M196.5 349.6h0.8M203.0 352.4h0.8M203.5 347.8h0.8M208.7 353.9h0.8M204.0 351.4h0.8M207.0 346.7h0.8M204.9 352.5h0.8M206.8 351.7h0.8M206.7 355.7h0.8M197.5 351.7h0.8M210.3 354.9h0.8M201.5 336.9h0.8M209.9 344.1h0.8M222.1 327.4h0.8M198.4 355.3h0.8M207.6 339.4h0.8" stroke="#3a52d8" stroke-width="0.8" stroke-opacity="0.28" fill="none"/>
<path d="M219.0 326.1h0.8M222.6 326.7h0.8M219.7 324.0h0.8M221.9 325.5h0.8M222.3 327.6h0.8M219.1 327.3h0.8M222.2 326.5h0.8M225.8 324.5h0.8M219.6 326.7h0.8M221.3 324.1h0.8M217.5 326.8h0.8M222.1 329.3h0.8M223.5 325.7h0.8M219.3 326.5h0.8M221.4 324.7h0.8M224.0 326.9h0.8M221.5 326.4h0.8M221.4 325.6h0.8M221.0 326.7h0.8M219.3 326.4h0.8M225.6 327.1h0.8M219.4 332.8h0.8M217.6 345.3h0.8M217.4 339.8h0.8M219.0 339.4h0.8M218.0 335.4h0.8M220.4 339.3h0.8M218.1 342.2h0.8M220.8 336.0h0.8M219.2 347.2h0.8M218.2 328.7h0.8M217.9 336.2h0.8M216.4 348.1h0.8M214.8 347.5h0.8M215.5 349.6h0.8M216.2 352.3h0.8M213.8 348.3h0.8M213.6 355.5h0.8M213.8 348.6h0.8M216.0 344.5h0.8M216.7 352.6h0.8M214.3 350.4h0.8M213.7 354.8h0.8M216.8 350.4h0.8M215.8 342.7h0.8M215.6 351.4h0.8M213.6 350.8h0.8M220.0 351.8h0.8M217.7 353.4h0.8M220.8 353.0h0.8M214.5 352.8h0.8M220.3 347.6h0.8M219.8 345.7h0.8M215.7 350.1h0.8M213.5 349.3h0.8M217.1 352.1h0.8M211.8 349.9h0.8M218.3 352.4h0.8M205.1 351.7h0.8M210.8 350.8h0.8M205.0 351.7h0.8M207.4 349.0h0.8M207.5 347.7h0.8M205.7 346.9h0.8M203.2 352.4h0.8M214.4 350.6h0.8M200.9 351.0h0.8M204.3 344.0h0.8M203.0 349.8h0.8M208.6 347.1h0.8M209.2 348.6h0.8M212.6 346.7h0.8M206.9 331.0h0.8M201.8 345.3h0.8M218.6 330.4h0.8M218.6 339.8h0.8M211.7 348.6h0.8" stroke="#3a52d8" stroke-width="0.8" stroke-opacity="0.28" fill="none"/>
<path d="M215.9 326.8h0.8M220.1 327.3h0.8M215.6 326.9h0.8M224.1 326.9h0.8M226.0 326.4h0.8M223.4 325.8h0.8M219.8 326.1h0.8M222.6 328.5h0.8M219.2 326.9h0.8M220.3 328.7h0.8M222.4 327.2h0.8M221.0 327.4h0.8M220.6 326.1h0.8M219.5 325.7h0.8M223.1 326.0h0.8M221.1 327.0h0.8M221.6 327.6h0.8M224.6 327.0h0.8M221.8 325.0h0.8M219.7 327.2h0.8M219.5 327.0h0.8M219.0 343.4h0.8M219.5 340.9h0.8M220.2 330.7h0.8M220.1 329.2h0.8M219.4 337.4h0.8M216.8 335.4h0.8M222.3 339.1h0.8M221.5 333.7h0.8M217.9 331.7h0.8M216.0 338.9h0.8M214.6 351.2h0.8M217.6 352.4h0.8M214.8 353.0h0.8M213.1 357.7h0.8M217.9 352.2h0.8M219.0 344.5h0.8M218.2 348.1h0.8M213.6 351.9h0.8M216.5 352.3h0.8M215.4 352.2h0.8M218.4 350.8h0.8M215.6 351.1h0.8M216.1 350.0h0.8M219.4 355.8h0.8M216.9 352.7h0.8M219.8 349.5h0.8M216.0 350.8h0.8M221.4 348.9h0.8M218.7 349.5h0.8M219.1 350.7h0.8M217.5 353.2h0.8M218.0 350.3h0.8M218.7 347.9h0.8M217.7 351.2h0.8M216.4 344.4h0.8M216.2 350.1h0.8M215.6 352.9h0.8M201.6 348.7h0.8M206.1 350.5h0.8M208.0 353.2h0.8M205.8 348.9h0.8M200.0 352.5h0.8M206.6 350.1h0.8M207.2 351.4h0.8M198.2 350.8h0.8M212.7 347.4h0.8M207.2 350.4h0.8M203.8 353.4h0.8M207.1 350.8h0.8M212.4 350.7h0.8M213.1 341.3h0.8M215.5 330.1h0.8M215.7 347.5h0.8M201.8 332.3h0.8M208.4 328.9h0.8" stroke="#3a52d8" stroke-width="0.8" stroke-opacity="0.28" fill="none"/>
<path d="M225.8 326.9h0.8M220.0 326.8h0.8M221.4 326.6h0.8M218.2 325.8h0.8M226.4 328.8h0.8M219.9 326.2h0.8M220.4 325.2h0.8M219.8 328.7h0.8M220.5 326.2h0.8M222.2 328.1h0.8M217.7 326.6h0.8M221.4 328.2h0.8M216.3 326.2h0.8M226.2 326.8h0.8M215.9 326.0h0.8M215.7 327.9h0.8M222.6 327.1h0.8M221.7 326.9h0.8M224.2 327.3h0.8M220.7 326.0h0.8M220.3 325.9h0.8M219.4 331.6h0.8M219.8 343.5h0.8M221.2 329.8h0.8M218.8 341.8h0.8M220.3 342.5h0.8M217.7 335.8h0.8M220.9 330.6h0.8M218.3 335.9h0.8M219.5 333.0h0.8M219.9 335.1h0.8M220.5 350.9h0.8M216.1 346.8h0.8M216.6 351.8h0.8M218.8 351.7h0.8M215.3 351.5h0.8M213.5 347.9h0.8M220.1 352.6h0.8M221.8 357.8h0.8M219.5 349.0h0.8M220.3 351.6h0.8M220.2 352.4h0.8M217.9 344.4h0.8M220.7 353.1h0.8M213.4 345.7h0.8M216.6 354.3h0.8M217.1 356.2h0.8M215.0 349.0h0.8M221.9 353.0h0.8M215.5 355.4h0.8M215.5 347.8h0.8M219.7 352.3h0.8M222.1 351.8h0.8M221.7 351.0h0.8M220.0 347.9h0.8M217.0 354.8h0.8M218.6 347.7h0.8M217.0 349.7h0.8M208.4 354.5h0.8M206.7 351.6h0.8M209.2 350.5h0.8M199.6 351.8h0.8M203.4 350.4h0.8M201.6 354.6h0.8M217.0 344.8h0.8M198.7 348.2h0.8M202.9 348.2h0.8M205.8 346.8h0.8M202.1 354.4h0.8M199.1 349.7h0.8M203.6 348.7h0.8M205.8 348.6h0.8M198.7 328.7h0.8M210.0 336.6h0.8M199.0 340.1h0.8M211.8 329.3h0.8M209.8 348.5h0.8" stroke="#3a52d8" stroke-width="0.8" stroke-opacity="0.28" fill="none"/>
<path d="M222.3 325.5h0.8M219.2 324.9h0.8M218.8 329.3h0.8M224.1 326.3h0.8M223.5 328.9h0.8M219.4 327.1h0.8M222.8 326.7h0.8M226.7 327.8h0.8M217.6 325.0h0.8M220.1 325.1h0.8M216.1 327.8h0.8M222.8 327.1h0.8M215.8 325.6h0.8M220.3 326.4h0.8M224.5 328.2h0.8M224.1 326.3h0.8M223.3 327.0h0.8M224.4 327.7h0.8M220.5 325.4h0.8M220.0 327.5h0.8M222.9 326.2h0.8M217.3 347.5h0.8M219.3 342.8h0.8M219.6 336.2h0.8M221.0 341.6h0.8M219.6 338.4h0.8M218.2 340.8h0.8M216.9 343.5h0.8M219.9 340.8h0.8M220.6 337.5h0.8M217.8 334.7h0.8M217.2 351.6h0.8M217.7 348.4h0.8M213.8 346.5h0.8M215.3 351.3h0.8M215.6 348.0h0.8M223.1 351.8h0.8M217.1 354.4h0.8M220.7 350.3h0.8M212.1 351.6h0.8M218.8 347.4h0.8M221.1 349.8h0.8M214.1 349.2h0.8M217.4 353.5h0.8M212.7 348.2h0.8M218.7 349.6h0.8M216.2 347.2h0.8M219.5 354.6h0.8M214.8 349.4h0.8M217.4 351.4h0.8M215.0 356.8h0.8M216.7 350.7h0.8M216.4 348.0h0.8M216.3 351.8h0.8M216.4 352.8h0.8M219.0 348.9h0.8M206.0 345.0h0.8M206.0 355.7h0.8M206.1 351.4h0.8M196.4 347.4h0.8M205.6 350.8h0.8M211.4 349.4h0.8M199.1 351.2h0.8M202.8 345.7h0.8M207.8 351.5h0.8M209.3 348.5h0.8M200.7 348.9h0.8M203.8 352.0h0.8M204.6 355.5h0.8M202.7 349.4h0.8M209.9 348.0h0.8M219.4 339.4h0.8M214.9 342.2h0.8M207.7 334.6h0.8M222.6 338.0h0.8M205.6 337.3h0.8" stroke="#3a52d8" stroke-width="0.8" stroke-opacity="0.28" fill="none"/>
<path d="M225.5 325.8h0.8M219.2 326.1h0.8M220.7 325.7h0.8M221.3 327.5h0.8M223.8 325.6h0.8M224.3 329.0h0.8M221.5 327.1h0.8M228.3 327.4h0.8M219.0 327.1h0.8M219.8 326.2h0.8M218.2 326.4h0.8M220.5 327.1h0.8M220.4 326.7h0.8M220.6 328.4h0.8M223.5 325.5h0.8M221.3 327.1h0.8M221.2 327.3h0.8M222.0 324.9h0.8M222.0 328.4h0.8M224.2 327.9h0.8M217.1 326.0h0.8M219.3 340.3h0.8M219.7 342.4h0.8M219.8 337.9h0.8M220.7 338.1h0.8M219.4 338.1h0.8M219.5 346.5h0.8M218.0 330.4h0.8M219.6 327.7h0.8M219.5 338.4h0.8M221.1 346.3h0.8M215.6 356.3h0.8M218.0 351.5h0.8M218.7 352.4h0.8M216.6 350.1h0.8M219.6 351.3h0.8M219.4 349.5h0.8M218.1 348.9h0.8M220.6 348.5h0.8M219.0 342.1h0.8M217.7 352.8h0.8M216.9 353.1h0.8M213.9 350.7h0.8M218.6 348.4h0.8M219.4 346.7h0.8M218.8 354.4h0.8M220.3 348.8h0.8M214.9 351.0h0.8M218.2 354.6h0.8M218.1 349.7h0.8M217.3 352.7h0.8M216.4 356.6h0.8M221.0 347.1h0.8M214.0 348.8h0.8M218.7 344.2h0.8M218.0 354.4h0.8M204.9 346.8h0.8M219.7 347.0h0.8M199.6 352.1h0.8M207.0 351.8h0.8M209.3 348.9h0.8M206.8 346.5h0.8M200.3 350.6h0.8M204.6 349.6h0.8M201.6 349.4h0.8M201.9 348.5h0.8M210.4 352.2h0.8M207.1 353.2h0.8M204.6 353.4h0.8M199.4 350.0h0.8M214.3 333.6h0.8M214.1 332.9h0.8M199.6 326.2h0.8M210.3 328.6h0.8M213.0 328.8h0.8M207.1 340.1h0.8" stroke="#3a52d8" stroke-width="0.8" stroke-opacity="0.28" fill="none"/>
<defs><radialGradient id="g4"><stop offset="0" stop-color="#e0301e" stop-opacity="1"/><stop offset="0.25" stop-color="#f08a1c" stop-opacity="1"/><stop offset="0.45" stop-color="#e6e02a" stop-opacity="0.95"/><stop offset="0.65" stop-color="#3cc06a" stop-opacity="0.85"/><stop offset="0.85" stop-color="#2f7fd0" stop-opacity="0.6"/><stop offset="1" stop-color="#3050d0" stop-opacity="0"/></radialGradient></defs>
<ellipse cx="220.8" cy="326.7" rx="5" ry="2" fill="url(#g4)" transform="rotate(0 220.8 326.7)"/>
<defs><radialGradient id="g5"><stop offset="0" stop-color="#30b890" stop-opacity="0.85"/><stop offset="0.45" stop-color="#3a8ad0" stop-opacity="0.7"/><stop offset="1" stop-color="#3a50d0" stop-opacity="0"/></radialGradient></defs>
<ellipse cx="217.2" cy="351.2" rx="3.2" ry="3.8" fill="url(#g5)" transform="rotate(0 217.2 351.2)"/>
<rect x="194.2" y="317.2" width="42.4" height="41.6" fill="none" stroke="#7a7a7a" stroke-width="0.8"/>
<line x1="212.9" y1="317.2" x2="212.9" y2="358.8" stroke="#333" stroke-width="0.8"/>
<line x1="194.2" y1="339.8" x2="236.6" y2="339.8" stroke="#333" stroke-width="0.8"/>
<text x="192.4" y="322.2" font-size="4.2" text-anchor="end" fill="#222">10³</text>
<line x1="193.2" y1="320.8" x2="194.2" y2="320.8" stroke="#666" stroke-width="0.5"/>
<text x="192.4" y="331.6" font-size="4.2" text-anchor="end" fill="#222">10²</text>
<line x1="193.2" y1="330.2" x2="194.2" y2="330.2" stroke="#666" stroke-width="0.5"/>
<text x="192.4" y="341.2" font-size="4.2" text-anchor="end" fill="#222">10¹</text>
<line x1="193.2" y1="339.8" x2="194.2" y2="339.8" stroke="#666" stroke-width="0.5"/>
<text x="192.4" y="355.8" font-size="4.2" text-anchor="end" fill="#222">0</text>
<line x1="193.2" y1="354.4" x2="194.2" y2="354.4" stroke="#666" stroke-width="0.5"/>
<text x="199.7" y="363.7" font-size="4.2" text-anchor="middle" fill="#222">0</text>
<text x="212.1" y="363.7" font-size="4.2" text-anchor="middle" fill="#222">10¹</text>
<text x="222.5" y="363.7" font-size="4.2" text-anchor="middle" fill="#222">10²</text>
<text x="232.2" y="363.7" font-size="4.2" text-anchor="middle" fill="#222">10³</text>
<text x="232.4" y="323.8" font-size="5.6" text-anchor="end" fill="#222">43.9</text>
<text x="195.2" y="358.3" font-size="5.6" fill="#222">17.7</text>
<text x="232.4" y="358.3" font-size="5.6" text-anchor="end" fill="#222">37.5</text>
<path d="M42.3 402.2h0.8M41.6 402.9h0.8M43.7 402.1h0.8M40.2 404.3h0.8M45.0 402.9h0.8M45.9 399.9h0.8M41.6 402.8h0.8M47.2 400.9h0.8M45.8 401.0h0.8M41.1 405.1h0.8M41.4 402.5h0.8M47.8 402.9h0.8M43.7 396.9h0.8M48.2 401.0h0.8M43.7 406.0h0.8M45.1 404.0h0.8M39.8 404.9h0.8M41.2 401.0h0.8M44.3 400.9h0.8M45.0 404.9h0.8M48.3 401.9h0.8M48.0 401.0h0.8M42.4 401.5h0.8M45.4 400.3h0.8M44.5 403.2h0.8M49.4 401.9h0.8M46.4 398.4h0.8M43.8 403.1h0.8M46.4 401.5h0.8M44.1 402.9h0.8M43.9 402.1h0.8M47.8 401.4h0.8M51.2 401.3h0.8M44.8 405.8h0.8M42.1 407.1h0.8M47.3 401.5h0.8M43.5 401.1h0.8M43.1 401.7h0.8M40.1 408.7h0.8M43.7 401.9h0.8M44.2 401.4h0.8M46.1 401.5h0.8M48.0 404.2h0.8M43.7 402.8h0.8M42.9 405.4h0.8M41.8 405.1h0.8M42.5 401.7h0.8M45.7 400.6h0.8M42.5 402.0h0.8M43.8 402.0h0.8M41.7 401.4h0.8M49.1 402.2h0.8M44.3 406.1h0.8M47.0 402.9h0.8M41.8 403.4h0.8M47.2 402.7h0.8M48.9 397.7h0.8M42.8 406.4h0.8M38.2 398.8h0.8M39.5 404.7h0.8M41.9 400.4h0.8M43.7 399.6h0.8M45.1 398.6h0.8M43.0 400.2h0.8M45.4 404.7h0.8M39.8 400.9h0.8M44.2 398.8h0.8M40.1 397.6h0.8M40.2 404.2h0.8M43.4 398.9h0.8M47.0 404.6h0.8M44.1 404.4h0.8M39.2 404.1h0.8M45.0 398.4h0.8M48.0 396.4h0.8M40.6 401.6h0.8M47.4 399.3h0.8M50.8 398.1h0.8M46.9 400.3h0.8M42.6 401.2h0.8M51.3 395.4h0.8M49.8 402.3h0.8M56.6 395.8h0.8M51.3 396.0h0.8M53.9 398.6h0.8M48.4 397.7h0.8M44.5 391.7h0.8M44.0 405.5h0.8M48.9 397.9h0.8M43.2 402.3h0.8M45.4 400.0h0.8M41.2 399.9h0.8M74.7 397.4h0.8M56.7 400.9h0.8M63.5 388.2h0.8M68.5 392.3h0.8M61.3 393.7h0.8M64.9 410.1h0.8M61.3 391.0h0.8M59.4 396.5h0.8M58.2 393.7h0.8M66.8 400.0h0.8M75.4 405.3h0.8M62.9 393.9h0.8M58.6 400.8h0.8M59.7 399.7h0.8M53.4 403.6h0.8M75.7 407.0h0.8M63.2 402.7h0.8M48.6 399.9h0.8M67.4 378.4h0.8M63.7 377.7h0.8M66.0 376.8h0.8M68.4 376.0h0.8M67.1 377.8h0.8M59.9 377.9h0.8M69.7 377.4h0.8M68.5 376.8h0.8M47.5 385.1h0.8M55.7 385.5h0.8M52.4 375.6h0.8M45.0 374.4h0.8M42.7 372.5h0.8" stroke="#3a52d8" stroke-width="0.8" stroke-opacity="0.28" fill="none"/>
<path d="M45.5 403.8h0.8M44.4 401.8h0.8M40.1 409.9h0.8M41.5 401.2h0.8M44.3 405.1h0.8M44.8 401.0h0.8M43.1 407.3h0.8M43.9 400.5h0.8M44.5 406.8h0.8M45.0 400.8h0.8M45.9 400.6h0.8M47.9 402.5h0.8M44.9 401.4h0.8M41.5 401.6h0.8M38.9 404.7h0.8M43.5 403.8h0.8M43.4 402.8h0.8M42.5 402.3h0.8M44.7 401.4h0.8M41.0 403.8h0.8M44.2 401.9h0.8M46.4 401.7h0.8M40.1 402.9h0.8M44.0 402.8h0.8M42.5 402.8h0.8M42.5 403.7h0.8M42.1 403.6h0.8M43.3 404.9h0.8M46.4 398.6h0.8M48.9 401.4h0.8M43.4 401.9h0.8M42.2 405.4h0.8M43.1 404.9h0.8M40.6 406.1h0.8M47.9 402.0h0.8M43.7 404.6h0.8M41.5 401.9h0.8M45.2 400.3h0.8M41.1 403.0h0.8M41.5 403.0h0.8M46.7 399.0h0.8M43.2 401.9h0.8M39.8 402.2h0.8M45.7 403.2h0.8M40.2 406.3h0.8M48.5 399.1h0.8M49.5 402.1h0.8M45.8 401.5h0.8M45.6 403.9h0.8M48.0 401.6h0.8M43.2 401.8h0.8M45.5 400.0h0.8M45.9 399.9h0.8M39.2 405.7h0.8M46.4 402.4h0.8M40.3 402.8h0.8M46.3 401.2h0.8M42.4 403.4h0.8M43.8 396.1h0.8M38.4 401.7h0.8M57.4 397.8h0.8M42.9 404.8h0.8M38.8 401.2h0.8M50.4 399.3h0.8M47.7 398.7h0.8M45.0 397.0h0.8M43.4 407.0h0.8M44.9 407.9h0.8M41.8 403.5h0.8M37.7 404.7h0.8M37.0 399.3h0.8M36.4 403.2h0.8M45.8 400.1h0.8M45.3 399.3h0.8M47.7 402.3h0.8M47.1 398.9h0.8M47.1 408.9h0.8M48.6 398.8h0.8M44.2 398.7h0.8M39.4 399.0h0.8M42.7 402.1h0.8M45.8 402.0h0.8M42.3 401.8h0.8M41.8 402.9h0.8M41.4 399.3h0.8M44.6 403.0h0.8M41.8 405.8h0.8M45.8 400.8h0.8M47.2 392.8h0.8M50.6 399.0h0.8M44.9 401.8h0.8M51.6 399.1h0.8M49.3 399.6h0.8M63.1 396.4h0.8M62.8 403.8h0.8M64.1 406.7h0.8M56.3 393.4h0.8M56.3 396.2h0.8M63.9 394.0h0.8M67.4 403.9h0.8M59.9 397.5h0.8M45.8 401.2h0.8M63.7 401.9h0.8M51.8 391.6h0.8M68.8 402.4h0.8M64.9 402.2h0.8M59.4 398.7h0.8M58.1 396.1h0.8M71.7 401.7h0.8M63.0 377.5h0.8M68.4 377.8h0.8M66.9 377.3h0.8M68.4 378.1h0.8M66.0 376.1h0.8M64.1 376.9h0.8M63.6 376.9h0.8M68.2 377.1h0.8M64.2 376.7h0.8M56.6 374.6h0.8M54.6 382.8h0.8M64.8 379.6h0.8M55.4 382.4h0.8M58.1 377.3h0.8" stroke="#3a52d8" stroke-width="0.8" stroke-opacity="0.28" fill="none"/>
<path d="M42.5 406.3h0.8M47.2 403.6h0.8M43.4 405.0h0.8M40.6 402.8h0.8M46.2 398.9h0.8M45.2 400.5h0.8M40.6 404.3h0.8M46.1 397.2h0.8M46.6 402.2h0.8M44.4 403.4h0.8M41.6 403.9h0.8M42.3 402.0h0.8M41.2 403.9h0.8M44.5 404.1h0.8M43.4 400.7h0.8M44.8 402.1h0.8M41.4 400.9h0.8M44.9 402.6h0.8M39.1 403.8h0.8M46.3 402.5h0.8M43.9 401.1h0.8M41.4 406.2h0.8M44.3 406.3h0.8M44.2 402.6h0.8M41.9 405.8h0.8M43.4 403.9h0.8M45.5 406.2h0.8M48.0 402.2h0.8M41.7 403.0h0.8M43.9 402.5h0.8M45.6 401.1h0.8M43.4 404.0h0.8M44.0 399.9h0.8M43.4 407.0h0.8M46.4 404.0h0.8M48.6 406.1h0.8M46.8 402.2h0.8M43.0 404.9h0.8M42.3 403.3h0.8M40.9 402.8h0.8M47.4 403.9h0.8M46.0 401.9h0.8M42.3 403.0h0.8M46.2 400.2h0.8M44.2 401.5h0.8M50.0 402.5h0.8M39.3 403.8h0.8M43.2 404.0h0.8M48.0 402.8h0.8M43.7 403.3h0.8M41.7 406.4h0.8M40.7 401.7h0.8M48.4 400.8h0.8M44.7 406.4h0.8M41.7 402.9h0.8M38.1 404.9h0.8M42.1 401.4h0.8M47.2 403.4h0.8M52.7 396.9h0.8M46.3 406.4h0.8M42.8 404.0h0.8M52.2 404.3h0.8M41.5 405.0h0.8M37.4 404.5h0.8M49.1 401.5h0.8M39.7 399.7h0.8M51.4 400.9h0.8M49.2 402.2h0.8M42.4 400.0h0.8M44.3 398.5h0.8M49.2 407.9h0.8M43.2 399.4h0.8M37.3 403.7h0.8M46.4 398.5h0.8M41.8 399.5h0.8M44.6 400.1h0.8M45.7 404.8h0.8M48.0 401.3h0.8M47.5 396.4h0.8M44.3 401.0h0.8M49.9 403.5h0.8M45.5 400.0h0.8M47.2 404.6h0.8M48.2 403.3h0.8M44.6 398.1h0.8M42.7 403.6h0.8M42.5 408.2h0.8M44.6 404.8h0.8M46.1 403.0h0.8M51.5 397.3h0.8M47.4 398.4h0.8M42.8 406.1h0.8M47.3 398.3h0.8M69.5 398.7h0.8M63.1 393.3h0.8M47.6 407.6h0.8M71.3 391.9h0.8M69.6 402.3h0.8M55.5 403.7h0.8M53.1 401.0h0.8M63.8 401.1h0.8M70.4 395.9h0.8M59.5 395.0h0.8M56.7 401.2h0.8M55.5 401.2h0.8M70.1 403.6h0.8M64.8 391.7h0.8M70.4 400.7h0.8M71.4 399.5h0.8M59.0 398.2h0.8M62.8 377.0h0.8M67.8 376.6h0.8M61.3 376.3h0.8M60.7 377.1h0.8M65.1 378.1h0.8M62.7 377.0h0.8M66.5 375.8h0.8M72.2 376.0h0.8M72.1 377.7h0.8M42.5 380.2h0.8M55.2 384.2h0.8M49.7 387.7h0.8M65.0 375.8h0.8M61.6 376.0h0.8" stroke="#3a52d8" stroke-width="0.8" stroke-opacity="0.28" fill="none"/>
<path d="M41.5 404.0h0.8M45.2 402.3h0.8M45.3 401.4h0.8M46.3 400.1h0.8M45.1 403.9h0.8M43.4 402.1h0.8M46.9 399.3h0.8M42.4 403.1h0.8M39.1 406.9h0.8M45.0 402.1h0.8M45.7 403.6h0.8M46.0 400.4h0.8M42.2 407.7h0.8M45.0 403.8h0.8M40.4 402.5h0.8M45.0 403.7h0.8M43.9 402.2h0.8M46.0 405.7h0.8M47.3 401.4h0.8M47.4 398.8h0.8M47.5 402.7h0.8M45.2 401.6h0.8M48.8 399.3h0.8M43.6 396.3h0.8M41.2 403.9h0.8M41.0 405.6h0.8M44.9 402.4h0.8M46.3 401.2h0.8M44.6 399.4h0.8M48.0 400.5h0.8M45.4 401.8h0.8M44.3 403.0h0.8M44.4 402.3h0.8M44.1 403.2h0.8M42.7 403.6h0.8M44.5 402.6h0.8M48.8 400.5h0.8M44.8 405.4h0.8M44.0 403.3h0.8M45.8 401.3h0.8M40.0 402.9h0.8M42.3 405.0h0.8M41.4 405.1h0.8M46.3 402.3h0.8M44.2 406.4h0.8M42.0 401.7h0.8M40.5 406.1h0.8M44.2 400.8h0.8M42.0 403.8h0.8M40.1 404.7h0.8M44.8 406.5h0.8M42.9 405.9h0.8M46.1 406.5h0.8M44.9 401.5h0.8M45.9 402.8h0.8M45.4 400.9h0.8M46.0 400.5h0.8M42.1 403.3h0.8M40.5 401.2h0.8M49.8 391.5h0.8M50.9 399.1h0.8M49.6 393.7h0.8M46.9 395.9h0.8M48.9 400.0h0.8M45.6 405.3h0.8M46.1 403.8h0.8M44.8 403.5h0.8M44.5 406.2h0.8M43.4 399.3h0.8M51.5 391.2h0.8M47.3 397.7h0.8M44.4 394.2h0.8M55.7 396.8h0.8M46.1 400.5h0.8M51.5 403.0h0.8M41.6 405.4h0.8M44.9 398.3h0.8M36.8 404.3h0.8M43.1 402.5h0.8M44.1 395.7h0.8M47.1 397.7h0.8M46.3 398.7h0.8M47.3 403.4h0.8M45.2 404.1h0.8M48.6 400.1h0.8M49.8 399.9h0.8M44.3 400.1h0.8M49.2 396.9h0.8M47.8 402.8h0.8M51.3 395.6h0.8M46.9 402.1h0.8M55.0 398.1h0.8M55.2 406.6h0.8M57.1 407.1h0.8M65.7 396.8h0.8M54.9 403.5h0.8M60.3 399.0h0.8M69.6 404.0h0.8M67.3 398.9h0.8M61.9 400.2h0.8M65.8 398.4h0.8M59.3 398.1h0.8M66.0 398.5h0.8M70.8 389.7h0.8M67.3 395.4h0.8M57.8 399.7h0.8M49.2 402.6h0.8M63.4 398.9h0.8M62.3 377.0h0.8M64.4 377.2h0.8M64.4 378.6h0.8M68.7 376.7h0.8M68.7 378.3h0.8M65.5 377.9h0.8M66.4 376.8h0.8M67.4 377.7h0.8M65.7 378.1h0.8M61.4 386.0h0.8M52.9 383.0h0.8M65.6 380.2h0.8M67.7 383.3h0.8M41.5 378.4h0.8" stroke="#3a52d8" stroke-width="0.8" stroke-opacity="0.28" fill="none"/>
<path d="M45.8 403.6h0.8M46.2 399.8h0.8M43.5 403.5h0.8M37.8 406.4h0.8M42.3 403.2h0.8M42.2 404.0h0.8M44.5 404.4h0.8M41.9 401.9h0.8M37.4 401.8h0.8M42.2 405.0h0.8M43.3 404.4h0.8M43.0 401.8h0.8M43.0 406.9h0.8M40.3 402.1h0.8M42.3 406.5h0.8M45.5 404.1h0.8M45.4 401.1h0.8M40.8 402.2h0.8M47.0 399.4h0.8M43.2 400.6h0.8M43.3 403.0h0.8M43.3 400.4h0.8M43.5 403.6h0.8M44.2 405.9h0.8M40.3 403.0h0.8M46.9 399.6h0.8M44.4 400.7h0.8M38.3 407.5h0.8M43.1 402.4h0.8M45.7 404.5h0.8M41.8 398.9h0.8M44.3 403.2h0.8M45.8 401.5h0.8M42.0 404.2h0.8M41.8 403.1h0.8M47.2 403.5h0.8M43.7 400.8h0.8M44.1 401.8h0.8M45.6 402.9h0.8M47.0 400.4h0.8M42.3 404.7h0.8M46.5 402.5h0.8M44.3 402.9h0.8M44.9 402.2h0.8M42.4 402.8h0.8M41.2 403.3h0.8M44.2 402.5h0.8M41.9 404.3h0.8M42.9 407.8h0.8M44.2 403.3h0.8M41.5 406.6h0.8M43.2 400.9h0.8M43.6 402.2h0.8M46.3 400.6h0.8M42.0 402.5h0.8M42.8 405.2h0.8M41.2 398.9h0.8M47.6 397.8h0.8M44.6 399.2h0.8M40.7 400.2h0.8M42.9 405.2h0.8M43.4 407.0h0.8M47.6 399.5h0.8M37.4 404.8h0.8M49.8 397.3h0.8M41.0 408.0h0.8M46.4 404.6h0.8M52.1 399.2h0.8M47.2 402.8h0.8M49.0 398.2h0.8M40.5 404.1h0.8M44.8 393.5h0.8M43.2 400.7h0.8M43.4 397.6h0.8M47.0 399.4h0.8M42.0 402.9h0.8M39.6 404.8h0.8M46.4 399.4h0.8M48.0 403.0h0.8M46.0 396.5h0.8M47.7 401.4h0.8M45.2 402.9h0.8M42.7 403.9h0.8M38.1 407.6h0.8M40.6 405.3h0.8M40.5 402.8h0.8M45.1 393.8h0.8M46.4 395.0h0.8M48.6 395.9h0.8M48.0 397.9h0.8M45.1 408.0h0.8M45.3 399.9h0.8M68.7 396.1h0.8M70.2 399.5h0.8M51.9 405.9h0.8M64.4 397.0h0.8M68.1 401.2h0.8M68.2 401.2h0.8M63.6 407.8h0.8M64.3 396.3h0.8M51.4 401.2h0.8M61.3 408.2h0.8M59.9 401.0h0.8M42.3 401.5h0.8M53.9 398.3h0.8M57.9 390.0h0.8M64.8 377.8h0.8M66.2 377.3h0.8M63.8 377.0h0.8M65.2 378.0h0.8M65.7 377.4h0.8M62.8 379.9h0.8M64.1 377.8h0.8M66.6 376.4h0.8M71.7 378.2h0.8M64.4 388.1h0.8M58.9 391.3h0.8M65.7 377.2h0.8M68.1 377.9h0.8" stroke="#3a52d8" stroke-width="0.8" stroke-opacity="0.28" fill="none"/>
<path d="M46.4 400.6h0.8M44.2 401.8h0.8M44.8 400.2h0.8M47.2 401.2h0.8M47.2 402.3h0.8M45.6 405.0h0.8M43.9 402.1h0.8M44.2 401.9h0.8M40.6 405.6h0.8M40.5 403.2h0.8M40.9 401.9h0.8M42.4 402.7h0.8M45.1 403.1h0.8M40.1 400.6h0.8M49.1 401.5h0.8M49.0 402.1h0.8M40.0 402.7h0.8M41.3 405.0h0.8M46.5 401.5h0.8M40.8 403.6h0.8M46.4 400.8h0.8M45.2 400.8h0.8M46.3 399.1h0.8M39.9 399.6h0.8M41.7 405.9h0.8M42.3 400.4h0.8M39.8 405.2h0.8M43.3 402.7h0.8M43.4 400.1h0.8M45.7 404.6h0.8M45.3 400.0h0.8M43.1 404.8h0.8M44.1 400.7h0.8M43.6 403.9h0.8M46.1 403.3h0.8M44.1 404.2h0.8M46.9 404.9h0.8M41.5 407.3h0.8M41.2 402.0h0.8M45.2 402.9h0.8M44.1 404.1h0.8M43.0 403.7h0.8M41.2 401.4h0.8M43.5 403.8h0.8M42.6 404.0h0.8M46.0 404.5h0.8M38.1 405.8h0.8M42.7 404.3h0.8M44.6 402.1h0.8M43.6 399.8h0.8M42.7 399.6h0.8M46.3 402.9h0.8M43.5 402.3h0.8M43.2 403.4h0.8M45.6 404.8h0.8M41.7 404.8h0.8M55.4 399.8h0.8M46.6 404.0h0.8M52.2 398.7h0.8M43.0 400.7h0.8M56.4 398.4h0.8M41.1 402.0h0.8M45.2 405.7h0.8M46.8 399.1h0.8M40.7 397.9h0.8M42.9 405.6h0.8M46.3 403.1h0.8M41.7 397.9h0.8M51.1 402.8h0.8M47.6 399.1h0.8M52.1 393.6h0.8M37.1 403.8h0.8M49.8 407.6h0.8M47.0 396.5h0.8M42.2 403.7h0.8M42.3 399.6h0.8M49.2 402.2h0.8M45.7 404.7h0.8M56.8 398.0h0.8M51.2 400.4h0.8M44.7 405.0h0.8M40.5 404.8h0.8M42.6 404.1h0.8M48.7 399.6h0.8M43.2 396.8h0.8M48.5 392.9h0.8M48.9 402.5h0.8M50.9 397.9h0.8M50.1 406.3h0.8M43.3 403.2h0.8M40.9 403.5h0.8M65.6 401.3h0.8M70.4 401.2h0.8M61.6 399.5h0.8M64.2 403.1h0.8M74.8 403.2h0.8M60.7 392.1h0.8M52.5 396.9h0.8M69.7 401.2h0.8M70.5 397.5h0.8M60.8 399.7h0.8M59.0 398.2h0.8M66.4 400.2h0.8M51.7 399.3h0.8M57.0 399.6h0.8M59.5 393.2h0.8M55.6 392.6h0.8M67.9 399.8h0.8M69.3 377.1h0.8M66.7 377.3h0.8M63.2 376.9h0.8M65.3 376.3h0.8M66.5 377.8h0.8M65.6 378.3h0.8M74.7 377.6h0.8M63.1 377.1h0.8M62.3 377.2h0.8M52.2 378.6h0.8M58.7 391.1h0.8M58.8 382.7h0.8M59.0 390.4h0.8M56.1 384.5h0.8" stroke="#3a52d8" stroke-width="0.8" stroke-opacity="0.28" fill="none"/>
<path d="M47.6 398.9h0.8M45.3 402.0h0.8M43.0 404.3h0.8M45.3 405.7h0.8M44.9 408.6h0.8M43.3 403.7h0.8M39.6 404.7h0.8M45.3 397.6h0.8M49.0 400.6h0.8M45.7 400.0h0.8M42.6 402.4h0.8M43.8 402.9h0.8M43.5 405.5h0.8M43.5 406.7h0.8M46.3 402.7h0.8M45.6 404.2h0.8M45.1 406.5h0.8M42.1 401.2h0.8M44.1 400.9h0.8M46.5 398.4h0.8M42.5 404.0h0.8M40.5 401.2h0.8M47.2 400.3h0.8M44.4 404.6h0.8M47.1 401.9h0.8M45.6 402.8h0.8M50.3 400.8h0.8M42.6 403.9h0.8M39.2 405.4h0.8M42.5 401.6h0.8M43.9 404.1h0.8M42.2 403.2h0.8M43.7 397.7h0.8M43.2 401.8h0.8M44.7 403.0h0.8M46.3 401.5h0.8M44.9 401.5h0.8M48.6 399.6h0.8M41.1 400.6h0.8M41.2 403.8h0.8M41.5 403.6h0.8M40.3 403.8h0.8M44.1 402.4h0.8M42.0 402.8h0.8M42.9 402.0h0.8M47.1 401.9h0.8M41.4 400.7h0.8M42.2 404.5h0.8M41.5 408.3h0.8M42.1 404.3h0.8M43.5 402.4h0.8M40.9 405.5h0.8M48.2 401.2h0.8M43.6 399.4h0.8M40.4 403.8h0.8M44.5 405.7h0.8M44.2 403.4h0.8M43.4 398.4h0.8M48.0 391.0h0.8M41.4 406.3h0.8M42.9 399.5h0.8M43.2 407.8h0.8M38.9 397.3h0.8M39.4 399.8h0.8M44.6 400.0h0.8M42.4 407.2h0.8M52.6 399.8h0.8M47.4 404.0h0.8M46.4 405.5h0.8M50.0 397.6h0.8M49.5 398.7h0.8M47.1 404.7h0.8M43.9 405.3h0.8M43.2 400.1h0.8M43.4 397.3h0.8M46.6 400.2h0.8M35.5 407.4h0.8M43.0 402.4h0.8M48.4 394.3h0.8M50.5 395.9h0.8M46.2 408.8h0.8M37.6 397.5h0.8M41.5 400.4h0.8M44.9 401.9h0.8M45.7 406.1h0.8M40.0 401.5h0.8M43.0 400.5h0.8M46.5 408.2h0.8M45.7 397.5h0.8M51.8 398.0h0.8M45.6 404.8h0.8M45.4 401.1h0.8M57.9 409.9h0.8M62.7 392.3h0.8M60.7 396.5h0.8M67.1 391.6h0.8M67.0 404.9h0.8M50.4 398.4h0.8M61.3 402.7h0.8M65.3 398.7h0.8M46.3 401.3h0.8M64.5 402.9h0.8M58.9 402.9h0.8M52.6 399.8h0.8M67.4 405.0h0.8M54.1 398.2h0.8M62.8 398.6h0.8M60.3 409.0h0.8M63.3 406.3h0.8M63.8 378.8h0.8M64.9 376.0h0.8M66.8 375.6h0.8M64.2 376.2h0.8M64.9 378.2h0.8M68.5 375.3h0.8M67.3 377.2h0.8M66.2 376.3h0.8M64.9 377.0h0.8M53.5 375.7h0.8M58.0 377.2h0.8M39.5 391.0h0.8M57.1 374.2h0.8M48.6 389.6h0.8" stroke="#3a52d8" stroke-width="0.8" stroke-opacity="0.28" fill="none"/>
<path d="M44.0 399.8h0.8M40.2 405.6h0.8M48.7 399.1h0.8M44.8 398.2h0.8M46.2 404.9h0.8M43.9 403.0h0.8M42.5 406.2h0.8M43.0 403.9h0.8M42.9 406.6h0.8M45.4 398.8h0.8M42.5 406.0h0.8M48.4 399.9h0.8M43.0 403.0h0.8M48.1 399.2h0.8M46.8 399.9h0.8M44.7 404.3h0.8M44.4 399.5h0.8M47.3 403.3h0.8M45.2 400.3h0.8M45.4 401.7h0.8M46.8 402.3h0.8M44.7 403.4h0.8M41.9 402.7h0.8M44.0 405.7h0.8M45.1 402.1h0.8M44.4 403.8h0.8M45.5 404.1h0.8M41.9 402.2h0.8M48.4 399.2h0.8M41.7 401.9h0.8M42.3 402.8h0.8M49.4 398.5h0.8M43.1 401.7h0.8M41.7 403.7h0.8M46.7 401.7h0.8M45.8 403.4h0.8M43.0 405.3h0.8M42.9 403.8h0.8M42.7 406.4h0.8M42.9 404.2h0.8M44.6 402.7h0.8M43.4 401.9h0.8M41.4 402.3h0.8M44.2 402.4h0.8M48.6 397.8h0.8M48.2 402.5h0.8M40.3 407.9h0.8M47.0 403.6h0.8M45.6 401.1h0.8M40.1 404.3h0.8M44.9 401.4h0.8M44.3 400.4h0.8M42.7 402.7h0.8M45.6 399.2h0.8M42.4 405.2h0.8M37.8 408.3h0.8M46.0 401.1h0.8M51.3 407.9h0.8M38.4 405.5h0.8M52.2 400.2h0.8M45.2 396.8h0.8M53.3 392.9h0.8M57.4 392.1h0.8M43.1 405.3h0.8M42.6 393.1h0.8M43.5 404.9h0.8M43.2 396.8h0.8M45.6 403.2h0.8M44.1 393.6h0.8M45.7 394.5h0.8M38.7 402.7h0.8M47.2 398.7h0.8M36.4 400.1h0.8M37.1 401.9h0.8M43.4 400.8h0.8M36.6 409.7h0.8M47.5 405.1h0.8M51.1 399.4h0.8M38.1 402.9h0.8M49.2 401.1h0.8M47.2 398.8h0.8M49.1 398.3h0.8M47.1 404.0h0.8M54.5 396.8h0.8M47.6 397.4h0.8M50.0 399.4h0.8M42.9 394.6h0.8M58.8 400.0h0.8M48.6 399.9h0.8M55.6 396.4h0.8M43.7 399.3h0.8M59.5 405.0h0.8M58.8 399.0h0.8M68.5 397.2h0.8M68.3 395.7h0.8M56.6 398.7h0.8M64.9 402.6h0.8M53.3 400.8h0.8M67.7 401.5h0.8M61.8 399.1h0.8M61.4 388.2h0.8M57.7 395.3h0.8M61.9 394.7h0.8M45.9 392.2h0.8M59.5 409.7h0.8M52.7 403.4h0.8M73.5 399.8h0.8M62.8 393.6h0.8M66.8 377.8h0.8M68.0 377.7h0.8M58.9 377.8h0.8M67.3 375.9h0.8M66.7 378.2h0.8M65.3 378.5h0.8M64.1 377.5h0.8M63.3 377.7h0.8M46.5 380.7h0.8M52.7 379.1h0.8M42.2 378.9h0.8M61.3 383.8h0.8M53.5 386.3h0.8M57.6 385.7h0.8" stroke="#3a52d8" stroke-width="0.8" stroke-opacity="0.28" fill="none"/>
<defs><radialGradient id="g6"><stop offset="0" stop-color="#e0301e" stop-opacity="1"/><stop offset="0.25" stop-color="#f08a1c" stop-opacity="1"/><stop offset="0.45" stop-color="#e6e02a" stop-opacity="0.95"/><stop offset="0.65" stop-color="#3cc06a" stop-opacity="0.85"/><stop offset="0.85" stop-color="#2f7fd0" stop-opacity="0.6"/><stop offset="1" stop-color="#3050d0" stop-opacity="0"/></radialGradient></defs>
<ellipse cx="43.8" cy="403" rx="5.2" ry="4.6" fill="url(#g6)" transform="rotate(-35 43.8 403)"/>
<rect x="34.5" y="369.3" width="42.4" height="41.6" fill="none" stroke="#7a7a7a" stroke-width="0.8"/>
<line x1="53.2" y1="369.3" x2="53.2" y2="410.9" stroke="#333" stroke-width="0.8"/>
<line x1="34.5" y1="391.9" x2="76.9" y2="391.9" stroke="#333" stroke-width="0.8"/>
<text x="32.7" y="374.3" font-size="4.2" text-anchor="end" fill="#222">10³</text>
<line x1="33.5" y1="372.9" x2="34.5" y2="372.9" stroke="#666" stroke-width="0.5"/>
<text x="32.7" y="383.7" font-size="4.2" text-anchor="end" fill="#222">10²</text>
<line x1="33.5" y1="382.3" x2="34.5" y2="382.3" stroke="#666" stroke-width="0.5"/>
<text x="32.7" y="393.3" font-size="4.2" text-anchor="end" fill="#222">10¹</text>
<line x1="33.5" y1="391.9" x2="34.5" y2="391.9" stroke="#666" stroke-width="0.5"/>
<text x="32.7" y="407.9" font-size="4.2" text-anchor="end" fill="#222">0</text>
<line x1="33.5" y1="406.5" x2="34.5" y2="406.5" stroke="#666" stroke-width="0.5"/>
<text x="40" y="415.8" font-size="4.2" text-anchor="middle" fill="#222">0</text>
<text x="52.4" y="415.8" font-size="4.2" text-anchor="middle" fill="#222">10¹</text>
<text x="62.8" y="415.8" font-size="4.2" text-anchor="middle" fill="#222">10²</text>
<text x="72.5" y="415.8" font-size="4.2" text-anchor="middle" fill="#222">10³</text>
<text x="72.7" y="375.9" font-size="5.6" text-anchor="end" fill="#222">5.70</text>
<text x="35.5" y="410.4" font-size="5.6" fill="#222">87.8</text>
<text x="72.7" y="410.4" font-size="5.6" text-anchor="end" fill="#222">6.32</text>
<path d="M98.9 404.2h0.8M98.5 407.0h0.8M97.3 403.9h0.8M94.8 403.8h0.8M102.9 404.3h0.8M101.4 403.3h0.8M97.4 403.8h0.8M98.9 403.9h0.8M96.2 401.2h0.8M96.0 405.2h0.8M97.9 402.4h0.8M106.9 402.2h0.8M95.0 402.8h0.8M98.0 406.1h0.8M93.8 402.4h0.8M96.5 403.9h0.8M98.1 407.0h0.8M93.2 401.6h0.8M96.5 403.0h0.8M91.1 404.9h0.8M100.4 402.8h0.8M99.3 406.1h0.8M98.4 404.6h0.8M95.5 400.9h0.8M100.9 407.4h0.8M94.4 405.0h0.8M93.9 405.6h0.8M97.1 407.3h0.8M101.4 405.2h0.8M94.4 400.2h0.8M90.1 403.7h0.8M90.1 404.8h0.8M93.8 406.2h0.8M97.2 405.6h0.8M92.9 404.5h0.8M98.6 403.7h0.8M97.8 406.5h0.8M99.6 404.8h0.8M97.0 405.7h0.8M90.5 404.6h0.8M96.9 403.5h0.8M95.7 406.3h0.8M103.3 404.3h0.8M96.3 405.4h0.8M91.6 400.8h0.8M95.4 401.4h0.8M92.8 408.2h0.8M94.3 404.1h0.8M96.2 406.0h0.8M102.1 400.0h0.8M95.2 403.1h0.8M103.3 401.3h0.8M92.6 403.2h0.8M100.1 408.7h0.8M93.9 403.7h0.8M97.0 409.1h0.8M100.5 395.9h0.8M94.9 402.8h0.8M105.4 406.0h0.8M103.2 403.8h0.8M102.3 401.8h0.8M97.1 401.7h0.8M93.3 399.9h0.8M96.9 405.4h0.8M96.7 404.0h0.8M98.2 399.4h0.8M102.7 403.9h0.8M92.8 401.6h0.8M103.2 400.8h0.8M103.5 402.7h0.8M95.5 403.8h0.8M102.3 404.7h0.8M101.1 401.1h0.8M99.5 401.0h0.8M90.9 404.0h0.8M103.4 402.7h0.8M96.3 400.8h0.8M96.3 402.3h0.8M97.4 398.8h0.8M92.1 400.8h0.8M89.6 396.2h0.8M112.5 377.4h0.8M119.1 378.5h0.8M118.2 379.9h0.8M119.5 377.5h0.8M116.2 378.7h0.8M120.6 379.1h0.8M122.8 378.7h0.8M121.7 380.4h0.8M118.9 378.9h0.8M118.8 380.4h0.8M114.9 381.4h0.8M125.0 380.5h0.8M120.7 402.4h0.8M119.7 401.2h0.8M121.7 384.5h0.8M121.3 394.0h0.8M121.1 383.9h0.8M121.3 391.9h0.8M118.6 386.8h0.8M121.9 389.7h0.8M100.5 400.5h0.8M124.2 401.8h0.8M111.5 402.9h0.8M116.5 397.1h0.8M104.9 404.2h0.8M108.7 403.0h0.8M120.0 401.2h0.8M116.1 405.4h0.8M119.0 401.1h0.8M116.4 403.9h0.8M116.4 403.9h0.8M112.2 399.9h0.8M113.1 402.7h0.8M115.1 403.1h0.8M120.0 403.2h0.8M115.6 403.5h0.8M115.2 403.3h0.8M109.5 400.4h0.8M103.8 386.0h0.8M107.4 388.4h0.8M121.1 384.8h0.8M97.4 388.5h0.8M99.2 387.7h0.8" stroke="#3a52d8" stroke-width="0.8" stroke-opacity="0.28" fill="none"/>
<path d="M95.8 405.7h0.8M95.6 404.0h0.8M91.8 402.6h0.8M94.8 402.3h0.8M92.4 401.5h0.8M99.6 401.0h0.8M94.7 407.1h0.8M97.7 403.3h0.8M96.1 403.7h0.8M93.9 403.1h0.8M93.4 406.0h0.8M97.2 405.4h0.8M93.2 406.1h0.8M99.6 404.1h0.8M91.9 404.8h0.8M95.2 406.8h0.8M95.1 399.9h0.8M93.2 406.4h0.8M93.6 407.0h0.8M95.5 406.1h0.8M98.3 406.4h0.8M92.8 405.2h0.8M94.8 403.6h0.8M103.3 399.5h0.8M96.2 401.2h0.8M94.7 402.8h0.8M97.1 403.3h0.8M94.8 403.6h0.8M94.7 405.4h0.8M99.7 402.9h0.8M100.2 402.9h0.8M92.4 405.9h0.8M89.5 408.1h0.8M103.3 406.0h0.8M98.6 404.3h0.8M97.4 405.5h0.8M103.3 402.3h0.8M90.0 403.6h0.8M101.7 404.3h0.8M99.8 404.5h0.8M92.8 407.6h0.8M101.2 406.4h0.8M97.9 401.6h0.8M99.9 403.9h0.8M98.9 407.3h0.8M97.9 401.7h0.8M100.9 407.1h0.8M97.1 406.7h0.8M100.7 406.3h0.8M94.7 403.6h0.8M96.9 405.4h0.8M92.5 405.1h0.8M99.5 403.7h0.8M94.8 406.8h0.8M92.4 404.8h0.8M99.2 401.6h0.8M96.2 407.0h0.8M102.5 406.2h0.8M92.9 399.6h0.8M93.8 405.3h0.8M99.0 406.1h0.8M97.9 404.4h0.8M106.0 403.2h0.8M100.9 404.7h0.8M93.7 399.2h0.8M100.6 406.8h0.8M109.4 401.5h0.8M94.9 407.0h0.8M104.8 402.3h0.8M99.5 396.5h0.8M102.2 407.4h0.8M97.6 397.8h0.8M97.1 403.6h0.8M99.4 402.8h0.8M99.9 398.9h0.8M100.9 404.4h0.8M93.7 401.6h0.8M97.1 406.1h0.8M97.7 405.7h0.8M93.3 404.0h0.8M102.7 401.4h0.8M99.4 403.6h0.8M93.3 399.3h0.8M99.2 404.1h0.8M117.8 378.9h0.8M119.1 379.7h0.8M118.7 380.5h0.8M120.5 378.4h0.8M118.5 378.2h0.8M118.2 378.5h0.8M117.2 378.9h0.8M113.5 379.0h0.8M119.7 377.9h0.8M119.9 378.7h0.8M117.7 379.2h0.8M119.9 378.5h0.8M120.1 391.2h0.8M120.0 395.1h0.8M119.7 390.8h0.8M120.7 402.1h0.8M122.1 386.9h0.8M119.1 396.8h0.8M120.6 394.4h0.8M120.3 397.7h0.8M121.8 392.5h0.8M121.8 397.4h0.8M115.6 403.0h0.8M116.3 402.5h0.8M122.6 404.2h0.8M113.8 401.6h0.8M105.8 401.5h0.8M118.1 404.1h0.8M108.2 399.6h0.8M121.2 403.4h0.8M111.0 405.0h0.8M116.8 402.0h0.8M119.3 398.9h0.8M117.0 401.6h0.8M116.6 407.9h0.8M117.1 405.1h0.8M112.5 400.0h0.8M112.0 407.4h0.8M108.5 405.4h0.8M103.5 388.8h0.8M104.0 383.9h0.8M113.2 388.4h0.8M109.1 384.6h0.8M101.7 385.7h0.8" stroke="#3a52d8" stroke-width="0.8" stroke-opacity="0.28" fill="none"/>
<path d="M101.8 403.7h0.8M98.3 403.5h0.8M95.2 402.2h0.8M94.2 402.4h0.8M96.2 400.9h0.8M96.1 401.8h0.8M95.7 401.5h0.8M94.2 404.0h0.8M97.2 405.0h0.8M99.8 407.6h0.8M90.8 404.4h0.8M97.3 404.6h0.8M100.6 400.1h0.8M101.2 403.7h0.8M96.0 403.7h0.8M99.4 402.8h0.8M96.2 404.2h0.8M94.7 403.0h0.8M96.3 403.6h0.8M94.8 401.8h0.8M103.6 405.0h0.8M97.1 405.5h0.8M93.2 402.8h0.8M91.3 405.7h0.8M95.0 407.5h0.8M98.8 404.9h0.8M97.7 404.9h0.8M89.2 403.5h0.8M98.0 403.9h0.8M95.5 406.4h0.8M94.3 405.1h0.8M97.1 403.5h0.8M102.4 402.9h0.8M97.8 403.5h0.8M101.2 403.8h0.8M100.4 403.1h0.8M99.1 401.7h0.8M94.4 402.9h0.8M98.9 408.1h0.8M98.1 405.3h0.8M101.3 401.9h0.8M91.8 405.4h0.8M93.8 408.6h0.8M96.0 402.6h0.8M97.4 403.8h0.8M91.7 401.2h0.8M92.6 406.7h0.8M94.8 408.0h0.8M98.7 402.6h0.8M93.3 407.2h0.8M101.4 405.1h0.8M93.2 403.1h0.8M99.4 401.0h0.8M94.8 406.1h0.8M97.1 404.4h0.8M94.3 406.9h0.8M92.1 405.1h0.8M104.1 405.4h0.8M94.1 401.9h0.8M97.6 403.7h0.8M102.6 397.5h0.8M95.5 397.1h0.8M96.2 401.8h0.8M89.0 406.0h0.8M107.6 403.5h0.8M101.9 395.7h0.8M101.0 404.4h0.8M96.7 403.0h0.8M99.5 405.1h0.8M108.7 402.8h0.8M96.7 404.1h0.8M105.1 401.0h0.8M94.4 401.3h0.8M104.1 404.4h0.8M102.5 404.3h0.8M96.2 401.0h0.8M103.4 404.2h0.8M100.0 401.4h0.8M112.9 398.1h0.8M95.6 405.7h0.8M106.2 401.2h0.8M120.7 380.6h0.8M117.4 379.0h0.8M121.1 379.9h0.8M123.8 380.8h0.8M117.1 379.2h0.8M120.0 378.4h0.8M121.2 381.1h0.8M116.8 379.9h0.8M127.0 380.5h0.8M114.5 379.2h0.8M119.5 380.3h0.8M116.2 379.2h0.8M118.8 385.9h0.8M121.9 395.1h0.8M120.8 393.7h0.8M119.2 396.0h0.8M120.5 398.8h0.8M119.5 405.1h0.8M120.4 384.9h0.8M123.3 392.7h0.8M121.7 391.5h0.8M113.2 396.7h0.8M125.3 400.7h0.8M118.4 401.6h0.8M110.5 406.7h0.8M122.2 402.5h0.8M117.9 405.9h0.8M124.9 400.5h0.8M127.8 401.9h0.8M107.6 404.1h0.8M120.6 402.6h0.8M109.6 400.5h0.8M112.8 404.4h0.8M121.3 404.9h0.8M110.5 403.5h0.8M109.0 402.6h0.8M112.3 404.8h0.8M119.2 403.7h0.8M115.4 398.7h0.8M106.1 382.9h0.8M118.2 383.2h0.8M105.5 375.7h0.8M109.9 378.7h0.8M110.3 387.2h0.8" stroke="#3a52d8" stroke-width="0.8" stroke-opacity="0.28" fill="none"/>
<path d="M95.6 405.1h0.8M99.3 405.1h0.8M92.1 403.2h0.8M98.2 405.0h0.8M99.5 406.5h0.8M101.5 408.9h0.8M92.0 404.4h0.8M94.3 404.9h0.8M98.2 401.0h0.8M95.0 405.0h0.8M98.0 402.7h0.8M96.1 404.0h0.8M97.5 406.0h0.8M97.8 404.4h0.8M97.2 400.3h0.8M100.1 404.0h0.8M93.5 404.1h0.8M100.4 404.7h0.8M98.3 404.3h0.8M98.7 406.2h0.8M100.0 402.1h0.8M98.9 402.8h0.8M97.3 405.6h0.8M95.9 402.5h0.8M98.5 405.9h0.8M94.5 405.5h0.8M96.7 403.4h0.8M97.6 405.7h0.8M97.9 402.9h0.8M91.9 405.1h0.8M100.0 405.1h0.8M93.4 408.1h0.8M99.2 405.4h0.8M100.4 406.3h0.8M99.6 403.4h0.8M90.0 404.1h0.8M100.4 402.5h0.8M92.8 404.7h0.8M92.0 404.7h0.8M100.8 403.1h0.8M99.1 406.6h0.8M93.6 405.7h0.8M97.8 402.5h0.8M101.9 404.8h0.8M100.7 405.5h0.8M101.9 409.3h0.8M97.5 406.7h0.8M104.4 405.2h0.8M95.8 408.1h0.8M99.6 404.7h0.8M95.0 405.3h0.8M98.2 405.5h0.8M97.2 408.7h0.8M96.6 403.4h0.8M100.6 404.6h0.8M97.8 404.0h0.8M91.8 404.2h0.8M97.2 404.3h0.8M103.1 403.3h0.8M95.9 401.1h0.8M96.4 404.2h0.8M103.1 402.0h0.8M104.2 401.5h0.8M94.1 403.6h0.8M104.9 402.9h0.8M103.2 397.3h0.8M108.7 403.0h0.8M94.4 404.9h0.8M99.7 401.7h0.8M105.9 397.0h0.8M105.1 404.2h0.8M96.4 403.4h0.8M100.2 395.6h0.8M97.1 408.6h0.8M96.9 404.5h0.8M92.9 407.2h0.8M100.7 406.4h0.8M103.6 404.2h0.8M93.4 400.0h0.8M97.0 402.4h0.8M106.1 400.5h0.8M110.7 406.5h0.8M100.1 403.1h0.8M118.6 381.0h0.8M114.6 379.8h0.8M124.7 378.7h0.8M118.7 377.8h0.8M116.9 379.1h0.8M124.9 379.3h0.8M115.4 379.8h0.8M123.6 377.5h0.8M121.3 378.1h0.8M122.3 378.1h0.8M123.4 379.4h0.8M119.8 379.1h0.8M120.4 393.0h0.8M120.6 392.2h0.8M119.5 392.1h0.8M120.1 379.5h0.8M124.6 389.4h0.8M120.2 399.8h0.8M120.2 397.1h0.8M121.3 402.5h0.8M120.4 392.8h0.8M120.5 403.5h0.8M121.0 403.4h0.8M121.1 400.2h0.8M117.2 407.0h0.8M111.5 399.5h0.8M108.4 405.0h0.8M108.3 396.1h0.8M109.5 401.6h0.8M109.7 403.2h0.8M113.7 401.3h0.8M115.5 403.6h0.8M114.3 403.9h0.8M120.0 402.6h0.8M118.4 402.7h0.8M105.9 396.4h0.8M112.8 406.8h0.8M106.6 403.5h0.8M107.9 379.7h0.8M108.1 377.5h0.8M104.1 385.8h0.8M120.8 382.9h0.8M115.1 395.1h0.8M102.4 400.0h0.8" stroke="#3a52d8" stroke-width="0.8" stroke-opacity="0.28" fill="none"/>
<path d="M101.9 402.6h0.8M101.8 406.8h0.8M101.1 405.7h0.8M97.7 403.9h0.8M98.5 401.6h0.8M99.8 407.3h0.8M96.9 403.7h0.8M92.9 399.0h0.8M97.6 402.7h0.8M91.0 405.5h0.8M93.3 401.4h0.8M92.3 405.6h0.8M97.2 403.8h0.8M97.5 404.5h0.8M94.2 405.1h0.8M100.0 402.8h0.8M101.2 401.4h0.8M97.4 405.7h0.8M95.7 404.5h0.8M100.8 406.0h0.8M97.9 406.5h0.8M97.1 406.0h0.8M101.9 405.3h0.8M98.8 405.0h0.8M98.7 404.5h0.8M99.7 401.3h0.8M95.9 404.8h0.8M96.6 403.6h0.8M97.2 403.4h0.8M102.8 404.1h0.8M92.8 404.7h0.8M92.8 407.6h0.8M91.7 401.2h0.8M102.6 404.4h0.8M90.5 401.9h0.8M99.4 403.5h0.8M95.9 407.6h0.8M101.6 399.7h0.8M94.1 404.0h0.8M99.5 404.9h0.8M95.9 407.9h0.8M96.2 402.4h0.8M96.0 405.1h0.8M96.3 407.4h0.8M93.1 402.6h0.8M100.6 404.9h0.8M93.0 402.8h0.8M100.8 402.7h0.8M99.7 406.3h0.8M97.0 406.4h0.8M99.1 407.8h0.8M97.9 407.5h0.8M96.3 406.0h0.8M95.7 405.0h0.8M98.8 403.5h0.8M100.2 405.9h0.8M101.7 401.0h0.8M89.0 403.2h0.8M102.4 400.8h0.8M93.9 405.1h0.8M106.6 406.5h0.8M98.3 401.6h0.8M100.4 396.5h0.8M101.7 400.5h0.8M105.7 402.9h0.8M98.7 402.3h0.8M97.1 402.8h0.8M88.9 407.0h0.8M99.2 403.1h0.8M96.0 402.3h0.8M104.2 400.5h0.8M93.4 403.1h0.8M98.6 403.4h0.8M104.4 399.1h0.8M101.2 398.3h0.8M98.5 399.1h0.8M98.1 399.3h0.8M110.3 401.7h0.8M92.3 397.3h0.8M94.0 405.6h0.8M101.1 405.0h0.8M93.6 402.5h0.8M105.2 402.1h0.8M116.6 380.0h0.8M116.3 379.7h0.8M123.4 379.4h0.8M119.4 379.5h0.8M123.2 379.7h0.8M117.9 380.0h0.8M119.1 379.0h0.8M118.8 379.2h0.8M111.0 378.5h0.8M112.9 379.8h0.8M117.5 379.3h0.8M113.5 378.6h0.8M119.0 402.4h0.8M121.5 395.7h0.8M120.3 392.8h0.8M119.2 391.7h0.8M121.7 398.5h0.8M120.0 395.3h0.8M120.6 395.6h0.8M120.8 399.3h0.8M120.9 393.4h0.8M116.5 406.6h0.8M114.1 396.5h0.8M107.5 402.3h0.8M108.9 407.6h0.8M114.6 405.7h0.8M118.9 402.0h0.8M113.4 397.6h0.8M112.0 398.6h0.8M121.2 408.9h0.8M115.6 406.1h0.8M113.0 401.1h0.8M119.2 397.3h0.8M113.2 401.3h0.8M113.7 399.3h0.8M110.7 397.7h0.8M113.7 406.6h0.8M112.5 403.6h0.8M119.5 377.0h0.8M106.2 388.4h0.8M101.6 393.8h0.8M97.6 388.3h0.8M106.6 386.3h0.8" stroke="#3a52d8" stroke-width="0.8" stroke-opacity="0.28" fill="none"/>
<path d="M98.8 403.7h0.8M99.6 403.8h0.8M96.7 404.3h0.8M95.2 408.3h0.8M97.5 404.7h0.8M96.2 404.3h0.8M96.0 403.3h0.8M95.9 403.8h0.8M99.4 406.5h0.8M90.6 402.7h0.8M94.3 405.8h0.8M100.5 403.0h0.8M94.8 402.3h0.8M96.2 407.6h0.8M91.6 404.1h0.8M93.4 401.1h0.8M97.5 402.0h0.8M97.6 403.2h0.8M97.8 406.0h0.8M93.8 403.9h0.8M101.4 405.6h0.8M95.5 403.8h0.8M97.5 402.1h0.8M92.4 403.1h0.8M100.1 402.1h0.8M106.9 407.0h0.8M99.7 404.4h0.8M98.4 403.1h0.8M99.5 404.2h0.8M97.2 402.3h0.8M98.9 402.4h0.8M105.9 404.8h0.8M96.0 400.9h0.8M94.4 404.6h0.8M97.8 402.9h0.8M100.5 405.5h0.8M94.0 404.1h0.8M98.0 405.5h0.8M89.3 407.2h0.8M96.1 404.6h0.8M96.3 401.2h0.8M97.8 404.8h0.8M104.1 401.3h0.8M97.3 406.9h0.8M97.8 400.9h0.8M94.1 403.2h0.8M99.4 405.1h0.8M95.9 401.9h0.8M95.4 408.2h0.8M101.4 405.7h0.8M95.7 402.5h0.8M99.2 402.0h0.8M98.8 400.2h0.8M95.0 403.8h0.8M97.2 402.0h0.8M97.8 403.1h0.8M93.4 402.0h0.8M101.7 402.9h0.8M97.5 406.1h0.8M101.2 399.5h0.8M96.8 400.7h0.8M92.0 401.3h0.8M100.3 402.2h0.8M102.0 401.6h0.8M90.5 403.0h0.8M91.8 400.5h0.8M98.7 399.3h0.8M96.1 409.0h0.8M97.4 406.2h0.8M98.3 405.4h0.8M106.0 400.6h0.8M97.3 401.6h0.8M96.6 407.9h0.8M100.4 400.4h0.8M101.5 393.9h0.8M90.0 404.4h0.8M92.8 397.4h0.8M91.7 403.7h0.8M102.5 403.6h0.8M93.9 403.7h0.8M94.1 405.6h0.8M114.1 379.4h0.8M113.6 380.6h0.8M113.4 379.7h0.8M121.3 379.0h0.8M113.9 378.9h0.8M118.4 379.4h0.8M120.5 378.1h0.8M122.3 379.3h0.8M117.9 381.4h0.8M109.0 381.0h0.8M119.8 380.5h0.8M120.6 380.1h0.8M122.1 396.0h0.8M120.8 383.3h0.8M120.4 397.0h0.8M121.0 393.9h0.8M121.7 404.4h0.8M121.8 408.7h0.8M119.8 387.1h0.8M120.1 399.4h0.8M119.3 389.9h0.8M123.3 405.6h0.8M119.6 400.1h0.8M121.0 400.8h0.8M115.2 396.1h0.8M111.9 399.2h0.8M127.6 402.4h0.8M114.0 403.7h0.8M112.8 402.4h0.8M114.5 404.6h0.8M122.6 401.0h0.8M121.9 401.0h0.8M112.8 399.5h0.8M113.0 397.4h0.8M111.9 404.6h0.8M117.5 405.4h0.8M108.9 400.3h0.8M119.5 400.1h0.8M117.4 378.6h0.8M107.3 389.5h0.8M106.3 389.7h0.8M108.5 398.8h0.8M120.2 389.9h0.8" stroke="#3a52d8" stroke-width="0.8" stroke-opacity="0.28" fill="none"/>
<path d="M95.4 405.9h0.8M97.0 403.0h0.8M90.8 405.6h0.8M90.1 406.6h0.8M97.0 405.1h0.8M97.3 406.4h0.8M102.3 403.3h0.8M102.7 404.2h0.8M101.2 404.5h0.8M91.6 403.6h0.8M99.3 404.2h0.8M97.4 401.3h0.8M95.4 403.3h0.8M94.2 403.2h0.8M102.0 403.5h0.8M101.1 400.6h0.8M97.9 405.5h0.8M95.7 400.5h0.8M92.5 404.4h0.8M100.5 405.9h0.8M98.2 407.2h0.8M92.9 405.9h0.8M101.7 406.6h0.8M99.7 407.8h0.8M95.6 406.0h0.8M99.6 406.4h0.8M97.8 399.7h0.8M94.3 408.2h0.8M92.1 403.7h0.8M97.6 402.0h0.8M97.4 407.4h0.8M93.9 405.6h0.8M101.7 407.4h0.8M98.4 404.0h0.8M95.7 404.7h0.8M94.6 403.1h0.8M98.6 405.2h0.8M103.0 403.4h0.8M91.3 405.1h0.8M94.8 405.7h0.8M97.7 403.8h0.8M98.5 403.9h0.8M103.0 402.8h0.8M93.6 404.5h0.8M98.2 404.4h0.8M94.6 404.6h0.8M95.1 408.3h0.8M92.7 404.0h0.8M100.5 404.2h0.8M99.5 404.1h0.8M90.4 403.9h0.8M95.4 404.9h0.8M98.4 402.8h0.8M102.2 400.8h0.8M100.8 404.9h0.8M97.4 406.5h0.8M100.1 401.9h0.8M96.3 407.8h0.8M106.9 409.3h0.8M107.2 400.6h0.8M109.3 403.0h0.8M101.0 404.5h0.8M97.5 402.6h0.8M100.0 408.4h0.8M102.3 403.2h0.8M96.5 404.7h0.8M92.1 396.5h0.8M104.4 403.0h0.8M102.2 399.9h0.8M100.4 405.7h0.8M95.6 406.0h0.8M95.9 396.4h0.8M94.8 402.8h0.8M96.8 400.4h0.8M97.8 403.0h0.8M106.2 401.8h0.8M98.8 403.6h0.8M92.7 407.0h0.8M98.7 402.3h0.8M106.2 404.1h0.8M101.8 403.5h0.8M117.6 379.1h0.8M115.0 380.4h0.8M118.0 380.9h0.8M114.4 379.2h0.8M121.4 378.7h0.8M118.5 378.6h0.8M121.7 379.5h0.8M114.1 379.1h0.8M123.4 378.8h0.8M117.1 380.0h0.8M119.2 381.0h0.8M113.7 379.0h0.8M121.4 381.3h0.8M121.2 389.1h0.8M120.9 400.4h0.8M122.3 397.3h0.8M121.4 394.6h0.8M121.5 404.5h0.8M120.4 388.9h0.8M120.2 389.1h0.8M120.3 403.9h0.8M111.9 398.3h0.8M112.5 403.1h0.8M111.7 401.4h0.8M118.8 401.5h0.8M119.7 402.6h0.8M110.4 403.7h0.8M112.6 399.5h0.8M114.8 404.1h0.8M116.5 404.9h0.8M110.1 400.0h0.8M116.0 401.4h0.8M121.8 402.1h0.8M116.8 404.9h0.8M122.3 400.4h0.8M113.3 402.0h0.8M117.3 403.9h0.8M116.0 405.1h0.8M102.2 388.7h0.8M111.3 389.0h0.8M109.0 390.3h0.8M121.3 391.7h0.8M99.7 381.5h0.8" stroke="#3a52d8" stroke-width="0.8" stroke-opacity="0.28" fill="none"/>
<path d="M93.8 402.1h0.8M106.6 403.8h0.8M98.1 402.1h0.8M97.8 404.4h0.8M99.2 406.0h0.8M100.0 399.0h0.8M101.7 404.7h0.8M94.5 403.7h0.8M100.6 404.2h0.8M96.1 403.9h0.8M96.6 406.2h0.8M97.2 402.6h0.8M91.8 408.7h0.8M95.4 405.4h0.8M98.7 403.8h0.8M98.5 401.2h0.8M105.2 406.0h0.8M99.9 404.7h0.8M95.4 404.5h0.8M97.2 403.7h0.8M94.4 405.6h0.8M103.4 401.6h0.8M94.3 407.8h0.8M89.9 404.8h0.8M94.3 403.5h0.8M107.0 406.5h0.8M102.6 401.0h0.8M93.9 406.8h0.8M96.5 402.6h0.8M92.5 407.1h0.8M98.6 404.7h0.8M100.3 406.1h0.8M101.2 405.5h0.8M96.7 404.2h0.8M97.0 403.2h0.8M96.6 400.9h0.8M102.4 406.0h0.8M96.9 402.4h0.8M92.5 406.0h0.8M97.1 405.2h0.8M95.9 409.3h0.8M97.4 403.1h0.8M98.5 403.9h0.8M94.3 407.1h0.8M103.6 404.4h0.8M100.8 401.9h0.8M97.0 402.3h0.8M96.4 405.7h0.8M97.7 404.9h0.8M99.0 402.7h0.8M92.8 405.6h0.8M94.2 404.0h0.8M92.3 402.3h0.8M95.7 405.4h0.8M99.8 401.7h0.8M95.3 405.8h0.8M99.0 403.4h0.8M93.7 402.6h0.8M103.7 405.0h0.8M105.2 409.0h0.8M95.5 409.2h0.8M98.0 402.2h0.8M95.5 408.1h0.8M99.7 405.6h0.8M100.3 399.3h0.8M93.8 402.5h0.8M94.5 400.3h0.8M107.0 406.4h0.8M103.8 403.6h0.8M106.2 405.3h0.8M94.9 405.1h0.8M102.5 405.0h0.8M111.8 401.7h0.8M96.6 402.7h0.8M104.0 404.8h0.8M96.5 406.2h0.8M99.3 400.8h0.8M97.6 406.2h0.8M107.8 407.8h0.8M102.9 402.2h0.8M104.2 399.8h0.8M100.5 406.0h0.8M104.2 401.8h0.8M114.1 379.3h0.8M120.8 377.6h0.8M117.1 379.8h0.8M116.9 379.3h0.8M115.4 380.9h0.8M119.0 379.3h0.8M115.4 378.7h0.8M115.1 380.8h0.8M115.0 378.6h0.8M123.0 380.4h0.8M125.4 378.0h0.8M115.6 379.8h0.8M112.7 378.8h0.8M121.2 383.4h0.8M121.0 399.7h0.8M120.5 381.9h0.8M120.3 398.3h0.8M121.4 387.7h0.8M120.9 397.7h0.8M121.9 391.8h0.8M122.3 403.2h0.8M105.5 395.4h0.8M109.5 397.0h0.8M115.4 405.9h0.8M115.8 401.9h0.8M109.7 401.8h0.8M114.8 408.9h0.8M105.3 407.2h0.8M121.0 401.8h0.8M106.0 397.8h0.8M101.8 401.2h0.8M120.0 403.1h0.8M110.5 397.8h0.8M117.4 407.6h0.8M114.9 400.9h0.8M117.3 404.0h0.8M113.7 401.6h0.8M114.1 408.6h0.8M115.7 401.4h0.8M104.9 382.3h0.8M118.1 380.7h0.8M118.9 382.4h0.8M109.9 392.0h0.8M114.7 398.4h0.8" stroke="#3a52d8" stroke-width="0.8" stroke-opacity="0.28" fill="none"/>
<defs><radialGradient id="g7"><stop offset="0" stop-color="#e0301e" stop-opacity="1"/><stop offset="0.25" stop-color="#f08a1c" stop-opacity="1"/><stop offset="0.45" stop-color="#e6e02a" stop-opacity="0.95"/><stop offset="0.65" stop-color="#3cc06a" stop-opacity="0.85"/><stop offset="0.85" stop-color="#2f7fd0" stop-opacity="0.6"/><stop offset="1" stop-color="#3050d0" stop-opacity="0"/></radialGradient></defs>
<ellipse cx="96.7" cy="404.3" rx="6.5" ry="3.8" fill="url(#g7)" transform="rotate(0 96.7 404.3)"/>
<defs><radialGradient id="g8"><stop offset="0" stop-color="#30b890" stop-opacity="0.85"/><stop offset="0.45" stop-color="#3a8ad0" stop-opacity="0.7"/><stop offset="1" stop-color="#3a50d0" stop-opacity="0"/></radialGradient></defs>
<ellipse cx="123.2" cy="379.3" rx="3" ry="1.6" fill="url(#g8)" transform="rotate(0 123.2 379.3)"/>
<defs><radialGradient id="g9"><stop offset="0" stop-color="#3a60c8" stop-opacity="0.8"/><stop offset="0.6" stop-color="#4a68d0" stop-opacity="0.5"/><stop offset="1" stop-color="#4a60d0" stop-opacity="0"/></radialGradient></defs>
<ellipse cx="120.7" cy="403.3" rx="2" ry="2" fill="url(#g9)" transform="rotate(0 120.7 403.3)"/>
<rect x="87.7" y="369.3" width="42.4" height="41.6" fill="none" stroke="#7a7a7a" stroke-width="0.8"/>
<line x1="106.4" y1="369.3" x2="106.4" y2="410.9" stroke="#333" stroke-width="0.8"/>
<line x1="87.7" y1="391.9" x2="130.1" y2="391.9" stroke="#333" stroke-width="0.8"/>
<text x="85.9" y="374.3" font-size="4.2" text-anchor="end" fill="#222">10³</text>
<line x1="86.7" y1="372.9" x2="87.7" y2="372.9" stroke="#666" stroke-width="0.5"/>
<text x="85.9" y="383.7" font-size="4.2" text-anchor="end" fill="#222">10²</text>
<line x1="86.7" y1="382.3" x2="87.7" y2="382.3" stroke="#666" stroke-width="0.5"/>
<text x="85.9" y="393.3" font-size="4.2" text-anchor="end" fill="#222">10¹</text>
<line x1="86.7" y1="391.9" x2="87.7" y2="391.9" stroke="#666" stroke-width="0.5"/>
<text x="85.9" y="407.9" font-size="4.2" text-anchor="end" fill="#222">0</text>
<line x1="86.7" y1="406.5" x2="87.7" y2="406.5" stroke="#666" stroke-width="0.5"/>
<text x="93.2" y="415.8" font-size="4.2" text-anchor="middle" fill="#222">0</text>
<text x="105.6" y="415.8" font-size="4.2" text-anchor="middle" fill="#222">10¹</text>
<text x="116" y="415.8" font-size="4.2" text-anchor="middle" fill="#222">10²</text>
<text x="125.7" y="415.8" font-size="4.2" text-anchor="middle" fill="#222">10³</text>
<text x="125.9" y="375.9" font-size="5.6" text-anchor="end" fill="#222">15.3</text>
<text x="88.7" y="410.4" font-size="5.6" fill="#222">69.5</text>
<text x="125.9" y="410.4" font-size="5.6" text-anchor="end" fill="#222">14.7</text>
<path d="M146.0 404.1h0.8M159.6 402.7h0.8M161.2 404.8h0.8M161.4 403.3h0.8M143.7 405.1h0.8M168.1 402.2h0.8M162.9 406.2h0.8M152.9 401.3h0.8M151.9 404.6h0.8M142.1 405.5h0.8M151.1 402.4h0.8M157.7 404.6h0.8M161.2 405.9h0.8M159.7 403.8h0.8M171.9 397.5h0.8M157.7 402.2h0.8M151.3 404.4h0.8M143.8 405.9h0.8M164.5 403.6h0.8M155.0 401.1h0.8M152.5 404.9h0.8M154.8 403.9h0.8M154.0 403.0h0.8M154.2 402.7h0.8M156.7 402.5h0.8M157.3 403.9h0.8M163.7 404.3h0.8M151.6 402.5h0.8M148.8 403.4h0.8M144.6 403.6h0.8M156.9 402.5h0.8M150.1 403.8h0.8M156.3 403.8h0.8M156.9 401.7h0.8M163.3 400.9h0.8M161.0 401.8h0.8M152.6 404.0h0.8M146.7 402.8h0.8M156.2 404.3h0.8M155.9 404.5h0.8M160.2 400.5h0.8M148.8 403.5h0.8M145.7 405.9h0.8M148.6 404.2h0.8M170.0 402.3h0.8M161.6 402.8h0.8M161.9 405.9h0.8M147.6 403.6h0.8M168.8 406.7h0.8M163.8 401.6h0.8M165.6 395.6h0.8M163.1 397.4h0.8M165.7 400.5h0.8M166.0 403.7h0.8M165.6 399.6h0.8M159.0 398.2h0.8M168.5 394.6h0.8M168.4 403.9h0.8M161.7 397.1h0.8M157.6 402.3h0.8M164.2 401.4h0.8M163.5 395.4h0.8M164.8 397.5h0.8M173.9 399.5h0.8M163.7 399.4h0.8M167.7 401.9h0.8M162.8 403.6h0.8M173.2 401.5h0.8M164.0 406.5h0.8M169.8 379.1h0.8M171.1 379.0h0.8M167.1 379.7h0.8M169.3 380.5h0.8M166.8 380.7h0.8M167.5 379.6h0.8M170.6 375.8h0.8M171.3 377.8h0.8M168.8 380.4h0.8M170.0 380.7h0.8M166.4 379.5h0.8M172.0 379.7h0.8M168.0 379.5h0.8M167.4 379.4h0.8M150.9 377.9h0.8M157.0 379.5h0.8M146.0 383.4h0.8M149.4 382.9h0.8M152.2 381.3h0.8M149.1 378.9h0.8M149.1 379.0h0.8M163.4 393.7h0.8M149.9 390.1h0.8M168.2 373.9h0.8M172.6 386.3h0.8M172.9 385.7h0.8" stroke="#3a52d8" stroke-width="0.8" stroke-opacity="0.28" fill="none"/>
<path d="M155.3 405.0h0.8M153.0 405.7h0.8M151.0 402.3h0.8M161.9 403.0h0.8M161.9 406.4h0.8M150.6 403.2h0.8M149.3 401.1h0.8M148.5 403.5h0.8M153.8 401.9h0.8M150.2 400.4h0.8M158.8 403.9h0.8M149.4 403.2h0.8M163.5 403.6h0.8M158.1 404.4h0.8M157.2 403.2h0.8M156.0 403.0h0.8M157.3 404.3h0.8M155.0 402.3h0.8M161.4 397.0h0.8M147.9 402.3h0.8M145.9 404.4h0.8M145.4 403.8h0.8M155.9 402.4h0.8M145.5 403.6h0.8M158.3 400.4h0.8M157.9 399.7h0.8M143.6 403.1h0.8M157.9 400.4h0.8M156.6 401.3h0.8M154.5 403.5h0.8M155.5 405.0h0.8M145.2 402.2h0.8M152.2 402.5h0.8M163.1 398.1h0.8M151.8 400.4h0.8M159.2 402.3h0.8M149.7 405.8h0.8M161.3 399.0h0.8M162.1 402.1h0.8M160.9 404.4h0.8M166.6 402.8h0.8M154.9 403.2h0.8M154.4 404.4h0.8M164.7 400.8h0.8M157.3 402.3h0.8M165.2 401.8h0.8M164.5 401.7h0.8M154.1 400.8h0.8M152.8 402.5h0.8M147.9 404.3h0.8M157.1 402.9h0.8M157.3 402.2h0.8M159.0 398.9h0.8M168.2 407.1h0.8M165.6 403.5h0.8M168.1 405.1h0.8M163.9 405.1h0.8M158.4 400.2h0.8M162.2 401.4h0.8M156.1 397.5h0.8M162.8 401.7h0.8M163.6 399.0h0.8M169.5 399.5h0.8M171.2 405.9h0.8M163.6 394.2h0.8M163.2 403.4h0.8M176.7 401.3h0.8M155.6 406.2h0.8M170.5 401.9h0.8M159.5 401.7h0.8M166.0 406.8h0.8M167.5 396.5h0.8M168.7 379.8h0.8M170.0 378.4h0.8M168.9 379.7h0.8M170.4 379.8h0.8M170.2 377.9h0.8M170.3 380.4h0.8M171.9 379.8h0.8M171.6 379.7h0.8M169.1 379.4h0.8M167.1 379.7h0.8M166.4 378.5h0.8M163.7 381.0h0.8M171.7 379.2h0.8M166.7 380.0h0.8M147.7 379.7h0.8M155.2 377.4h0.8M148.6 376.9h0.8M154.6 380.1h0.8M150.8 380.3h0.8M149.5 379.1h0.8M150.0 377.8h0.8M160.9 387.0h0.8M167.2 385.3h0.8M152.1 401.8h0.8M164.4 385.5h0.8M170.2 386.5h0.8" stroke="#3a52d8" stroke-width="0.8" stroke-opacity="0.28" fill="none"/>
<path d="M161.1 404.1h0.8M153.6 402.4h0.8M143.2 401.6h0.8M151.2 402.8h0.8M145.9 405.6h0.8M150.2 403.1h0.8M160.0 404.0h0.8M148.3 404.6h0.8M165.9 402.2h0.8M160.1 405.0h0.8M164.4 404.3h0.8M158.8 405.8h0.8M150.6 402.8h0.8M168.2 402.2h0.8M148.5 402.5h0.8M149.4 401.4h0.8M151.1 405.0h0.8M148.1 404.8h0.8M156.7 403.1h0.8M159.9 403.5h0.8M163.3 405.7h0.8M163.9 404.3h0.8M148.7 403.6h0.8M165.3 403.5h0.8M165.2 401.0h0.8M148.3 403.0h0.8M158.8 403.3h0.8M159.9 401.3h0.8M165.0 405.7h0.8M152.1 404.4h0.8M152.3 401.4h0.8M155.9 404.7h0.8M146.7 402.9h0.8M167.6 406.1h0.8M156.8 403.1h0.8M150.5 405.5h0.8M152.9 401.1h0.8M153.5 406.2h0.8M153.1 404.9h0.8M166.5 401.8h0.8M157.9 403.2h0.8M161.5 402.9h0.8M154.9 403.6h0.8M160.4 400.2h0.8M153.9 403.6h0.8M170.4 400.2h0.8M152.1 401.5h0.8M144.6 403.6h0.8M153.8 405.2h0.8M147.6 406.3h0.8M159.6 405.0h0.8M163.1 398.6h0.8M155.7 401.7h0.8M163.7 404.4h0.8M162.9 400.6h0.8M161.7 405.5h0.8M162.6 401.6h0.8M161.6 395.7h0.8M166.2 396.6h0.8M158.7 402.5h0.8M163.7 401.5h0.8M162.1 402.7h0.8M157.9 399.4h0.8M167.3 407.3h0.8M165.2 400.7h0.8M163.0 400.8h0.8M164.0 405.4h0.8M162.9 402.9h0.8M168.5 401.4h0.8M164.7 400.9h0.8M156.1 394.6h0.8M166.6 405.7h0.8M168.3 378.2h0.8M169.5 378.5h0.8M169.9 378.0h0.8M167.5 377.8h0.8M168.6 379.2h0.8M170.1 378.6h0.8M169.4 377.2h0.8M173.4 378.5h0.8M169.0 378.8h0.8M169.1 377.9h0.8M166.1 379.0h0.8M168.6 378.6h0.8M163.6 378.9h0.8M165.0 380.5h0.8M154.5 379.9h0.8M148.2 379.5h0.8M149.0 377.0h0.8M145.9 381.7h0.8M160.3 383.0h0.8M146.4 382.7h0.8M157.8 380.8h0.8M151.4 391.3h0.8M166.0 395.0h0.8M166.2 381.2h0.8M159.0 387.8h0.8M168.3 387.6h0.8" stroke="#3a52d8" stroke-width="0.8" stroke-opacity="0.28" fill="none"/>
<path d="M146.7 405.3h0.8M154.4 402.4h0.8M161.5 402.2h0.8M152.0 402.9h0.8M144.3 401.4h0.8M159.6 403.2h0.8M159.4 401.6h0.8M158.8 399.6h0.8M154.3 404.8h0.8M145.8 404.5h0.8M152.0 403.1h0.8M151.2 399.7h0.8M151.6 402.1h0.8M149.9 403.6h0.8M149.7 403.1h0.8M153.2 405.4h0.8M154.3 403.2h0.8M158.2 405.3h0.8M155.7 403.4h0.8M144.4 405.5h0.8M149.7 402.8h0.8M152.6 402.3h0.8M164.9 401.5h0.8M167.2 404.8h0.8M155.6 405.1h0.8M162.5 403.0h0.8M153.4 405.4h0.8M159.8 403.3h0.8M161.7 403.1h0.8M162.2 402.6h0.8M149.3 404.8h0.8M152.2 403.3h0.8M143.5 404.3h0.8M144.1 406.4h0.8M147.4 404.4h0.8M152.3 403.2h0.8M162.6 400.5h0.8M144.1 405.5h0.8M155.1 399.8h0.8M145.7 402.3h0.8M162.9 400.9h0.8M166.8 407.2h0.8M143.7 401.0h0.8M160.3 401.5h0.8M162.5 404.1h0.8M148.2 403.9h0.8M162.8 402.4h0.8M149.3 402.1h0.8M155.3 400.6h0.8M142.2 403.3h0.8M155.7 404.2h0.8M150.0 405.5h0.8M165.2 397.7h0.8M158.5 392.9h0.8M163.9 399.3h0.8M159.9 405.4h0.8M168.2 402.6h0.8M159.8 398.8h0.8M171.5 395.7h0.8M166.2 408.0h0.8M165.7 407.2h0.8M168.1 398.8h0.8M160.0 404.7h0.8M166.1 402.2h0.8M163.2 402.8h0.8M172.3 400.3h0.8M161.2 405.5h0.8M163.9 402.4h0.8M170.6 404.8h0.8M162.5 398.4h0.8M160.2 404.3h0.8M168.6 403.7h0.8M166.1 404.6h0.8M168.9 379.7h0.8M166.2 379.4h0.8M165.5 377.8h0.8M168.0 378.6h0.8M164.4 378.1h0.8M165.6 378.3h0.8M174.8 379.0h0.8M173.1 380.2h0.8M171.5 379.5h0.8M162.9 376.9h0.8M167.0 379.7h0.8M171.7 378.4h0.8M168.6 380.5h0.8M169.8 381.8h0.8M154.3 382.3h0.8M151.9 379.9h0.8M159.0 381.0h0.8M155.1 380.2h0.8M150.8 379.5h0.8M153.3 382.3h0.8M144.7 378.1h0.8M160.3 387.0h0.8M169.6 388.6h0.8M160.4 394.4h0.8M155.6 390.7h0.8M145.7 383.4h0.8" stroke="#3a52d8" stroke-width="0.8" stroke-opacity="0.28" fill="none"/>
<path d="M155.0 403.2h0.8M155.0 399.1h0.8M150.9 403.2h0.8M158.0 405.8h0.8M156.3 402.1h0.8M163.0 403.5h0.8M141.8 402.7h0.8M160.1 402.7h0.8M151.7 401.6h0.8M155.9 402.4h0.8M150.2 406.4h0.8M155.3 401.4h0.8M156.5 401.1h0.8M172.9 401.9h0.8M151.4 402.1h0.8M157.4 402.7h0.8M153.3 405.2h0.8M161.6 400.2h0.8M156.7 403.2h0.8M149.3 402.8h0.8M152.2 403.0h0.8M152.4 402.7h0.8M147.8 403.3h0.8M152.5 401.2h0.8M165.6 401.8h0.8M167.1 404.5h0.8M146.2 402.5h0.8M145.5 405.8h0.8M160.3 401.3h0.8M158.1 405.7h0.8M159.2 403.9h0.8M165.7 402.7h0.8M150.8 400.9h0.8M156.8 402.1h0.8M147.7 403.3h0.8M147.2 404.4h0.8M150.6 405.8h0.8M152.0 400.6h0.8M151.6 403.2h0.8M158.7 403.0h0.8M164.9 402.5h0.8M150.7 403.1h0.8M148.3 406.6h0.8M151.0 400.7h0.8M151.2 401.7h0.8M156.4 402.8h0.8M165.4 401.1h0.8M149.1 403.2h0.8M156.6 404.2h0.8M159.3 402.0h0.8M155.8 398.5h0.8M169.4 402.7h0.8M154.4 404.9h0.8M162.3 400.7h0.8M155.3 401.8h0.8M165.6 399.2h0.8M166.2 402.9h0.8M161.9 400.8h0.8M168.0 401.6h0.8M169.0 403.9h0.8M155.8 408.9h0.8M169.3 402.9h0.8M163.0 405.2h0.8M169.2 404.8h0.8M172.2 401.9h0.8M160.6 397.5h0.8M165.7 401.3h0.8M164.2 402.9h0.8M171.8 397.2h0.8M159.2 402.9h0.8M168.3 380.2h0.8M169.7 381.7h0.8M168.5 381.1h0.8M165.0 379.2h0.8M170.2 379.1h0.8M163.2 378.2h0.8M167.2 379.3h0.8M168.0 380.7h0.8M170.4 378.4h0.8M169.0 377.6h0.8M169.9 379.4h0.8M168.9 378.2h0.8M171.1 378.6h0.8M171.0 380.5h0.8M151.8 380.1h0.8M154.6 379.4h0.8M148.8 384.3h0.8M156.9 383.3h0.8M147.4 381.2h0.8M152.0 384.8h0.8M150.7 381.0h0.8M150.0 390.8h0.8M160.3 388.2h0.8M160.5 379.3h0.8M165.4 388.0h0.8M171.5 400.6h0.8M159.0 389.4h0.8" stroke="#3a52d8" stroke-width="0.8" stroke-opacity="0.28" fill="none"/>
<path d="M165.7 402.0h0.8M164.6 400.1h0.8M168.5 401.4h0.8M149.7 403.1h0.8M145.4 401.9h0.8M156.2 404.9h0.8M159.4 398.5h0.8M156.2 401.7h0.8M157.7 398.3h0.8M157.5 401.2h0.8M156.9 401.2h0.8M162.2 401.4h0.8M150.9 406.2h0.8M148.5 406.3h0.8M153.4 402.8h0.8M147.1 405.0h0.8M150.5 405.0h0.8M158.8 402.2h0.8M161.2 403.2h0.8M150.8 403.5h0.8M165.8 401.8h0.8M159.0 403.3h0.8M149.9 403.0h0.8M162.0 402.6h0.8M151.4 407.1h0.8M159.8 401.3h0.8M150.9 401.7h0.8M148.3 406.5h0.8M154.1 406.4h0.8M151.3 402.6h0.8M156.6 400.2h0.8M158.1 403.2h0.8M155.7 403.2h0.8M150.9 403.8h0.8M156.5 404.6h0.8M158.1 403.6h0.8M146.9 403.8h0.8M162.7 400.6h0.8M161.4 402.6h0.8M157.2 402.0h0.8M151.4 400.8h0.8M159.4 404.0h0.8M148.7 402.8h0.8M155.9 399.6h0.8M156.1 403.6h0.8M164.9 403.1h0.8M161.8 404.9h0.8M156.4 407.6h0.8M161.7 401.4h0.8M163.7 406.8h0.8M166.1 402.2h0.8M163.0 402.3h0.8M171.5 400.5h0.8M170.4 400.4h0.8M163.0 400.6h0.8M163.9 409.1h0.8M167.6 404.9h0.8M169.6 398.5h0.8M168.5 395.2h0.8M159.3 403.0h0.8M166.9 395.1h0.8M165.0 404.2h0.8M173.3 400.5h0.8M164.4 406.4h0.8M161.9 402.0h0.8M166.1 404.1h0.8M170.1 401.0h0.8M165.4 403.3h0.8M165.1 402.0h0.8M166.0 380.3h0.8M166.5 379.4h0.8M164.2 379.9h0.8M169.2 382.4h0.8M169.8 377.3h0.8M161.6 378.3h0.8M168.2 380.6h0.8M167.9 378.3h0.8M169.8 380.1h0.8M169.2 378.5h0.8M165.0 378.5h0.8M173.3 377.9h0.8M169.8 378.0h0.8M167.8 380.1h0.8M152.6 380.4h0.8M150.5 376.5h0.8M152.9 380.9h0.8M153.9 381.5h0.8M155.7 376.4h0.8M152.6 382.6h0.8M152.5 382.7h0.8M169.6 383.3h0.8M152.5 386.1h0.8M161.1 391.0h0.8M154.5 394.4h0.8M172.5 388.3h0.8M142.8 382.1h0.8" stroke="#3a52d8" stroke-width="0.8" stroke-opacity="0.28" fill="none"/>
<path d="M151.9 405.2h0.8M150.5 403.5h0.8M154.8 408.1h0.8M159.1 403.2h0.8M156.3 406.0h0.8M156.8 401.8h0.8M161.2 400.3h0.8M146.9 402.0h0.8M161.8 405.0h0.8M167.2 402.4h0.8M157.2 403.1h0.8M158.8 405.1h0.8M150.8 400.4h0.8M163.8 399.5h0.8M147.6 402.6h0.8M154.2 400.9h0.8M157.4 404.5h0.8M156.8 402.1h0.8M158.0 406.7h0.8M150.3 406.0h0.8M163.9 402.8h0.8M145.4 403.6h0.8M154.9 403.8h0.8M153.9 405.5h0.8M154.6 402.2h0.8M147.2 404.8h0.8M152.0 402.7h0.8M160.3 398.3h0.8M156.0 405.1h0.8M158.2 403.8h0.8M160.1 401.1h0.8M160.9 401.5h0.8M160.4 403.9h0.8M151.6 401.8h0.8M159.8 402.0h0.8M154.6 403.4h0.8M157.0 404.1h0.8M156.0 402.6h0.8M168.3 398.4h0.8M159.7 403.8h0.8M151.1 402.6h0.8M166.4 400.3h0.8M150.2 403.6h0.8M146.4 402.8h0.8M141.9 407.0h0.8M155.2 402.8h0.8M158.3 404.2h0.8M148.0 402.6h0.8M151.5 403.7h0.8M156.8 403.9h0.8M169.8 401.9h0.8M161.8 397.7h0.8M160.6 404.4h0.8M160.2 398.5h0.8M158.5 398.4h0.8M174.1 401.4h0.8M165.8 403.5h0.8M164.9 398.9h0.8M162.1 398.3h0.8M159.1 401.3h0.8M157.2 403.3h0.8M168.5 401.2h0.8M173.9 401.4h0.8M171.9 394.9h0.8M168.0 396.6h0.8M166.8 399.2h0.8M162.2 395.2h0.8M167.3 399.9h0.8M162.8 399.7h0.8M174.2 400.0h0.8M161.6 399.9h0.8M164.9 380.9h0.8M169.8 378.7h0.8M172.5 381.0h0.8M169.8 379.3h0.8M170.9 378.3h0.8M166.0 378.3h0.8M168.1 381.5h0.8M170.1 378.1h0.8M166.3 377.9h0.8M167.1 380.6h0.8M167.4 378.9h0.8M169.3 382.0h0.8M167.4 378.2h0.8M164.7 380.9h0.8M151.5 378.0h0.8M149.5 381.3h0.8M154.3 380.7h0.8M149.3 380.1h0.8M153.9 376.6h0.8M150.6 377.7h0.8M154.8 381.0h0.8M165.9 387.6h0.8M170.2 387.9h0.8M172.4 381.6h0.8M160.8 394.2h0.8M172.7 391.8h0.8" stroke="#3a52d8" stroke-width="0.8" stroke-opacity="0.28" fill="none"/>
<path d="M152.7 402.7h0.8M153.0 405.6h0.8M144.3 404.5h0.8M150.0 405.3h0.8M149.3 403.0h0.8M151.3 405.9h0.8M142.2 406.7h0.8M147.6 403.0h0.8M143.5 405.7h0.8M156.9 402.6h0.8M143.4 403.0h0.8M159.0 399.3h0.8M168.6 400.3h0.8M155.5 404.9h0.8M151.9 403.3h0.8M155.7 400.9h0.8M164.4 406.1h0.8M162.2 403.3h0.8M146.4 404.4h0.8M148.1 405.9h0.8M154.9 405.4h0.8M163.8 401.2h0.8M151.0 407.8h0.8M159.0 402.1h0.8M152.3 404.4h0.8M162.0 404.7h0.8M158.2 402.6h0.8M151.8 403.9h0.8M143.9 404.3h0.8M148.6 406.5h0.8M153.1 402.7h0.8M146.1 403.1h0.8M154.7 401.1h0.8M160.8 405.2h0.8M149.6 403.6h0.8M149.7 403.9h0.8M151.2 405.6h0.8M166.1 405.5h0.8M150.6 403.9h0.8M155.7 403.9h0.8M156.7 400.4h0.8M148.8 403.7h0.8M159.5 404.5h0.8M156.3 400.8h0.8M149.3 405.8h0.8M170.9 400.8h0.8M157.5 403.3h0.8M165.3 401.4h0.8M151.7 403.1h0.8M150.9 402.9h0.8M164.0 404.5h0.8M156.8 400.1h0.8M160.5 406.9h0.8M169.2 400.0h0.8M163.3 406.5h0.8M160.7 403.0h0.8M167.9 404.3h0.8M171.9 398.8h0.8M160.7 404.6h0.8M168.6 396.3h0.8M162.4 399.1h0.8M167.8 400.9h0.8M168.3 400.2h0.8M173.7 402.2h0.8M160.3 400.4h0.8M159.3 399.5h0.8M166.8 400.8h0.8M166.7 402.5h0.8M170.2 401.6h0.8M161.0 401.3h0.8M161.3 401.5h0.8M164.5 376.7h0.8M165.3 378.6h0.8M167.4 378.5h0.8M172.0 378.4h0.8M164.4 377.6h0.8M166.3 380.7h0.8M171.0 378.7h0.8M170.3 379.5h0.8M166.4 381.1h0.8M165.6 379.1h0.8M168.3 382.0h0.8M166.6 380.9h0.8M166.6 379.5h0.8M169.5 379.9h0.8M147.9 379.1h0.8M148.0 383.1h0.8M151.1 379.2h0.8M149.7 380.4h0.8M152.2 383.9h0.8M156.6 380.1h0.8M149.6 377.9h0.8M170.2 397.6h0.8M172.2 382.3h0.8M154.0 383.2h0.8M164.1 386.5h0.8M175.4 381.7h0.8" stroke="#3a52d8" stroke-width="0.8" stroke-opacity="0.28" fill="none"/>
<defs><radialGradient id="g10"><stop offset="0" stop-color="#f0a020" stop-opacity="0.95"/><stop offset="0.3" stop-color="#d8e040" stop-opacity="0.9"/><stop offset="0.55" stop-color="#40c070" stop-opacity="0.8"/><stop offset="0.8" stop-color="#3080d0" stop-opacity="0.55"/><stop offset="1" stop-color="#3050d0" stop-opacity="0"/></radialGradient></defs>
<ellipse cx="168.4" cy="379.3" rx="3.5" ry="1.8" fill="url(#g10)" transform="rotate(0 168.4 379.3)"/>
<defs><radialGradient id="g11"><stop offset="0" stop-color="#3a60c8" stop-opacity="0.8"/><stop offset="0.6" stop-color="#4a68d0" stop-opacity="0.5"/><stop offset="1" stop-color="#4a60d0" stop-opacity="0"/></radialGradient></defs>
<ellipse cx="152.9" cy="403.3" rx="7" ry="2" fill="url(#g11)" transform="rotate(-8 152.9 403.3)"/>
<rect x="140.9" y="369.3" width="42.4" height="41.6" fill="none" stroke="#7a7a7a" stroke-width="0.8"/>
<line x1="159.6" y1="369.3" x2="159.6" y2="410.9" stroke="#333" stroke-width="0.8"/>
<line x1="140.9" y1="391.9" x2="183.3" y2="391.9" stroke="#333" stroke-width="0.8"/>
<text x="139.1" y="374.3" font-size="4.2" text-anchor="end" fill="#222">10³</text>
<line x1="139.9" y1="372.9" x2="140.9" y2="372.9" stroke="#666" stroke-width="0.5"/>
<text x="139.1" y="383.7" font-size="4.2" text-anchor="end" fill="#222">10²</text>
<line x1="139.9" y1="382.3" x2="140.9" y2="382.3" stroke="#666" stroke-width="0.5"/>
<text x="139.1" y="393.3" font-size="4.2" text-anchor="end" fill="#222">10¹</text>
<line x1="139.9" y1="391.9" x2="140.9" y2="391.9" stroke="#666" stroke-width="0.5"/>
<text x="139.1" y="407.9" font-size="4.2" text-anchor="end" fill="#222">0</text>
<line x1="139.9" y1="406.5" x2="140.9" y2="406.5" stroke="#666" stroke-width="0.5"/>
<text x="146.4" y="415.8" font-size="4.2" text-anchor="middle" fill="#222">0</text>
<text x="158.8" y="415.8" font-size="4.2" text-anchor="middle" fill="#222">10¹</text>
<text x="169.2" y="415.8" font-size="4.2" text-anchor="middle" fill="#222">10²</text>
<text x="178.9" y="415.8" font-size="4.2" text-anchor="middle" fill="#222">10³</text>
<text x="179.1" y="375.9" font-size="5.6" text-anchor="end" fill="#222">16.4</text>
<text x="141.9" y="410.4" font-size="5.6" fill="#222">54.2</text>
<text x="179.1" y="410.4" font-size="5.6" text-anchor="end" fill="#222">25.4</text>
<path d="M220.0 379.0h0.8M219.6 379.0h0.8M215.5 377.9h0.8M226.6 378.4h0.8M224.7 378.2h0.8M222.0 376.8h0.8M220.6 380.1h0.8M224.8 380.6h0.8M219.6 377.7h0.8M221.5 379.6h0.8M227.4 380.6h0.8M222.0 377.1h0.8M224.3 377.5h0.8M222.9 375.5h0.8M219.8 379.7h0.8M220.7 377.8h0.8M222.2 380.9h0.8M223.2 378.9h0.8M227.5 380.8h0.8M214.8 380.6h0.8M222.4 380.0h0.8M221.5 377.6h0.8M217.5 378.1h0.8M209.7 403.8h0.8M215.1 401.6h0.8M213.0 403.0h0.8M212.5 400.4h0.8M213.0 399.1h0.8M213.6 403.9h0.8M205.2 401.3h0.8M208.3 403.5h0.8M209.9 401.4h0.8M208.9 397.4h0.8M213.7 402.0h0.8M211.1 401.1h0.8M208.3 402.9h0.8M208.2 402.1h0.8M208.4 400.8h0.8M218.4 399.6h0.8M202.5 400.5h0.8M212.8 401.0h0.8M215.1 407.3h0.8M201.7 403.5h0.8M204.0 406.0h0.8M221.0 402.8h0.8M209.4 399.5h0.8M216.2 404.4h0.8M197.4 400.9h0.8M201.4 402.6h0.8M210.5 401.0h0.8M221.2 402.3h0.8M215.8 405.3h0.8M203.2 401.0h0.8M212.7 407.8h0.8M210.0 405.7h0.8M212.3 399.3h0.8M207.6 399.0h0.8M214.7 404.3h0.8M216.1 402.4h0.8M217.6 405.5h0.8M221.1 402.5h0.8M214.0 403.4h0.8M218.9 398.2h0.8M219.4 404.4h0.8M220.1 401.8h0.8M220.8 398.2h0.8M215.2 395.9h0.8M215.9 402.4h0.8M218.9 406.0h0.8M214.9 403.6h0.8M221.5 407.7h0.8M217.4 400.5h0.8M221.3 400.7h0.8M220.9 407.6h0.8M219.9 401.6h0.8M218.7 401.1h0.8M213.1 403.7h0.8M218.3 401.7h0.8M218.2 401.7h0.8M219.4 406.6h0.8M214.1 401.6h0.8M213.1 381.4h0.8M214.2 387.9h0.8M210.6 385.5h0.8M214.4 384.1h0.8M218.8 396.1h0.8M216.7 387.7h0.8M213.4 387.5h0.8" stroke="#3a52d8" stroke-width="0.8" stroke-opacity="0.28" fill="none"/>
<path d="M222.9 378.0h0.8M224.1 384.1h0.8M220.8 378.1h0.8M221.7 377.6h0.8M223.6 381.3h0.8M225.6 376.1h0.8M219.8 382.1h0.8M222.5 380.5h0.8M219.9 381.6h0.8M225.5 380.3h0.8M226.7 378.1h0.8M224.7 379.0h0.8M224.4 379.2h0.8M224.2 378.4h0.8M222.1 379.9h0.8M224.4 380.6h0.8M223.5 382.3h0.8M222.3 379.7h0.8M221.2 377.2h0.8M223.8 379.5h0.8M219.7 379.7h0.8M219.6 379.5h0.8M227.9 380.6h0.8M204.5 401.8h0.8M202.2 396.4h0.8M214.4 405.4h0.8M204.8 404.6h0.8M208.3 402.4h0.8M208.4 403.8h0.8M211.1 401.2h0.8M197.8 399.2h0.8M209.4 403.9h0.8M213.3 405.6h0.8M206.0 400.8h0.8M206.8 400.2h0.8M213.5 399.8h0.8M215.3 401.2h0.8M206.6 402.4h0.8M212.9 403.4h0.8M206.5 401.3h0.8M211.5 401.5h0.8M212.4 399.8h0.8M195.6 401.2h0.8M205.6 404.8h0.8M207.8 398.7h0.8M206.5 404.1h0.8M214.4 405.3h0.8M207.4 403.0h0.8M207.2 404.3h0.8M209.9 401.7h0.8M213.7 401.5h0.8M211.5 403.9h0.8M195.1 401.3h0.8M208.0 406.0h0.8M206.0 402.1h0.8M211.2 405.0h0.8M214.9 401.2h0.8M206.4 403.4h0.8M216.1 402.2h0.8M219.4 407.4h0.8M215.8 405.4h0.8M216.3 399.7h0.8M216.7 403.0h0.8M217.9 402.3h0.8M215.5 401.2h0.8M222.5 401.9h0.8M216.9 403.1h0.8M219.2 394.8h0.8M220.7 401.9h0.8M218.1 402.4h0.8M218.4 403.6h0.8M220.4 404.3h0.8M215.7 405.2h0.8M218.5 400.3h0.8M219.8 401.5h0.8M216.6 397.9h0.8M214.9 405.2h0.8M216.6 403.0h0.8M218.6 407.0h0.8M217.6 403.1h0.8M220.5 399.6h0.8M213.4 394.1h0.8M211.8 389.5h0.8M216.6 384.8h0.8M220.5 399.5h0.8M220.6 379.2h0.8M216.2 394.9h0.8M216.6 387.2h0.8" stroke="#3a52d8" stroke-width="0.8" stroke-opacity="0.28" fill="none"/>
<path d="M217.6 379.8h0.8M222.3 380.5h0.8M222.6 376.4h0.8M223.8 379.2h0.8M220.8 379.9h0.8M219.7 376.9h0.8M224.0 381.2h0.8M219.1 376.4h0.8M223.1 379.1h0.8M221.6 380.1h0.8M221.0 380.4h0.8M225.9 379.8h0.8M219.1 380.7h0.8M223.6 376.6h0.8M221.1 380.8h0.8M223.4 379.1h0.8M223.2 382.1h0.8M221.9 381.1h0.8M224.4 378.3h0.8M227.2 377.2h0.8M221.5 377.9h0.8M220.2 377.4h0.8M222.8 380.8h0.8M212.5 400.3h0.8M195.7 400.5h0.8M204.4 400.0h0.8M207.2 397.5h0.8M212.5 397.0h0.8M219.0 400.3h0.8M209.9 402.2h0.8M208.0 398.9h0.8M207.5 398.1h0.8M210.4 398.8h0.8M210.1 402.5h0.8M208.6 402.0h0.8M204.4 402.9h0.8M205.5 401.2h0.8M200.0 401.3h0.8M201.9 403.7h0.8M204.8 403.7h0.8M207.9 405.5h0.8M205.7 402.4h0.8M205.5 405.9h0.8M210.2 405.0h0.8M205.1 402.2h0.8M216.7 398.7h0.8M208.0 404.0h0.8M209.5 401.5h0.8M201.1 401.8h0.8M212.9 402.6h0.8M202.9 402.5h0.8M206.3 402.0h0.8M209.8 405.1h0.8M220.9 399.3h0.8M202.7 402.1h0.8M202.3 401.0h0.8M217.0 399.5h0.8M206.6 402.0h0.8M213.1 406.6h0.8M217.2 407.7h0.8M213.6 402.9h0.8M217.9 405.4h0.8M214.0 400.4h0.8M219.4 401.7h0.8M218.1 404.9h0.8M217.5 404.2h0.8M215.4 401.0h0.8M222.4 402.0h0.8M218.7 402.0h0.8M222.8 406.4h0.8M220.2 401.7h0.8M217.1 402.9h0.8M215.6 399.4h0.8M214.3 401.1h0.8M219.7 402.4h0.8M217.5 403.0h0.8M211.2 401.6h0.8M216.7 409.4h0.8M214.8 405.4h0.8M218.1 401.7h0.8M216.7 401.4h0.8M224.9 386.1h0.8M215.9 380.5h0.8M210.6 372.3h0.8M207.4 387.5h0.8M220.3 393.3h0.8M214.0 395.3h0.8M225.4 391.3h0.8" stroke="#3a52d8" stroke-width="0.8" stroke-opacity="0.28" fill="none"/>
<path d="M221.2 380.7h0.8M222.5 381.1h0.8M224.5 380.6h0.8M224.1 381.7h0.8M220.4 379.6h0.8M220.2 380.6h0.8M224.5 380.7h0.8M220.5 378.9h0.8M222.3 378.4h0.8M225.3 379.9h0.8M222.5 380.3h0.8M225.3 380.7h0.8M220.0 377.4h0.8M225.7 381.7h0.8M225.2 377.2h0.8M224.9 379.3h0.8M225.6 383.5h0.8M223.9 379.1h0.8M220.4 376.7h0.8M213.9 381.8h0.8M218.5 382.5h0.8M221.8 380.9h0.8M217.7 378.1h0.8M212.9 405.6h0.8M210.4 400.8h0.8M206.6 400.5h0.8M200.5 404.8h0.8M197.6 400.1h0.8M195.2 404.3h0.8M202.2 402.4h0.8M216.4 401.2h0.8M210.1 401.9h0.8M214.1 399.7h0.8M207.9 398.8h0.8M220.7 403.6h0.8M215.1 399.5h0.8M205.8 402.5h0.8M210.5 402.9h0.8M212.4 400.7h0.8M214.8 402.4h0.8M201.6 402.2h0.8M215.4 399.5h0.8M212.3 401.0h0.8M209.1 395.2h0.8M207.9 401.1h0.8M206.3 402.5h0.8M218.5 400.4h0.8M210.8 396.1h0.8M210.8 401.1h0.8M204.1 401.1h0.8M212.1 403.0h0.8M212.4 399.6h0.8M205.9 401.8h0.8M205.3 405.9h0.8M202.7 399.8h0.8M219.7 399.7h0.8M206.0 403.4h0.8M208.4 394.2h0.8M215.3 398.3h0.8M214.9 396.2h0.8M218.6 402.2h0.8M216.6 405.1h0.8M220.7 399.9h0.8M215.7 402.5h0.8M218.8 402.7h0.8M220.8 405.9h0.8M213.5 401.0h0.8M219.7 396.6h0.8M216.1 401.4h0.8M216.9 403.2h0.8M218.0 400.9h0.8M222.3 402.3h0.8M215.4 397.0h0.8M221.3 407.8h0.8M219.6 404.2h0.8M218.9 397.0h0.8M219.5 403.7h0.8M220.3 407.3h0.8M216.6 399.0h0.8M215.6 400.5h0.8M217.6 400.6h0.8M217.9 387.1h0.8M215.1 390.1h0.8M208.5 384.0h0.8M220.6 387.9h0.8M220.9 383.6h0.8M220.0 383.7h0.8M214.4 394.7h0.8" stroke="#3a52d8" stroke-width="0.8" stroke-opacity="0.28" fill="none"/>
<path d="M220.6 380.3h0.8M223.6 381.0h0.8M223.3 378.8h0.8M222.0 379.9h0.8M227.4 379.6h0.8M224.0 380.8h0.8M222.1 382.5h0.8M229.7 378.9h0.8M222.1 379.2h0.8M227.8 380.0h0.8M223.0 378.3h0.8M224.9 378.5h0.8M224.5 380.8h0.8M227.9 374.6h0.8M225.7 378.2h0.8M218.2 379.8h0.8M222.4 379.3h0.8M222.7 381.1h0.8M226.0 379.6h0.8M223.7 376.9h0.8M222.8 377.8h0.8M224.5 379.1h0.8M218.5 378.1h0.8M202.6 396.9h0.8M205.9 398.5h0.8M213.7 402.1h0.8M203.5 405.6h0.8M207.7 402.6h0.8M213.9 401.7h0.8M201.6 404.6h0.8M210.0 403.0h0.8M212.1 402.3h0.8M208.2 403.2h0.8M206.6 400.7h0.8M206.6 404.1h0.8M199.2 405.0h0.8M207.7 401.2h0.8M210.8 407.8h0.8M223.3 403.9h0.8M195.4 401.8h0.8M202.2 402.4h0.8M214.6 403.8h0.8M203.4 402.3h0.8M204.5 398.5h0.8M208.6 399.5h0.8M211.1 402.2h0.8M200.3 399.8h0.8M228.1 404.2h0.8M215.6 399.5h0.8M206.5 403.1h0.8M210.0 401.5h0.8M204.2 402.7h0.8M217.7 406.4h0.8M215.2 403.6h0.8M199.9 400.9h0.8M204.8 402.8h0.8M209.8 400.7h0.8M214.9 403.3h0.8M216.3 398.3h0.8M219.0 402.8h0.8M221.4 397.3h0.8M222.7 398.6h0.8M220.7 401.3h0.8M220.0 402.7h0.8M217.6 404.3h0.8M218.3 401.3h0.8M219.6 403.2h0.8M217.7 399.6h0.8M219.4 393.7h0.8M217.5 408.7h0.8M216.3 401.0h0.8M215.5 405.0h0.8M215.3 401.6h0.8M218.9 398.7h0.8M222.2 399.5h0.8M222.4 399.6h0.8M218.5 403.2h0.8M218.4 396.5h0.8M214.5 407.4h0.8M217.8 399.1h0.8M212.7 378.8h0.8M222.0 391.1h0.8M214.5 379.2h0.8M210.6 397.6h0.8M207.4 386.4h0.8M220.4 391.9h0.8M220.1 393.6h0.8" stroke="#3a52d8" stroke-width="0.8" stroke-opacity="0.28" fill="none"/>
<path d="M219.5 379.7h0.8M223.3 383.2h0.8M222.2 378.6h0.8M224.9 379.2h0.8M219.3 379.9h0.8M224.0 376.1h0.8M219.1 380.1h0.8M225.3 380.7h0.8M224.2 380.8h0.8M219.1 378.1h0.8M227.4 381.2h0.8M225.3 379.7h0.8M220.3 381.0h0.8M224.0 379.9h0.8M221.5 381.2h0.8M223.9 380.6h0.8M226.3 378.6h0.8M224.8 381.5h0.8M222.6 380.1h0.8M221.3 380.5h0.8M221.3 381.8h0.8M228.2 378.2h0.8M221.4 380.3h0.8M210.3 400.0h0.8M199.0 398.2h0.8M209.4 403.4h0.8M218.1 401.8h0.8M210.4 407.3h0.8M206.3 409.1h0.8M203.1 401.7h0.8M208.1 404.2h0.8M219.1 399.3h0.8M204.0 398.1h0.8M209.4 405.0h0.8M206.0 404.7h0.8M214.3 404.8h0.8M217.9 402.9h0.8M213.1 401.9h0.8M206.9 401.1h0.8M212.4 402.0h0.8M211.9 403.8h0.8M203.6 403.6h0.8M205.1 407.5h0.8M214.8 403.5h0.8M209.0 398.5h0.8M213.1 398.8h0.8M217.7 405.2h0.8M214.5 400.7h0.8M201.4 401.4h0.8M211.4 400.3h0.8M204.0 401.5h0.8M200.8 402.4h0.8M206.0 404.8h0.8M209.0 403.8h0.8M220.7 402.1h0.8M207.1 400.2h0.8M208.2 399.1h0.8M214.3 400.0h0.8M214.4 402.2h0.8M220.1 401.7h0.8M218.9 408.1h0.8M217.5 399.8h0.8M217.8 403.4h0.8M221.9 399.9h0.8M219.9 400.8h0.8M217.6 404.5h0.8M218.5 399.8h0.8M219.5 399.0h0.8M218.0 402.2h0.8M217.7 402.5h0.8M216.5 402.2h0.8M217.6 404.5h0.8M220.3 397.7h0.8M222.0 401.9h0.8M223.2 401.8h0.8M218.1 401.3h0.8M219.7 405.3h0.8M217.6 397.8h0.8M219.9 400.0h0.8M210.2 396.2h0.8M216.1 382.7h0.8M213.3 380.6h0.8M205.0 380.3h0.8M219.9 382.6h0.8M206.4 398.0h0.8M215.2 397.0h0.8" stroke="#3a52d8" stroke-width="0.8" stroke-opacity="0.28" fill="none"/>
<path d="M222.5 380.0h0.8M226.4 376.6h0.8M225.7 380.1h0.8M220.6 379.9h0.8M222.9 381.1h0.8M223.1 376.4h0.8M222.2 379.0h0.8M228.6 379.5h0.8M217.3 379.7h0.8M221.8 379.0h0.8M217.6 378.3h0.8M218.5 378.7h0.8M225.3 378.5h0.8M213.2 378.2h0.8M222.6 380.3h0.8M219.7 378.2h0.8M221.0 379.8h0.8M222.1 379.7h0.8M223.2 379.6h0.8M218.9 380.3h0.8M227.3 378.5h0.8M222.3 377.3h0.8M216.3 405.0h0.8M210.9 401.4h0.8M213.7 397.6h0.8M206.3 405.1h0.8M212.7 400.2h0.8M213.4 403.7h0.8M206.1 399.2h0.8M197.4 401.1h0.8M204.7 403.2h0.8M202.8 403.8h0.8M208.1 402.1h0.8M215.0 403.8h0.8M213.9 409.3h0.8M202.9 401.7h0.8M206.9 405.3h0.8M208.2 402.2h0.8M204.4 402.8h0.8M210.6 402.5h0.8M209.9 398.9h0.8M204.2 402.2h0.8M209.0 403.3h0.8M203.6 400.5h0.8M218.6 399.5h0.8M206.8 402.8h0.8M211.6 407.1h0.8M214.2 401.5h0.8M207.9 403.0h0.8M212.0 404.5h0.8M199.8 402.7h0.8M216.4 403.5h0.8M205.1 408.3h0.8M210.3 407.6h0.8M219.1 400.9h0.8M209.4 395.9h0.8M218.8 404.2h0.8M220.8 403.3h0.8M216.0 398.9h0.8M221.3 405.0h0.8M220.6 401.7h0.8M217.1 401.0h0.8M216.5 402.9h0.8M215.9 402.5h0.8M217.3 398.3h0.8M218.8 405.8h0.8M219.8 402.2h0.8M214.6 407.5h0.8M219.4 403.7h0.8M217.6 400.7h0.8M213.7 401.3h0.8M221.9 400.8h0.8M217.1 402.2h0.8M217.1 400.6h0.8M218.9 404.3h0.8M216.7 405.9h0.8M218.4 399.7h0.8M213.8 405.8h0.8M219.1 396.2h0.8M224.1 388.5h0.8M212.1 387.2h0.8M216.6 398.3h0.8M218.3 382.7h0.8M216.0 391.9h0.8M208.9 382.4h0.8M225.5 394.5h0.8" stroke="#3a52d8" stroke-width="0.8" stroke-opacity="0.28" fill="none"/>
<path d="M219.4 379.1h0.8M223.1 379.4h0.8M228.2 378.7h0.8M223.7 380.6h0.8M218.1 377.8h0.8M220.7 378.7h0.8M223.2 378.1h0.8M224.2 379.0h0.8M226.4 377.7h0.8M224.1 379.9h0.8M222.3 380.4h0.8M221.2 380.1h0.8M228.3 379.2h0.8M222.0 381.6h0.8M224.7 380.3h0.8M223.3 378.7h0.8M223.5 377.2h0.8M228.5 379.4h0.8M224.0 379.0h0.8M228.8 381.7h0.8M223.1 380.9h0.8M224.8 379.3h0.8M227.2 401.3h0.8M211.8 405.3h0.8M214.0 400.2h0.8M197.4 402.9h0.8M206.6 400.6h0.8M206.0 404.2h0.8M206.0 403.5h0.8M201.0 406.0h0.8M216.8 402.8h0.8M202.4 403.0h0.8M203.6 400.3h0.8M209.7 401.4h0.8M202.1 402.0h0.8M210.4 403.3h0.8M205.5 402.2h0.8M211.7 401.5h0.8M209.3 398.8h0.8M199.7 396.2h0.8M210.5 404.3h0.8M207.1 402.8h0.8M210.2 400.8h0.8M214.3 403.4h0.8M209.3 403.5h0.8M212.0 404.7h0.8M220.3 402.4h0.8M205.4 404.2h0.8M215.9 402.9h0.8M209.3 400.9h0.8M202.9 400.0h0.8M201.9 397.9h0.8M205.1 399.9h0.8M211.1 401.3h0.8M210.2 405.5h0.8M213.4 395.8h0.8M222.5 405.4h0.8M217.8 405.1h0.8M220.2 401.8h0.8M217.2 399.1h0.8M212.8 404.5h0.8M213.2 401.0h0.8M220.6 402.8h0.8M219.1 396.2h0.8M218.6 405.1h0.8M218.9 402.7h0.8M217.5 404.8h0.8M217.5 400.7h0.8M216.6 402.5h0.8M214.5 402.4h0.8M217.9 404.4h0.8M217.8 406.0h0.8M220.5 401.6h0.8M217.5 401.0h0.8M219.5 403.8h0.8M215.2 398.9h0.8M214.5 401.6h0.8M220.7 403.9h0.8M210.8 398.6h0.8M220.2 387.0h0.8M213.1 390.5h0.8M209.8 393.2h0.8M216.9 385.2h0.8M204.3 392.4h0.8" stroke="#3a52d8" stroke-width="0.8" stroke-opacity="0.28" fill="none"/>
<defs><radialGradient id="g12"><stop offset="0" stop-color="#e0301e" stop-opacity="1"/><stop offset="0.25" stop-color="#f08a1c" stop-opacity="1"/><stop offset="0.45" stop-color="#e6e02a" stop-opacity="0.95"/><stop offset="0.65" stop-color="#3cc06a" stop-opacity="0.85"/><stop offset="0.85" stop-color="#2f7fd0" stop-opacity="0.6"/><stop offset="1" stop-color="#3050d0" stop-opacity="0"/></radialGradient></defs>
<ellipse cx="222.2" cy="379.3" rx="4.5" ry="2.5" fill="url(#g12)" transform="rotate(0 222.2 379.3)"/>
<defs><radialGradient id="g13"><stop offset="0" stop-color="#30b890" stop-opacity="0.85"/><stop offset="0.45" stop-color="#3a8ad0" stop-opacity="0.7"/><stop offset="1" stop-color="#3a50d0" stop-opacity="0"/></radialGradient></defs>
<ellipse cx="217.7" cy="402.3" rx="3" ry="3" fill="url(#g13)" transform="rotate(0 217.7 402.3)"/>
<rect x="194.2" y="369.3" width="42.4" height="41.6" fill="none" stroke="#7a7a7a" stroke-width="0.8"/>
<line x1="212.9" y1="369.3" x2="212.9" y2="410.9" stroke="#333" stroke-width="0.8"/>
<line x1="194.2" y1="391.9" x2="236.6" y2="391.9" stroke="#333" stroke-width="0.8"/>
<text x="192.4" y="374.3" font-size="4.2" text-anchor="end" fill="#222">10³</text>
<line x1="193.2" y1="372.9" x2="194.2" y2="372.9" stroke="#666" stroke-width="0.5"/>
<text x="192.4" y="383.7" font-size="4.2" text-anchor="end" fill="#222">10²</text>
<line x1="193.2" y1="382.3" x2="194.2" y2="382.3" stroke="#666" stroke-width="0.5"/>
<text x="192.4" y="393.3" font-size="4.2" text-anchor="end" fill="#222">10¹</text>
<line x1="193.2" y1="391.9" x2="194.2" y2="391.9" stroke="#666" stroke-width="0.5"/>
<text x="192.4" y="407.9" font-size="4.2" text-anchor="end" fill="#222">0</text>
<line x1="193.2" y1="406.5" x2="194.2" y2="406.5" stroke="#666" stroke-width="0.5"/>
<text x="199.7" y="415.8" font-size="4.2" text-anchor="middle" fill="#222">0</text>
<text x="212.1" y="415.8" font-size="4.2" text-anchor="middle" fill="#222">10¹</text>
<text x="222.5" y="415.8" font-size="4.2" text-anchor="middle" fill="#222">10²</text>
<text x="232.2" y="415.8" font-size="4.2" text-anchor="middle" fill="#222">10³</text>
<text x="232.4" y="375.9" font-size="5.6" text-anchor="end" fill="#222">34.6</text>
<text x="195.2" y="410.4" font-size="5.6" fill="#222">13.8</text>
<text x="232.4" y="410.4" font-size="5.6" text-anchor="end" fill="#222">30.8</text>
<text x="239" y="340.2" font-size="7" fill="#222" font-style="italic">De novo</text>
<text x="240" y="397.4" font-size="7" fill="#222">Refractory</text>
<line x1="23.6" y1="340.5" x2="23.6" y2="404" stroke="#222" stroke-width="0.9"/>
<path d="M23.6 337.6l-1.6 3.6h3.2z" stroke="#222" stroke-width="0.3" fill="#222"/>
<text transform="translate(26.6 409.8) rotate(-90)" font-size="7.6" text-anchor="middle" fill="#222">PI</text>
<text x="34.2" y="426" font-size="8.6" fill="#222" textLength="31" lengthAdjust="spacingAndGlyphs">Annexin V</text>
<line x1="67.9" y1="422.9" x2="181" y2="422.9" stroke="#222" stroke-width="0.9"/>
<path d="M184.4 422.9l-3.6 -1.6v3.2z" stroke="#222" stroke-width="0.3" fill="#222"/>
<text x="286.3" y="291.6" font-size="12.3" font-weight="bold" fill="#000">E</text>
<text x="356.6" y="304.2" font-size="9.3" text-anchor="middle" fill="#111" textLength="55.2" lengthAdjust="spacingAndGlyphs">FLT3-ITD AML</text>
<line x1="326.3" y1="325.3" x2="326.3" y2="376.3" stroke="#333" stroke-width="1.5"/>
<line x1="323.5" y1="375.8" x2="326.3" y2="375.8" stroke="#333" stroke-width="0.9"/>
<text x="320.5" y="378.07" font-size="6.3" text-anchor="end" fill="#3a3a3a">0</text>
<line x1="323.5" y1="366.62" x2="326.3" y2="366.62" stroke="#333" stroke-width="0.9"/>
<text x="320.5" y="368.89" font-size="6.3" text-anchor="end" fill="#3a3a3a">20</text>
<line x1="323.5" y1="357.44" x2="326.3" y2="357.44" stroke="#333" stroke-width="0.9"/>
<text x="320.5" y="359.71" font-size="6.3" text-anchor="end" fill="#3a3a3a">40</text>
<line x1="323.5" y1="348.26" x2="326.3" y2="348.26" stroke="#333" stroke-width="0.9"/>
<text x="320.5" y="350.53" font-size="6.3" text-anchor="end" fill="#3a3a3a">60</text>
<line x1="323.5" y1="339.08" x2="326.3" y2="339.08" stroke="#333" stroke-width="0.9"/>
<text x="320.5" y="341.35" font-size="6.3" text-anchor="end" fill="#3a3a3a">80</text>
<line x1="323.5" y1="329.9" x2="326.3" y2="329.9" stroke="#333" stroke-width="0.9"/>
<text x="320.5" y="332.17" font-size="6.3" text-anchor="end" fill="#3a3a3a">100</text>
<line x1="325.6" y1="375.8" x2="386.7" y2="375.8" stroke="#333" stroke-width="1.5"/>
<line x1="335.5" y1="375.8" x2="335.5" y2="378.8" stroke="#333" stroke-width="0.9"/>
<line x1="349.3" y1="375.8" x2="349.3" y2="378.8" stroke="#333" stroke-width="0.9"/>
<line x1="363.3" y1="375.8" x2="363.3" y2="378.8" stroke="#333" stroke-width="0.9"/>
<line x1="377" y1="375.8" x2="377" y2="378.8" stroke="#333" stroke-width="0.9"/>
<rect x="330.9" y="329.9" width="9" height="45.9" fill="#2d4b82" stroke="#213d73" stroke-width="0.6"/>
<rect x="344.9" y="340" width="9" height="35.8" fill="#a60029" stroke="#8e0020" stroke-width="0.6"/>
<line x1="349.4" y1="340" x2="349.4" y2="337.34" stroke="#333" stroke-width="0.6"/>
<line x1="347.9" y1="337.34" x2="350.9" y2="337.34" stroke="#333" stroke-width="0.7"/>
<rect x="358.7" y="343.99" width="9" height="31.81" fill="#6eaa46" stroke="#5e9a38" stroke-width="0.6"/>
<line x1="363.2" y1="343.99" x2="363.2" y2="342.16" stroke="#333" stroke-width="0.6"/>
<line x1="361.7" y1="342.16" x2="364.7" y2="342.16" stroke="#333" stroke-width="0.7"/>
<rect x="372.7" y="355.6" width="9" height="20.2" fill="#502664" stroke="#3e1852" stroke-width="0.6"/>
<line x1="377.2" y1="355.6" x2="377.2" y2="353.54" stroke="#333" stroke-width="0.6"/>
<line x1="375.7" y1="353.54" x2="378.7" y2="353.54" stroke="#333" stroke-width="0.7"/>
<line x1="335.2" y1="314.5" x2="377.3" y2="314.5" stroke="#333" stroke-width="0.7"/>
<line x1="335.2" y1="314.3" x2="335.2" y2="315.7" stroke="#333" stroke-width="0.6"/>
<line x1="377.3" y1="314.3" x2="377.3" y2="315.7" stroke="#333" stroke-width="0.6"/>
<text x="356.25" y="315.6" font-size="6.4" text-anchor="middle" font-weight="bold" fill="#111" letter-spacing="-0.1">***</text>
<line x1="335.2" y1="320.7" x2="363.3" y2="320.7" stroke="#333" stroke-width="0.7"/>
<line x1="335.2" y1="320.5" x2="335.2" y2="321.9" stroke="#333" stroke-width="0.6"/>
<line x1="363.3" y1="320.5" x2="363.3" y2="321.9" stroke="#333" stroke-width="0.6"/>
<text x="349.25" y="321.8" font-size="6.4" text-anchor="middle" font-weight="bold" fill="#111" letter-spacing="-0.1">*</text>
<line x1="335.2" y1="326.8" x2="349.6" y2="326.8" stroke="#333" stroke-width="0.7"/>
<line x1="335.2" y1="326.6" x2="335.2" y2="328" stroke="#333" stroke-width="0.6"/>
<line x1="349.6" y1="326.6" x2="349.6" y2="328" stroke="#333" stroke-width="0.6"/>
<text x="342.4" y="327.9" font-size="6.4" text-anchor="middle" font-weight="bold" fill="#111" letter-spacing="-0.1">*</text>
<line x1="349.3" y1="332.5" x2="377.3" y2="332.5" stroke="#333" stroke-width="0.7"/>
<line x1="349.3" y1="332.3" x2="349.3" y2="333.7" stroke="#333" stroke-width="0.6"/>
<line x1="377.3" y1="332.3" x2="377.3" y2="333.7" stroke="#333" stroke-width="0.6"/>
<text x="363.3" y="333.6" font-size="6.4" text-anchor="middle" font-weight="bold" fill="#111" letter-spacing="-0.1">**</text>
<line x1="363.3" y1="339" x2="377.3" y2="339" stroke="#333" stroke-width="0.7"/>
<line x1="363.3" y1="338.8" x2="363.3" y2="340.2" stroke="#333" stroke-width="0.6"/>
<line x1="377.3" y1="338.8" x2="377.3" y2="340.2" stroke="#333" stroke-width="0.6"/>
<text x="370.3" y="340.1" font-size="6.4" text-anchor="middle" font-weight="bold" fill="#111" letter-spacing="-0.1">**</text>
<text transform="translate(293.3 351.5) rotate(-90)" font-size="8.3" text-anchor="middle" fill="#3c3c3c" textLength="38.7" lengthAdjust="spacingAndGlyphs">Cell survival</text>
<text transform="translate(303 350.6) rotate(-90)" font-size="8.3" text-anchor="middle" fill="#3c3c3c" textLength="56.5" lengthAdjust="spacingAndGlyphs">(% vehicle control)</text>
<text transform="translate(339.2 386) rotate(-45)" font-size="6.75" text-anchor="end" fill="#222">Vehicle</text>
<text transform="translate(353.2 386) rotate(-45)" font-size="6.75" text-anchor="end" fill="#222">AC220</text>
<text transform="translate(367 386) rotate(-45)" font-size="6.75" text-anchor="end" fill="#222">22d</text>
<text transform="translate(381 386) rotate(-45)" font-size="6.75" text-anchor="end" fill="#222">AC220+22d</text>
<text x="402.6" y="291.6" font-size="12.3" font-weight="bold" fill="#000">F</text>
<text x="472.9" y="304.2" font-size="9.3" text-anchor="middle" fill="#111" textLength="55.2" lengthAdjust="spacingAndGlyphs">FLT3-ITD AML</text>
<line x1="442.3" y1="323.1" x2="442.3" y2="376.2" stroke="#333" stroke-width="1.5"/>
<line x1="439.5" y1="375.7" x2="442.3" y2="375.7" stroke="#333" stroke-width="0.9"/>
<text x="436.5" y="377.97" font-size="6.3" text-anchor="end" fill="#3a3a3a">0</text>
<line x1="439.5" y1="365.64" x2="442.3" y2="365.64" stroke="#333" stroke-width="0.9"/>
<text x="436.5" y="367.91" font-size="6.3" text-anchor="end" fill="#3a3a3a">100</text>
<line x1="439.5" y1="355.58" x2="442.3" y2="355.58" stroke="#333" stroke-width="0.9"/>
<text x="436.5" y="357.85" font-size="6.3" text-anchor="end" fill="#3a3a3a">200</text>
<line x1="439.5" y1="345.52" x2="442.3" y2="345.52" stroke="#333" stroke-width="0.9"/>
<text x="436.5" y="347.79" font-size="6.3" text-anchor="end" fill="#3a3a3a">300</text>
<line x1="439.5" y1="335.46" x2="442.3" y2="335.46" stroke="#333" stroke-width="0.9"/>
<text x="436.5" y="337.73" font-size="6.3" text-anchor="end" fill="#3a3a3a">400</text>
<line x1="439.5" y1="325.4" x2="442.3" y2="325.4" stroke="#333" stroke-width="0.9"/>
<text x="436.5" y="327.67" font-size="6.3" text-anchor="end" fill="#3a3a3a">500</text>
<line x1="441.6" y1="375.7" x2="502.3" y2="375.7" stroke="#333" stroke-width="1.5"/>
<line x1="451.5" y1="375.7" x2="451.5" y2="378.7" stroke="#333" stroke-width="0.9"/>
<line x1="465.8" y1="375.7" x2="465.8" y2="378.7" stroke="#333" stroke-width="0.9"/>
<line x1="479.5" y1="375.7" x2="479.5" y2="378.7" stroke="#333" stroke-width="0.9"/>
<line x1="493.5" y1="375.7" x2="493.5" y2="378.7" stroke="#333" stroke-width="0.9"/>
<rect x="446.9" y="336.16" width="9.3" height="39.54" fill="#2d4b82" stroke="#213d73" stroke-width="0.6"/>
<line x1="451.55" y1="336.16" x2="451.55" y2="329.93" stroke="#333" stroke-width="0.6"/>
<line x1="450.05" y1="329.93" x2="453.05" y2="329.93" stroke="#333" stroke-width="0.7"/>
<rect x="461" y="353.77" width="9.3" height="21.93" fill="#a60029" stroke="#8e0020" stroke-width="0.6"/>
<line x1="465.65" y1="353.77" x2="465.65" y2="351.46" stroke="#333" stroke-width="0.6"/>
<line x1="464.15" y1="351.46" x2="467.15" y2="351.46" stroke="#333" stroke-width="0.7"/>
<rect x="474.9" y="356.18" width="9.3" height="19.52" fill="#6eaa46" stroke="#5e9a38" stroke-width="0.6"/>
<line x1="479.55" y1="356.18" x2="479.55" y2="353.77" stroke="#333" stroke-width="0.6"/>
<line x1="478.05" y1="353.77" x2="481.05" y2="353.77" stroke="#333" stroke-width="0.7"/>
<rect x="488.9" y="368.36" width="9.3" height="7.34" fill="#502664" stroke="#3e1852" stroke-width="0.6"/>
<line x1="493.55" y1="368.36" x2="493.55" y2="366.55" stroke="#333" stroke-width="0.6"/>
<line x1="492.05" y1="366.55" x2="495.05" y2="366.55" stroke="#333" stroke-width="0.7"/>
<line x1="451.2" y1="315.7" x2="493.8" y2="315.7" stroke="#333" stroke-width="0.7"/>
<line x1="451.2" y1="315.5" x2="451.2" y2="316.9" stroke="#333" stroke-width="0.6"/>
<line x1="493.8" y1="315.5" x2="493.8" y2="316.9" stroke="#333" stroke-width="0.6"/>
<text x="472.5" y="316.8" font-size="6.4" text-anchor="middle" font-weight="bold" fill="#111" letter-spacing="-0.1">***</text>
<line x1="451.2" y1="321.4" x2="480" y2="321.4" stroke="#333" stroke-width="0.7"/>
<line x1="451.2" y1="321.2" x2="451.2" y2="322.6" stroke="#333" stroke-width="0.6"/>
<line x1="480" y1="321.2" x2="480" y2="322.6" stroke="#333" stroke-width="0.6"/>
<text x="465.6" y="322.5" font-size="6.4" text-anchor="middle" font-weight="bold" fill="#111" letter-spacing="-0.1">**</text>
<line x1="451.2" y1="327.2" x2="465.8" y2="327.2" stroke="#333" stroke-width="0.7"/>
<line x1="451.2" y1="327" x2="451.2" y2="328.4" stroke="#333" stroke-width="0.6"/>
<line x1="465.8" y1="327" x2="465.8" y2="328.4" stroke="#333" stroke-width="0.6"/>
<text x="458.5" y="328.3" font-size="6.4" text-anchor="middle" font-weight="bold" fill="#111" letter-spacing="-0.1">**</text>
<line x1="465.4" y1="343.4" x2="493.8" y2="343.4" stroke="#333" stroke-width="0.7"/>
<line x1="465.4" y1="343.2" x2="465.4" y2="344.6" stroke="#333" stroke-width="0.6"/>
<line x1="493.8" y1="343.2" x2="493.8" y2="344.6" stroke="#333" stroke-width="0.6"/>
<text x="479.6" y="344.5" font-size="6.4" text-anchor="middle" font-weight="bold" fill="#111" letter-spacing="-0.1">*</text>
<line x1="479.2" y1="351.1" x2="493.8" y2="351.1" stroke="#333" stroke-width="0.7"/>
<line x1="479.2" y1="350.9" x2="479.2" y2="352.3" stroke="#333" stroke-width="0.6"/>
<line x1="493.8" y1="350.9" x2="493.8" y2="352.3" stroke="#333" stroke-width="0.6"/>
<text x="486.5" y="352.2" font-size="6.4" text-anchor="middle" font-weight="bold" fill="#111" letter-spacing="-0.1">*</text>
<text transform="translate(409.8 349) rotate(-90)" font-size="8.3" text-anchor="middle" fill="#3c3c3c" textLength="28.9" lengthAdjust="spacingAndGlyphs">Colonies/</text>
<text transform="translate(420.7 349.1) rotate(-90)" font-size="8.3" text-anchor="middle" fill="#3c3c3c" textLength="39.2" lengthAdjust="spacingAndGlyphs">100000 cells</text>
<text transform="translate(455.2 386.3) rotate(-45)" font-size="6.75" text-anchor="end" fill="#222">Vehicle</text>
<text transform="translate(469.3 386.3) rotate(-45)" font-size="6.75" text-anchor="end" fill="#222">AC220</text>
<text transform="translate(483.2 386.3) rotate(-45)" font-size="6.75" text-anchor="end" fill="#222">22d</text>
<text transform="translate(497.2 386.3) rotate(-45)" font-size="6.75" text-anchor="end" fill="#222">AC220+22d</text>
<text x="9.5" y="454.5" font-size="12.3" font-weight="bold" fill="#000">G</text>
<text x="80" y="463.1" font-size="9.3" text-anchor="middle" fill="#111" textLength="55" lengthAdjust="spacingAndGlyphs">FLT3-ITD AML</text>
<rect x="45.4" y="471.5" width="7.7" height="4" fill="#2d4b82" stroke="#213d73" stroke-width="0.4"/>
<text x="55.7" y="475.3" font-size="5.5" fill="#333">shCtrl</text>
<rect x="79.7" y="471.5" width="7.9" height="4" fill="#a60029" stroke="#8e0020" stroke-width="0.4"/>
<text x="90.2" y="475.3" font-size="5.5" fill="#333">shHDAC8</text>
<line x1="49.6" y1="488.4" x2="49.6" y2="537.3" stroke="#333" stroke-width="1.5"/>
<line x1="46.8" y1="536.8" x2="49.6" y2="536.8" stroke="#333" stroke-width="0.9"/>
<text x="43.8" y="539.07" font-size="6.3" text-anchor="end" fill="#3a3a3a">0</text>
<line x1="46.8" y1="527.64" x2="49.6" y2="527.64" stroke="#333" stroke-width="0.9"/>
<text x="43.8" y="529.91" font-size="6.3" text-anchor="end" fill="#3a3a3a">20</text>
<line x1="46.8" y1="518.48" x2="49.6" y2="518.48" stroke="#333" stroke-width="0.9"/>
<text x="43.8" y="520.75" font-size="6.3" text-anchor="end" fill="#3a3a3a">40</text>
<line x1="46.8" y1="509.32" x2="49.6" y2="509.32" stroke="#333" stroke-width="0.9"/>
<text x="43.8" y="511.59" font-size="6.3" text-anchor="end" fill="#3a3a3a">60</text>
<line x1="46.8" y1="500.16" x2="49.6" y2="500.16" stroke="#333" stroke-width="0.9"/>
<text x="43.8" y="502.43" font-size="6.3" text-anchor="end" fill="#3a3a3a">80</text>
<line x1="46.8" y1="491" x2="49.6" y2="491" stroke="#333" stroke-width="0.9"/>
<text x="43.8" y="493.27" font-size="6.3" text-anchor="end" fill="#3a3a3a">100</text>
<line x1="48.9" y1="536.8" x2="110.3" y2="536.8" stroke="#333" stroke-width="1.5"/>
<line x1="64.2" y1="536.8" x2="64.2" y2="539.8" stroke="#333" stroke-width="0.9"/>
<line x1="95.3" y1="536.8" x2="95.3" y2="539.8" stroke="#333" stroke-width="0.9"/>
<rect x="54.2" y="491" width="8.9" height="45.8" fill="#2d4b82" stroke="#213d73" stroke-width="0.6"/>
<rect x="65.3" y="513.21" width="8.9" height="23.59" fill="#a60029" stroke="#8e0020" stroke-width="0.6"/>
<line x1="69.75" y1="513.21" x2="69.75" y2="511.38" stroke="#333" stroke-width="0.6"/>
<line x1="68.25" y1="511.38" x2="71.25" y2="511.38" stroke="#333" stroke-width="0.7"/>
<rect x="85.7" y="505.79" width="8.9" height="31.01" fill="#2d4b82" stroke="#213d73" stroke-width="0.6"/>
<line x1="90.15" y1="505.79" x2="90.15" y2="504.19" stroke="#333" stroke-width="0.6"/>
<line x1="88.65" y1="504.19" x2="91.65" y2="504.19" stroke="#333" stroke-width="0.7"/>
<rect x="96.8" y="525.12" width="8.9" height="11.68" fill="#a60029" stroke="#8e0020" stroke-width="0.6"/>
<line x1="101.25" y1="525.12" x2="101.25" y2="523.52" stroke="#333" stroke-width="0.6"/>
<line x1="99.75" y1="523.52" x2="102.75" y2="523.52" stroke="#333" stroke-width="0.7"/>
<line x1="58.3" y1="481.4" x2="90.5" y2="481.4" stroke="#333" stroke-width="0.7"/>
<line x1="58.3" y1="481.2" x2="58.3" y2="482.6" stroke="#333" stroke-width="0.6"/>
<line x1="90.5" y1="481.2" x2="90.5" y2="482.6" stroke="#333" stroke-width="0.6"/>
<text x="74.4" y="482.5" font-size="6.4" text-anchor="middle" font-weight="bold" fill="#111" letter-spacing="-0.1">***</text>
<line x1="58.3" y1="487.6" x2="70.3" y2="487.6" stroke="#333" stroke-width="0.7"/>
<line x1="58.3" y1="487.4" x2="58.3" y2="488.8" stroke="#333" stroke-width="0.6"/>
<line x1="70.3" y1="487.4" x2="70.3" y2="488.8" stroke="#333" stroke-width="0.6"/>
<text x="64.3" y="488.7" font-size="6.4" text-anchor="middle" font-weight="bold" fill="#111" letter-spacing="-0.1">***</text>
<line x1="68.9" y1="494.4" x2="101.8" y2="494.4" stroke="#333" stroke-width="0.7"/>
<line x1="68.9" y1="494.2" x2="68.9" y2="495.6" stroke="#333" stroke-width="0.6"/>
<line x1="101.8" y1="494.2" x2="101.8" y2="495.6" stroke="#333" stroke-width="0.6"/>
<text x="85.35" y="495.5" font-size="6.4" text-anchor="middle" font-weight="bold" fill="#111" letter-spacing="-0.1">**</text>
<line x1="89.2" y1="501.6" x2="101.8" y2="501.6" stroke="#333" stroke-width="0.7"/>
<line x1="89.2" y1="501.4" x2="89.2" y2="502.8" stroke="#333" stroke-width="0.6"/>
<line x1="101.8" y1="501.4" x2="101.8" y2="502.8" stroke="#333" stroke-width="0.6"/>
<text x="95.5" y="502.7" font-size="6.4" text-anchor="middle" font-weight="bold" fill="#111" letter-spacing="-0.1">***</text>
<text transform="translate(17 512.5) rotate(-90)" font-size="8.3" text-anchor="middle" fill="#3c3c3c" textLength="35.6" lengthAdjust="spacingAndGlyphs">Cell survival</text>
<text transform="translate(26.6 511.2) rotate(-90)" font-size="8.3" text-anchor="middle" fill="#3c3c3c" textLength="56.5" lengthAdjust="spacingAndGlyphs">(% vehicle control)</text>
<text transform="translate(68 547) rotate(-45)" font-size="6.75" text-anchor="end" fill="#222">Vehicle</text>
<text transform="translate(99.2 547) rotate(-45)" font-size="6.75" text-anchor="end" fill="#222">AC220</text>
<text x="130.8" y="454.3" font-size="12.3" font-weight="bold" fill="#000">H</text>
<text x="197.4" y="463" font-size="9.3" text-anchor="middle" fill="#111" textLength="54.6" lengthAdjust="spacingAndGlyphs">FLT3-ITD AML</text>
<rect x="162.4" y="471.5" width="8" height="4" fill="#2d4b82" stroke="#213d73" stroke-width="0.4"/>
<text x="172.6" y="475.3" font-size="5.5" fill="#333">shCtrl</text>
<rect x="197" y="471.5" width="8" height="4" fill="#a60029" stroke="#8e0020" stroke-width="0.4"/>
<text x="207.2" y="475.3" font-size="5.5" fill="#333">shHDAC8</text>
<line x1="166.2" y1="484" x2="166.2" y2="537.3" stroke="#333" stroke-width="1.5"/>
<line x1="163.4" y1="536.8" x2="166.2" y2="536.8" stroke="#333" stroke-width="0.9"/>
<text x="160.4" y="539.07" font-size="6.3" text-anchor="end" fill="#3a3a3a">0</text>
<line x1="163.4" y1="520.03" x2="166.2" y2="520.03" stroke="#333" stroke-width="0.9"/>
<text x="160.4" y="522.3" font-size="6.3" text-anchor="end" fill="#3a3a3a">20</text>
<line x1="163.4" y1="503.27" x2="166.2" y2="503.27" stroke="#333" stroke-width="0.9"/>
<text x="160.4" y="505.53" font-size="6.3" text-anchor="end" fill="#3a3a3a">40</text>
<line x1="163.4" y1="486.5" x2="166.2" y2="486.5" stroke="#333" stroke-width="0.9"/>
<text x="160.4" y="488.77" font-size="6.3" text-anchor="end" fill="#3a3a3a">60</text>
<line x1="165.5" y1="536.8" x2="228.5" y2="536.8" stroke="#333" stroke-width="1.5"/>
<line x1="181.5" y1="536.8" x2="181.5" y2="539.8" stroke="#333" stroke-width="0.9"/>
<line x1="212.8" y1="536.8" x2="212.8" y2="539.8" stroke="#333" stroke-width="0.9"/>
<rect x="171.2" y="496.98" width="8.9" height="39.82" fill="#2d4b82" stroke="#213d73" stroke-width="0.6"/>
<line x1="175.65" y1="496.98" x2="175.65" y2="493.21" stroke="#333" stroke-width="0.6"/>
<line x1="174.15" y1="493.21" x2="177.15" y2="493.21" stroke="#333" stroke-width="0.7"/>
<rect x="182.3" y="526.99" width="8.9" height="9.81" fill="#a60029" stroke="#8e0020" stroke-width="0.6"/>
<line x1="186.75" y1="526.99" x2="186.75" y2="525.99" stroke="#333" stroke-width="0.6"/>
<line x1="185.25" y1="525.99" x2="188.25" y2="525.99" stroke="#333" stroke-width="0.7"/>
<rect x="202.6" y="525.23" width="8.9" height="11.57" fill="#2d4b82" stroke="#213d73" stroke-width="0.6"/>
<line x1="207.05" y1="525.23" x2="207.05" y2="523.72" stroke="#333" stroke-width="0.6"/>
<line x1="205.55" y1="523.72" x2="208.55" y2="523.72" stroke="#333" stroke-width="0.7"/>
<rect x="213.8" y="533.7" width="8.9" height="3.1" fill="#a60029" stroke="#8e0020" stroke-width="0.6"/>
<line x1="218.25" y1="533.7" x2="218.25" y2="533.03" stroke="#333" stroke-width="0.6"/>
<line x1="216.75" y1="533.03" x2="219.75" y2="533.03" stroke="#333" stroke-width="0.7"/>
<line x1="175.4" y1="483.8" x2="207.7" y2="483.8" stroke="#333" stroke-width="0.7"/>
<line x1="175.4" y1="483.6" x2="175.4" y2="485" stroke="#333" stroke-width="0.6"/>
<line x1="207.7" y1="483.6" x2="207.7" y2="485" stroke="#333" stroke-width="0.6"/>
<text x="191.55" y="484.9" font-size="6.4" text-anchor="middle" font-weight="bold" fill="#111" letter-spacing="-0.1">**</text>
<line x1="175.4" y1="489.5" x2="187.7" y2="489.5" stroke="#333" stroke-width="0.7"/>
<line x1="175.4" y1="489.3" x2="175.4" y2="490.7" stroke="#333" stroke-width="0.6"/>
<line x1="187.7" y1="489.3" x2="187.7" y2="490.7" stroke="#333" stroke-width="0.6"/>
<text x="181.55" y="490.6" font-size="6.4" text-anchor="middle" font-weight="bold" fill="#111" letter-spacing="-0.1">**</text>
<line x1="186.6" y1="513.1" x2="218.9" y2="513.1" stroke="#333" stroke-width="0.7"/>
<line x1="186.6" y1="512.9" x2="186.6" y2="514.3" stroke="#333" stroke-width="0.6"/>
<line x1="218.9" y1="512.9" x2="218.9" y2="514.3" stroke="#333" stroke-width="0.6"/>
<text x="202.75" y="514.2" font-size="6.4" text-anchor="middle" font-weight="bold" fill="#111" letter-spacing="-0.1">*</text>
<line x1="207" y1="519.5" x2="218.9" y2="519.5" stroke="#333" stroke-width="0.7"/>
<line x1="207" y1="519.3" x2="207" y2="520.7" stroke="#333" stroke-width="0.6"/>
<line x1="218.9" y1="519.3" x2="218.9" y2="520.7" stroke="#333" stroke-width="0.6"/>
<text x="212.95" y="520.6" font-size="6.4" text-anchor="middle" font-weight="bold" fill="#111" letter-spacing="-0.1">**</text>
<text transform="translate(137.8 509.8) rotate(-90)" font-size="8.3" text-anchor="middle" fill="#3c3c3c" textLength="28.5" lengthAdjust="spacingAndGlyphs">Colonies/</text>
<text transform="translate(149 509.4) rotate(-90)" font-size="8.3" text-anchor="middle" fill="#3c3c3c" textLength="39.3" lengthAdjust="spacingAndGlyphs">100000 cells</text>
<text transform="translate(185.3 547) rotate(-45)" font-size="6.75" text-anchor="end" fill="#222">Vehicle</text>
<text transform="translate(216.7 547) rotate(-45)" font-size="6.75" text-anchor="end" fill="#222">AC220</text>
<text x="250" y="454.8" font-size="12.3" font-weight="bold" fill="#000">I</text>
<line x1="276.8" y1="477.7" x2="276.8" y2="537" stroke="#222" stroke-width="1.1"/>
<line x1="274.6" y1="536.5" x2="276.8" y2="536.5" stroke="#222" stroke-width="0.8"/>
<text x="273.4" y="538.8" font-size="6.5" text-anchor="end" fill="#2a2a2a">0</text>
<line x1="274.6" y1="509.25" x2="276.8" y2="509.25" stroke="#222" stroke-width="0.8"/>
<text x="273.4" y="511.55" font-size="6.5" text-anchor="end" fill="#2a2a2a">50</text>
<line x1="274.6" y1="482" x2="276.8" y2="482" stroke="#222" stroke-width="0.8"/>
<text x="273.4" y="484.3" font-size="6.5" text-anchor="end" fill="#2a2a2a">100</text>
<path d="M276.8 482H308.75 V486.9H309.75 V490.6H311.25 V495H312.5 V498.1H313.5 V503.1H314.4 V508.75H319.4 V511.9H320.25 V515H323.75 V522.5H324.4 V531.9H325.6 V536.5" stroke="#2d4b9a" stroke-width="1.25" fill="none"/>
<path d="M308.75 482H322.6 V487.2H325.6 V498.1H328.9 V503.5H330 V509.5H332.1 V515H335.4 V519.8H339.2 V525.8H344.6 V536.5" stroke="#b0103a" stroke-width="1.25" fill="none"/>
<path d="M322.6 482H336.3 V493.2H338.7 V503.5H341.4 V509.5H344.6 V519.8H350.4 V536.5" stroke="#6cb046" stroke-width="1.25" fill="none"/>
<path d="M336.3 482H344.6 V492.7H350.4 V504.1H352.8 V509.5H353.9 V515H356 V525.8H359.75 V536.5" stroke="#6a2c8a" stroke-width="1.25" fill="none"/>
<line x1="276.3" y1="536.5" x2="371.1" y2="536.5" stroke="#222" stroke-width="1.3"/>
<line x1="277.3" y1="536.5" x2="277.3" y2="538.7" stroke="#222" stroke-width="0.8"/>
<text x="277.3" y="548.8" font-size="7" text-anchor="middle" fill="#2a2a2a">0</text>
<line x1="299.9" y1="536.5" x2="299.9" y2="538.7" stroke="#222" stroke-width="0.8"/>
<text x="299.9" y="548.8" font-size="7" text-anchor="middle" fill="#2a2a2a">20</text>
<line x1="322.5" y1="536.5" x2="322.5" y2="538.7" stroke="#222" stroke-width="0.8"/>
<text x="322.5" y="548.8" font-size="7" text-anchor="middle" fill="#2a2a2a">40</text>
<line x1="345.1" y1="536.5" x2="345.1" y2="538.7" stroke="#222" stroke-width="0.8"/>
<text x="345.1" y="548.8" font-size="7" text-anchor="middle" fill="#2a2a2a">60</text>
<line x1="367.7" y1="536.5" x2="367.7" y2="538.7" stroke="#222" stroke-width="0.8"/>
<text x="367.7" y="548.8" font-size="7" text-anchor="middle" fill="#2a2a2a">80</text>
<line x1="311.9" y1="491" x2="325" y2="491" stroke="#151515" stroke-width="0.75"/>
<path d="M311.9 491l1.6 -0.9v1.8z" stroke="#222" stroke-width="0.3" fill="#222"/>
<path d="M325 491l-1.6 -0.9v1.8z" stroke="#222" stroke-width="0.3" fill="#222"/>
<text x="318.45" y="491.9" font-size="7" text-anchor="middle" font-weight="bold" fill="#000" letter-spacing="-0.1">***</text>
<line x1="326.7" y1="494.8" x2="350" y2="494.8" stroke="#151515" stroke-width="0.75"/>
<path d="M326.7 494.8l1.6 -0.9v1.8z" stroke="#222" stroke-width="0.3" fill="#222"/>
<path d="M350 494.8l-1.6 -0.9v1.8z" stroke="#222" stroke-width="0.3" fill="#222"/>
<text x="338.35" y="495.7" font-size="7" text-anchor="middle" font-weight="bold" fill="#000" letter-spacing="-0.1">****</text>
<line x1="313" y1="503.2" x2="338.7" y2="503.2" stroke="#151515" stroke-width="0.75"/>
<path d="M313 503.2l1.6 -0.9v1.8z" stroke="#222" stroke-width="0.3" fill="#222"/>
<path d="M338.7 503.2l-1.6 -0.9v1.8z" stroke="#222" stroke-width="0.3" fill="#222"/>
<text x="325.85" y="504.1" font-size="7" text-anchor="middle" font-weight="bold" fill="#000" letter-spacing="-0.1">****</text>
<line x1="345.7" y1="513.3" x2="353.3" y2="513.3" stroke="#151515" stroke-width="0.75"/>
<path d="M345.7 513.3l1.6 -0.9v1.8z" stroke="#222" stroke-width="0.3" fill="#222"/>
<path d="M353.3 513.3l-1.6 -0.9v1.8z" stroke="#222" stroke-width="0.3" fill="#222"/>
<text x="349.5" y="514.2" font-size="7" text-anchor="middle" font-weight="bold" fill="#000" letter-spacing="-0.1">**</text>
<line x1="325.6" y1="523.4" x2="355.5" y2="523.4" stroke="#151515" stroke-width="0.75"/>
<path d="M325.6 523.4l1.6 -0.9v1.8z" stroke="#222" stroke-width="0.3" fill="#222"/>
<path d="M355.5 523.4l-1.6 -0.9v1.8z" stroke="#222" stroke-width="0.3" fill="#222"/>
<text x="340.55" y="524.3" font-size="7" text-anchor="middle" font-weight="bold" fill="#000" letter-spacing="-0.1">***</text>
<text transform="translate(255.1 506.4) rotate(-90)" font-size="8.3" text-anchor="middle" fill="#3c3c3c" textLength="47.9" lengthAdjust="spacingAndGlyphs">Percent survival</text>
<text x="324" y="561.3" font-size="8.4" text-anchor="middle" fill="#333" textLength="35" lengthAdjust="spacingAndGlyphs">Time (days)</text>
<line x1="278.7" y1="461" x2="285.5" y2="461" stroke="#2d4b9a" stroke-width="1.3"/>
<text x="288.5" y="463" font-size="5.8" fill="#333">Ctrl</text>
<line x1="308.3" y1="461" x2="315.1" y2="461" stroke="#6cb046" stroke-width="1.3"/>
<text x="318.1" y="463" font-size="5.8" fill="#333">AC220</text>
<line x1="278.7" y1="471" x2="285.5" y2="471" stroke="#b0103a" stroke-width="1.3"/>
<text x="288.5" y="473" font-size="5.8" fill="#333">22d</text>
<line x1="308.3" y1="471" x2="315.1" y2="471" stroke="#6a2c8a" stroke-width="1.3"/>
<text x="318.1" y="473" font-size="5.8" fill="#333">AC220+22d</text>
<text x="388" y="454.8" font-size="12.3" font-weight="bold" fill="#000">J</text>
<line x1="415.8" y1="477.7" x2="415.8" y2="537" stroke="#222" stroke-width="1.1"/>
<line x1="413.6" y1="536.5" x2="415.8" y2="536.5" stroke="#222" stroke-width="0.8"/>
<text x="412.4" y="538.8" font-size="6.5" text-anchor="end" fill="#2a2a2a">0</text>
<line x1="413.6" y1="509" x2="415.8" y2="509" stroke="#222" stroke-width="0.8"/>
<text x="412.4" y="511.3" font-size="6.5" text-anchor="end" fill="#2a2a2a">50</text>
<line x1="413.6" y1="481.5" x2="415.8" y2="481.5" stroke="#222" stroke-width="0.8"/>
<text x="412.4" y="483.8" font-size="6.5" text-anchor="end" fill="#2a2a2a">100</text>
<path d="M415.8 481.5H443.75 V492.5H445 V503.75H448.1 V508.75H452.5 V514.4H454.4 V531.25H457.5 V536.5" stroke="#2d4b9a" stroke-width="1.25" fill="none"/>
<path d="M443.75 481.5H468.5 V493.1H471.25 V503.75H473.1 V515H477.5 V520H480 V531.9H482.25 V536.5" stroke="#b0103a" stroke-width="1.25" fill="none"/>
<path d="M466.9 481.5H466.9 V492.5H468.75 V503.1H470.6 V508.75H472.5 V516.25H475 V531.25H480.25 V536.5" stroke="#6cb046" stroke-width="1.25" fill="none"/>
<path d="M468.5 481.5H480.25 V492.5H482.75 V503.75H485 V513.75H488.75 V520H492.5 V525.6H493.75 V531.25H499.4 V536.5" stroke="#6a2c8a" stroke-width="1.25" fill="none"/>
<line x1="415.3" y1="536.5" x2="510.5" y2="536.5" stroke="#222" stroke-width="1.3"/>
<line x1="416.4" y1="536.5" x2="416.4" y2="538.7" stroke="#222" stroke-width="0.8"/>
<text x="416.4" y="548.8" font-size="7" text-anchor="middle" fill="#2a2a2a">0</text>
<line x1="434.46" y1="536.5" x2="434.46" y2="538.7" stroke="#222" stroke-width="0.8"/>
<text x="434.46" y="548.8" font-size="7" text-anchor="middle" fill="#2a2a2a">20</text>
<line x1="452.52" y1="536.5" x2="452.52" y2="538.7" stroke="#222" stroke-width="0.8"/>
<text x="452.52" y="548.8" font-size="7" text-anchor="middle" fill="#2a2a2a">40</text>
<line x1="470.58" y1="536.5" x2="470.58" y2="538.7" stroke="#222" stroke-width="0.8"/>
<text x="470.58" y="548.8" font-size="7" text-anchor="middle" fill="#2a2a2a">60</text>
<line x1="488.64" y1="536.5" x2="488.64" y2="538.7" stroke="#222" stroke-width="0.8"/>
<text x="488.64" y="548.8" font-size="7" text-anchor="middle" fill="#2a2a2a">80</text>
<line x1="506.7" y1="536.5" x2="506.7" y2="538.7" stroke="#222" stroke-width="0.8"/>
<text x="506.7" y="548.8" font-size="7" text-anchor="middle" fill="#2a2a2a">100</text>
<line x1="444.4" y1="490.25" x2="467.5" y2="490.25" stroke="#151515" stroke-width="0.75"/>
<path d="M444.4 490.25l1.6 -0.9v1.8z" stroke="#222" stroke-width="0.3" fill="#222"/>
<path d="M467.5 490.25l-1.6 -0.9v1.8z" stroke="#222" stroke-width="0.3" fill="#222"/>
<text x="455.95" y="491.15" font-size="7" text-anchor="middle" font-weight="bold" fill="#000" letter-spacing="-0.1">****</text>
<line x1="471.25" y1="496.5" x2="482.5" y2="496.5" stroke="#151515" stroke-width="0.75"/>
<path d="M471.25 496.5l1.6 -0.9v1.8z" stroke="#222" stroke-width="0.3" fill="#222"/>
<path d="M482.5 496.5l-1.6 -0.9v1.8z" stroke="#222" stroke-width="0.3" fill="#222"/>
<text x="476.88" y="497.4" font-size="7" text-anchor="middle" font-weight="bold" fill="#000" letter-spacing="-0.1">****</text>
<line x1="448.75" y1="507.75" x2="472.5" y2="507.75" stroke="#151515" stroke-width="0.75"/>
<path d="M448.75 507.75l1.6 -0.9v1.8z" stroke="#222" stroke-width="0.3" fill="#222"/>
<path d="M472.5 507.75l-1.6 -0.9v1.8z" stroke="#222" stroke-width="0.3" fill="#222"/>
<text x="460.62" y="508.65" font-size="7" text-anchor="middle" font-weight="bold" fill="#000" letter-spacing="-0.1">****</text>
<line x1="473.75" y1="516" x2="488.75" y2="516" stroke="#151515" stroke-width="0.75"/>
<path d="M473.75 516l1.6 -0.9v1.8z" stroke="#222" stroke-width="0.3" fill="#222"/>
<path d="M488.75 516l-1.6 -0.9v1.8z" stroke="#222" stroke-width="0.3" fill="#222"/>
<text x="481.25" y="516.9" font-size="7" text-anchor="middle" font-weight="bold" fill="#000" letter-spacing="-0.1">****</text>
<line x1="455" y1="526.9" x2="493.1" y2="526.9" stroke="#151515" stroke-width="0.75"/>
<path d="M455 526.9l1.6 -0.9v1.8z" stroke="#222" stroke-width="0.3" fill="#222"/>
<path d="M493.1 526.9l-1.6 -0.9v1.8z" stroke="#222" stroke-width="0.3" fill="#222"/>
<text x="474.05" y="527.8" font-size="7" text-anchor="middle" font-weight="bold" fill="#000" letter-spacing="-0.1">****</text>
<text transform="translate(394.6 506.4) rotate(-90)" font-size="8.3" text-anchor="middle" fill="#3c3c3c" textLength="47.9" lengthAdjust="spacingAndGlyphs">Percent survival</text>
<text x="463.9" y="561.3" font-size="8.4" text-anchor="middle" fill="#333" textLength="35" lengthAdjust="spacingAndGlyphs">Time (days)</text>
<line x1="408.3" y1="461" x2="415.1" y2="461" stroke="#2d4b9a" stroke-width="1.3"/>
<text x="418.1" y="463" font-size="5.8" fill="#333">shCtrl</text>
<line x1="458.2" y1="461" x2="465" y2="461" stroke="#6cb046" stroke-width="1.3"/>
<text x="468" y="463" font-size="5.8" fill="#333">AC220</text>
<line x1="408.3" y1="471" x2="415.1" y2="471" stroke="#b0103a" stroke-width="1.3"/>
<text x="418.1" y="473" font-size="5.8" fill="#333">shHDAC8</text>
<line x1="458.2" y1="471" x2="465" y2="471" stroke="#6a2c8a" stroke-width="1.3"/>
<text x="468" y="473" font-size="5.8" fill="#333">AC220+shHDAC8</text>
<rect x="0.5" y="0.5" width="519" height="569" fill="none" stroke="#000" stroke-width="1.2"/>
</svg>
</body></html>
